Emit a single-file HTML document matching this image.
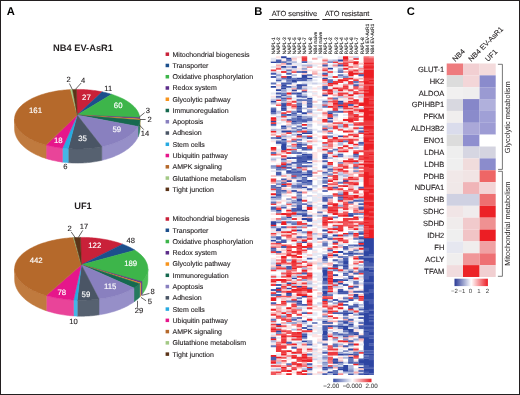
<!DOCTYPE html>
<html><head><meta charset="utf-8"><style>
html,body{margin:0;padding:0;background:#fff;}
body{width:520px;height:395px;overflow:hidden;position:relative;}
svg{position:absolute;left:0;top:0;will-change:transform;}
text{font-family:"Liberation Sans", sans-serif;text-rendering:geometricPrecision;}
</style></head><body>
<svg width="520" height="395" viewBox="0 0 520 395" shape-rendering="geometricPrecision">
<rect x="0" y="0" width="520" height="395" fill="#fff"/>
<text x="6.8" y="14.6" font-size="11.2" font-weight="bold" fill="#000">A</text>
<text x="254.2" y="14.7" font-size="11.2" font-weight="bold" fill="#000">B</text>
<text x="406.7" y="14.6" font-size="11.2" font-weight="bold" fill="#000">C</text>
<text x="83" y="50.9" font-size="9.3" font-weight="bold" text-anchor="middle" fill="#231f20">NB4 EV-AsR1</text>
<text x="83" y="208.9" font-size="9.3" font-weight="bold" text-anchor="middle" fill="#231f20">UF1</text>
<polygon points="139.90,119.20 139.89,119.60 139.88,120.00 139.88,129.48 139.89,129.01 139.90,128.55" fill="#f8a03a" stroke="#f8a03a" stroke-width="0.5" stroke-linejoin="round"/>
<polygon points="139.88,120.00 139.82,120.72 139.72,121.45 139.59,122.17 139.42,122.89 139.21,123.61 138.97,124.32 138.69,125.03 138.37,125.74 138.02,126.45 138.02,136.95 138.37,136.14 138.69,135.31 138.97,134.49 139.21,133.66 139.42,132.83 139.59,131.99 139.72,131.16 139.82,130.32 139.88,129.48" fill="#257a5e" stroke="#257a5e" stroke-width="0.5" stroke-linejoin="round"/>
<polygon points="138.02,126.45 137.61,127.19 137.16,127.92 136.67,128.65 136.14,129.37 135.57,130.08 134.97,130.79 134.32,131.49 133.64,132.18 132.92,132.86 132.17,133.53 131.38,134.20 130.55,134.85 129.69,135.50 128.80,136.13 127.87,136.75 126.90,137.37 125.91,137.96 124.88,138.55 123.82,139.13 122.73,139.69 121.62,140.23 120.47,140.77 119.29,141.29 118.09,141.79 116.86,142.28 115.60,142.76 114.32,143.22 113.01,143.66 111.68,144.09 110.33,144.50 108.95,144.90 107.56,145.27 106.14,145.64 104.71,145.98 103.26,146.30 101.79,146.61 101.79,160.33 103.26,159.98 104.71,159.60 106.14,159.20 107.56,158.78 108.95,158.34 110.33,157.88 111.68,157.41 113.01,156.91 114.32,156.40 115.60,155.86 116.86,155.31 118.09,154.74 119.29,154.16 120.47,153.56 121.62,152.94 122.73,152.30 123.82,151.65 124.88,150.99 125.91,150.31 126.90,149.61 127.87,148.90 128.80,148.18 129.69,147.45 130.55,146.70 131.38,145.94 132.17,145.17 132.92,144.39 133.64,143.60 134.32,142.80 134.97,141.98 135.57,141.16 136.14,140.34 136.67,139.50 137.16,138.66 137.61,137.81 138.02,136.95" fill="#968fc8" stroke="#968fc8" stroke-width="0.5" stroke-linejoin="round"/>
<polygon points="101.79,146.61 100.28,146.91 98.75,147.18 97.21,147.44 95.66,147.68 94.09,147.90 92.51,148.10 90.92,148.28 89.32,148.44 87.72,148.58 86.10,148.70 84.48,148.80 82.86,148.88 81.23,148.94 79.60,148.98 77.97,149.00 76.33,149.00 74.70,148.98 73.07,148.94 71.44,148.87 69.82,148.79 68.20,148.69 68.20,162.74 69.82,162.86 71.44,162.95 73.07,163.02 74.70,163.07 76.33,163.10 77.97,163.10 79.60,163.07 81.23,163.03 82.86,162.96 84.48,162.87 86.10,162.75 87.72,162.61 89.32,162.45 90.92,162.26 92.51,162.05 94.09,161.82 95.66,161.57 97.21,161.29 98.75,161.00 100.28,160.67 101.79,160.33" fill="#566170" stroke="#566170" stroke-width="0.5" stroke-linejoin="round"/>
<polygon points="68.20,148.69 66.75,148.58 65.30,148.46 63.86,148.32 62.43,148.16 62.43,162.13 63.86,162.31 65.30,162.47 66.75,162.62 68.20,162.74" fill="#45b5e6" stroke="#45b5e6" stroke-width="0.5" stroke-linejoin="round"/>
<polygon points="62.43,148.16 60.87,147.97 59.33,147.76 57.80,147.54 56.28,147.29 54.78,147.03 53.29,146.75 51.81,146.45 50.35,146.13 48.91,145.80 47.49,145.44 46.09,145.07 46.09,158.55 47.49,158.98 48.91,159.38 50.35,159.77 51.81,160.14 53.29,160.49 54.78,160.81 56.28,161.12 57.80,161.40 59.33,161.67 60.87,161.91 62.43,162.13" fill="#e94499" stroke="#e94499" stroke-width="0.5" stroke-linejoin="round"/>
<polygon points="46.09,145.07 44.70,144.69 43.34,144.28 42.00,143.86 40.68,143.42 39.38,142.97 38.11,142.50 36.87,142.02 35.65,141.52 34.46,141.00 33.30,140.48 32.16,139.93 31.06,139.38 29.99,138.81 28.94,138.23 27.93,137.63 26.95,137.03 26.01,136.41 25.10,135.78 24.22,135.14 23.38,134.49 22.57,133.83 21.80,133.15 21.06,132.47 20.37,131.79 19.71,131.09 19.08,130.38 18.50,129.67 17.95,128.95 17.45,128.23 16.98,127.50 16.55,126.76 16.16,126.02 15.82,125.27 15.51,124.52 15.24,123.77 15.01,123.01 14.83,122.25 14.69,121.49 14.58,120.73 14.52,119.96 14.50,119.20 14.50,128.55 14.52,129.44 14.58,130.32 14.69,131.21 14.83,132.09 15.01,132.97 15.24,133.85 15.51,134.72 15.82,135.59 16.16,136.45 16.55,137.31 16.98,138.17 17.45,139.02 17.95,139.86 18.50,140.69 19.08,141.52 19.71,142.33 20.37,143.14 21.06,143.94 21.80,144.73 22.57,145.51 23.38,146.27 24.22,147.03 25.10,147.77 26.01,148.50 26.95,149.22 27.93,149.92 28.94,150.61 29.99,151.28 31.06,151.94 32.16,152.59 33.30,153.22 34.46,153.83 35.65,154.42 36.87,155.00 38.11,155.56 39.38,156.11 40.68,156.63 42.00,157.14 43.34,157.63 44.70,158.10 46.09,158.55" fill="#c07a3e" stroke="#c07a3e" stroke-width="0.5" stroke-linejoin="round"/>
<polygon points="77.20,115.10 76.43,89.40 77.99,89.40 79.55,89.42 81.10,89.46 82.65,89.51 84.20,89.59 85.75,89.68 87.29,89.79 88.82,89.92 90.34,90.06 91.86,90.23 93.37,90.41 94.87,90.61 96.36,90.82 97.83,91.06 99.30,91.31 100.75,91.58 102.18,91.87" fill="#c92139" stroke="#c92139" stroke-width="0.5" stroke-linejoin="round"/>
<polygon points="77.20,115.10 102.18,91.87 103.59,92.17 104.97,92.48 106.35,92.82 107.70,93.16 109.04,93.53 110.35,93.91 111.65,94.30" fill="#1c4f8c" stroke="#1c4f8c" stroke-width="0.5" stroke-linejoin="round"/>
<polygon points="77.20,115.10 111.65,94.30 113.00,94.74 114.33,95.19 115.64,95.66 116.91,96.14 118.16,96.64 119.39,97.15 120.58,97.68 121.74,98.23 122.88,98.79 123.98,99.36 125.05,99.94 126.09,100.54 127.10,101.16 128.07,101.78 129.01,102.41 129.91,103.06 130.78,103.72 131.61,104.39 132.40,105.07 133.16,105.75 133.87,106.45 134.55,107.16 135.19,107.87 135.79,108.59 136.36,109.32 136.88,110.06 137.36,110.80 137.80,111.55 138.20,112.30 138.55,113.06 138.87,113.82 139.14,114.59 139.38,115.35 139.57,116.12 139.71,116.90 139.82,117.67" fill="#3db54a" stroke="#3db54a" stroke-width="0.5" stroke-linejoin="round"/>
<polygon points="77.20,115.10 139.82,117.67 139.88,118.37 139.90,119.07" fill="#5c2d8a" stroke="#5c2d8a" stroke-width="0.5" stroke-linejoin="round"/>
<polygon points="77.20,115.10 139.90,119.07 139.90,119.53 139.88,120.00" fill="#f7941d" stroke="#f7941d" stroke-width="0.5" stroke-linejoin="round"/>
<polygon points="77.20,115.10 139.88,120.00 139.82,120.72 139.72,121.45 139.59,122.17 139.42,122.89 139.21,123.61 138.97,124.32 138.69,125.03 138.37,125.74 138.02,126.45" fill="#16694f" stroke="#16694f" stroke-width="0.5" stroke-linejoin="round"/>
<polygon points="77.20,115.10 138.02,126.45 137.61,127.19 137.16,127.92 136.67,128.65 136.14,129.37 135.57,130.08 134.97,130.79 134.32,131.49 133.64,132.18 132.92,132.86 132.17,133.53 131.38,134.20 130.55,134.85 129.69,135.50 128.80,136.13 127.87,136.75 126.90,137.37 125.91,137.96 124.88,138.55 123.82,139.13 122.73,139.69 121.62,140.23 120.47,140.77 119.29,141.29 118.09,141.79 116.86,142.28 115.60,142.76 114.32,143.22 113.01,143.66 111.68,144.09 110.33,144.50 108.95,144.90 107.56,145.27 106.14,145.64 104.71,145.98 103.26,146.30 101.79,146.61" fill="#8980bf" stroke="#8980bf" stroke-width="0.5" stroke-linejoin="round"/>
<polygon points="77.20,115.10 101.79,146.61 100.28,146.91 98.75,147.18 97.21,147.44 95.66,147.68 94.09,147.90 92.51,148.10 90.92,148.28 89.32,148.44 87.72,148.58 86.10,148.70 84.48,148.80 82.86,148.88 81.23,148.94 79.60,148.98 77.97,149.00 76.33,149.00 74.70,148.98 73.07,148.94 71.44,148.87 69.82,148.79 68.20,148.69" fill="#4a5565" stroke="#4a5565" stroke-width="0.5" stroke-linejoin="round"/>
<polygon points="77.20,115.10 68.20,148.69 66.75,148.58 65.30,148.46 63.86,148.32 62.43,148.16" fill="#27aae1" stroke="#27aae1" stroke-width="0.5" stroke-linejoin="round"/>
<polygon points="77.20,115.10 62.43,148.16 60.87,147.97 59.33,147.76 57.80,147.54 56.28,147.29 54.78,147.03 53.29,146.75 51.81,146.45 50.35,146.13 48.91,145.80 47.49,145.44 46.09,145.07" fill="#e6168b" stroke="#e6168b" stroke-width="0.5" stroke-linejoin="round"/>
<polygon points="77.20,115.10 46.09,145.07 44.69,144.68 43.31,144.27 41.95,143.84 40.62,143.40 39.31,142.94 38.03,142.47 36.77,141.98 35.54,141.47 34.34,140.95 33.17,140.41 32.02,139.86 30.91,139.30 29.83,138.72 28.78,138.13 27.76,137.53 26.78,136.91 25.83,136.29 24.91,135.65 24.03,135.00 23.19,134.34 22.38,133.66 21.61,132.98 20.88,132.29 20.18,131.60 19.52,130.89 18.91,130.17 18.33,129.45 17.79,128.72 17.29,127.99 16.83,127.24 16.41,126.50 16.03,125.75 15.69,124.99 15.40,124.23 15.15,123.47 14.93,122.70 14.76,121.93 14.64,121.16 14.55,120.39 14.51,119.61 14.50,118.84 14.55,118.07 14.63,117.30 14.75,116.53 14.92,115.76 15.13,114.99 15.38,114.23 15.67,113.47 16.01,112.71 16.38,111.96 16.80,111.21 17.25,110.47 17.75,109.73 18.29,109.00 18.86,108.28 19.48,107.56 20.13,106.86 20.83,106.16 21.56,105.47 22.32,104.78 23.13,104.11 23.97,103.45 24.85,102.80 25.76,102.16 26.71,101.53 27.69,100.92 28.70,100.31 29.75,99.72 30.83,99.14 31.94,98.58 33.08,98.03 34.25,97.49 35.45,96.97 36.68,96.46 37.93,95.97 39.22,95.49 40.52,95.03 41.85,94.59 43.21,94.16 44.59,93.75 45.99,93.35 47.41,92.98 48.85,92.62 50.31,92.28 51.79,91.96 53.28,91.65 54.79,91.37 56.32,91.10 57.86,90.85 59.42,90.62 60.98,90.41 62.56,90.22 64.14,90.05 65.74,89.90 67.34,89.77 68.95,89.66 70.57,89.57" fill="#b5692b" stroke="#b5692b" stroke-width="0.5" stroke-linejoin="round"/>
<polygon points="77.20,115.10 70.57,89.57 71.54,89.52 72.52,89.48" fill="#a3c985" stroke="#a3c985" stroke-width="0.5" stroke-linejoin="round"/>
<polygon points="77.20,115.10 72.52,89.48 73.82,89.44 75.13,89.42 76.43,89.40" fill="#5b3418" stroke="#5b3418" stroke-width="0.5" stroke-linejoin="round"/>
<polygon points="147.90,268.80 147.88,269.58 147.82,270.36 147.71,271.15 147.57,271.93 147.38,272.70 147.16,273.48 146.89,274.25 146.58,275.02 146.23,275.79 145.84,276.55 145.41,277.30 144.94,278.05 144.43,278.80 143.88,279.54 143.29,280.27 142.67,281.00 142.00,281.71 142.00,294.53 142.67,293.69 143.29,292.84 143.88,291.98 144.43,291.12 144.94,290.25 145.41,289.37 145.84,288.48 146.23,287.59 146.58,286.69 146.89,285.79 147.16,284.88 147.38,283.98 147.57,283.06 147.71,282.15 147.82,281.23 147.88,280.32 147.90,279.40" fill="#4dbd58" stroke="#4dbd58" stroke-width="0.5" stroke-linejoin="round"/>
<polygon points="142.00,281.71 141.38,282.35 140.72,282.98 140.72,296.02 141.38,295.28 142.00,294.53" fill="#6a3a96" stroke="#6a3a96" stroke-width="0.5" stroke-linejoin="round"/>
<polygon points="140.72,282.98 140.29,283.37 139.85,283.76 139.85,296.93 140.29,296.48 140.72,296.02" fill="#f8a03a" stroke="#f8a03a" stroke-width="0.5" stroke-linejoin="round"/>
<polygon points="139.85,283.76 139.10,284.39 138.32,285.02 137.51,285.64 136.67,286.25 135.79,286.85 134.89,287.44 133.96,288.02 133.96,301.92 134.89,301.24 135.79,300.55 136.67,299.85 137.51,299.13 138.32,298.41 139.10,297.67 139.85,296.93" fill="#257a5e" stroke="#257a5e" stroke-width="0.5" stroke-linejoin="round"/>
<polygon points="133.96,288.02 132.89,288.65 131.79,289.27 130.66,289.87 129.49,290.46 128.30,291.04 127.07,291.60 125.81,292.15 124.52,292.68 123.20,293.20 121.85,293.70 120.48,294.18 119.08,294.65 117.66,295.10 116.21,295.53 114.74,295.95 113.25,296.34 111.74,296.72 110.20,297.08 108.65,297.42 107.08,297.75 105.49,298.05 103.88,298.33 102.27,298.60 100.63,298.84 98.99,299.07 98.99,314.87 100.63,314.61 102.27,314.32 103.88,314.01 105.49,313.68 107.08,313.32 108.65,312.95 110.20,312.55 111.74,312.12 113.25,311.68 114.74,311.22 116.21,310.73 117.66,310.22 119.08,309.70 120.48,309.15 121.85,308.58 123.20,308.00 124.52,307.39 125.81,306.77 127.07,306.13 128.30,305.47 129.49,304.79 130.66,304.10 131.79,303.39 132.89,302.66 133.96,301.92" fill="#968fc8" stroke="#968fc8" stroke-width="0.5" stroke-linejoin="round"/>
<polygon points="98.99,299.07 97.35,299.27 95.71,299.45 94.05,299.62 92.39,299.76 90.72,299.88 89.04,299.98 87.36,300.07 85.67,300.13 83.98,300.17 82.29,300.20 80.60,300.20 78.91,300.18 77.22,300.14 77.22,316.13 78.91,316.18 80.60,316.20 82.29,316.20 83.98,316.17 85.67,316.12 87.36,316.05 89.04,315.95 90.72,315.83 92.39,315.68 94.05,315.51 95.71,315.32 97.35,315.11 98.99,314.87" fill="#566170" stroke="#566170" stroke-width="0.5" stroke-linejoin="round"/>
<polygon points="77.22,300.14 75.98,300.10 74.75,300.05 73.51,299.99 73.51,315.95 74.75,316.02 75.98,316.08 77.22,316.13" fill="#45b5e6" stroke="#45b5e6" stroke-width="0.5" stroke-linejoin="round"/>
<polygon points="73.51,299.99 71.82,299.88 70.13,299.76 68.45,299.62 66.77,299.45 65.11,299.27 63.46,299.06 61.82,298.84 60.19,298.59 58.57,298.33 56.97,298.04 55.39,297.74 53.82,297.42 52.27,297.08 50.74,296.72 49.23,296.34 47.74,295.94 46.28,295.53 46.28,310.73 47.74,311.21 49.23,311.68 50.74,312.12 52.27,312.54 53.82,312.94 55.39,313.32 56.97,313.67 58.57,314.00 60.19,314.31 61.82,314.60 63.46,314.86 65.11,315.10 66.77,315.32 68.45,315.51 70.13,315.68 71.82,315.83 73.51,315.95" fill="#e94499" stroke="#e94499" stroke-width="0.5" stroke-linejoin="round"/>
<polygon points="46.28,295.53 44.81,295.09 43.36,294.63 41.95,294.16 40.55,293.67 39.19,293.16 37.85,292.63 36.55,292.09 35.27,291.53 34.03,290.96 32.82,290.37 31.64,289.77 30.49,289.15 29.38,288.52 28.31,287.87 27.27,287.22 26.26,286.55 25.30,285.86 24.37,285.17 23.49,284.46 22.64,283.75 21.83,283.02 21.06,282.29 20.33,281.54 19.65,280.79 19.00,280.03 18.40,279.26 17.85,278.48 17.33,277.70 16.86,276.91 16.43,276.11 16.05,275.31 15.71,274.51 15.42,273.70 15.17,272.89 14.96,272.07 14.80,271.26 14.69,270.44 14.62,269.62 14.60,268.80 14.60,279.40 14.62,280.36 14.69,281.32 14.80,282.28 14.96,283.24 15.17,284.19 15.42,285.14 15.71,286.09 16.05,287.03 16.43,287.97 16.86,288.90 17.33,289.83 17.85,290.74 18.40,291.65 19.00,292.56 19.65,293.45 20.33,294.33 21.06,295.21 21.83,296.07 22.64,296.92 23.49,297.76 24.37,298.58 25.30,299.40 26.26,300.20 27.27,300.98 28.31,301.75 29.38,302.51 30.49,303.25 31.64,303.97 32.82,304.68 34.03,305.37 35.27,306.04 36.55,306.70 37.85,307.33 39.19,307.95 40.55,308.54 41.95,309.12 43.36,309.68 44.81,310.21 46.28,310.73" fill="#c07a3e" stroke="#c07a3e" stroke-width="0.5" stroke-linejoin="round"/>
<polygon points="81.40,264.80 80.44,237.40 82.12,237.40 83.80,237.42 85.48,237.46 87.16,237.52 88.84,237.60 90.51,237.70 92.17,237.82 93.83,237.96 95.48,238.12 97.12,238.30 98.75,238.50 100.37,238.72 101.97,238.96 103.57,239.21 105.14,239.49 106.71,239.78 108.26,240.09 109.79,240.42 111.30,240.77 112.79,241.14 114.26,241.52 115.72,241.92 117.15,242.34 118.55,242.78 119.94,243.23 121.29,243.70 122.63,244.18" fill="#c92139" stroke="#c92139" stroke-width="0.5" stroke-linejoin="round"/>
<polygon points="81.40,264.80 122.63,244.18 123.89,244.67 125.13,245.16 126.34,245.67 127.52,246.20 128.68,246.74 129.80,247.29 130.90,247.85 131.97,248.43 133.01,249.02 134.02,249.62 135.00,250.23" fill="#1c4f8c" stroke="#1c4f8c" stroke-width="0.5" stroke-linejoin="round"/>
<polygon points="81.40,264.80 135.00,250.23 136.00,250.89 136.96,251.56 137.88,252.24 138.77,252.94 139.62,253.64 140.43,254.35 141.20,255.08 141.93,255.81 142.62,256.55 143.27,257.30 143.88,258.05 144.44,258.82 144.97,259.59 145.45,260.37 145.89,261.15 146.29,261.93 146.64,262.73 146.95,263.52 147.22,264.32 147.44,265.12 147.62,265.93 147.76,266.74 147.85,267.54 147.89,268.35 147.90,269.16 147.85,269.97 147.77,270.78 147.64,271.59 147.46,272.39 147.24,273.19 146.98,273.99 146.68,274.79 146.33,275.58 145.94,276.37 145.50,277.15 145.02,277.93 144.50,278.70 143.94,279.46 143.33,280.22 142.69,280.97 142.00,281.71" fill="#3db54a" stroke="#3db54a" stroke-width="0.5" stroke-linejoin="round"/>
<polygon points="81.40,264.80 142.00,281.71 141.38,282.35 140.72,282.98" fill="#5c2d8a" stroke="#5c2d8a" stroke-width="0.5" stroke-linejoin="round"/>
<polygon points="81.40,264.80 140.72,282.98 140.29,283.37 139.85,283.76" fill="#f7941d" stroke="#f7941d" stroke-width="0.5" stroke-linejoin="round"/>
<polygon points="81.40,264.80 139.85,283.76 139.10,284.39 138.32,285.02 137.51,285.64 136.67,286.25 135.79,286.85 134.89,287.44 133.96,288.02" fill="#16694f" stroke="#16694f" stroke-width="0.5" stroke-linejoin="round"/>
<polygon points="81.40,264.80 133.96,288.02 132.89,288.65 131.79,289.27 130.66,289.87 129.49,290.46 128.30,291.04 127.07,291.60 125.81,292.15 124.52,292.68 123.20,293.20 121.85,293.70 120.48,294.18 119.08,294.65 117.66,295.10 116.21,295.53 114.74,295.95 113.25,296.34 111.74,296.72 110.20,297.08 108.65,297.42 107.08,297.75 105.49,298.05 103.88,298.33 102.27,298.60 100.63,298.84 98.99,299.07" fill="#8980bf" stroke="#8980bf" stroke-width="0.5" stroke-linejoin="round"/>
<polygon points="81.40,264.80 98.99,299.07 97.35,299.27 95.71,299.45 94.05,299.62 92.39,299.76 90.72,299.88 89.04,299.98 87.36,300.07 85.67,300.13 83.98,300.17 82.29,300.20 80.60,300.20 78.91,300.18 77.22,300.14" fill="#4a5565" stroke="#4a5565" stroke-width="0.5" stroke-linejoin="round"/>
<polygon points="81.40,264.80 77.22,300.14 75.98,300.10 74.75,300.05 73.51,299.99" fill="#27aae1" stroke="#27aae1" stroke-width="0.5" stroke-linejoin="round"/>
<polygon points="81.40,264.80 73.51,299.99 71.82,299.88 70.13,299.76 68.45,299.62 66.77,299.45 65.11,299.27 63.46,299.06 61.82,298.84 60.19,298.59 58.57,298.33 56.97,298.04 55.39,297.74 53.82,297.42 52.27,297.08 50.74,296.72 49.23,296.34 47.74,295.94 46.28,295.53" fill="#e6168b" stroke="#e6168b" stroke-width="0.5" stroke-linejoin="round"/>
<polygon points="81.40,264.80 46.28,295.53 44.81,295.09 43.38,294.64 41.96,294.16 40.58,293.67 39.22,293.17 37.88,292.64 36.58,292.11 35.31,291.55 34.07,290.98 32.86,290.39 31.69,289.79 30.55,289.18 29.44,288.55 28.37,287.91 27.33,287.26 26.33,286.59 25.36,285.91 24.44,285.22 23.55,284.52 22.70,283.81 21.89,283.08 21.13,282.35 20.40,281.61 19.71,280.86 19.07,280.10 18.46,279.34 17.90,278.56 17.39,277.78 16.91,277.00 16.48,276.21 16.09,275.41 15.75,274.61 15.45,273.81 15.20,273.00 14.99,272.19 14.82,271.38 14.70,270.56 14.63,269.75 14.60,268.93 14.62,268.11 14.68,267.30 14.78,266.48 14.93,265.67 15.13,264.86 15.37,264.05 15.65,263.24 15.98,262.44 16.35,261.64 16.77,260.85 17.23,260.06 17.74,259.28 18.28,258.51 18.87,257.74 19.50,256.98 20.18,256.23 20.89,255.48 21.65,254.75 22.44,254.02 23.28,253.31 24.16,252.60 25.07,251.91 26.02,251.22 27.01,250.55 28.03,249.89 29.10,249.25 30.19,248.62 31.32,248.00 32.49,247.39 33.69,246.80 34.92,246.23 36.18,245.67 37.47,245.12 38.79,244.60 40.14,244.08 41.52,243.59 42.93,243.11 44.36,242.65 45.81,242.21 47.29,241.78 48.80,241.37 50.32,240.99 51.87,240.62 53.43,240.27 55.02,239.93 56.62,239.62 58.24,239.33 59.87,239.06 61.52,238.81 63.18,238.58 64.86,238.36 66.54,238.17 68.24,238.00 69.94,237.86 71.66,237.73 73.38,237.62" fill="#b5692b" stroke="#b5692b" stroke-width="0.5" stroke-linejoin="round"/>
<polygon points="81.40,264.80 73.38,237.62 74.12,237.58" fill="#a3c985" stroke="#a3c985" stroke-width="0.5" stroke-linejoin="round"/>
<polygon points="81.40,264.80 74.12,237.58 75.69,237.51 77.27,237.46 78.85,237.42 80.44,237.40" fill="#5b3418" stroke="#5b3418" stroke-width="0.5" stroke-linejoin="round"/>
<text x="35.55" y="113.15" font-size="7.8" text-anchor="middle" fill="#fff" stroke="#fff" stroke-width="0.15">161</text>
<text x="58.3" y="143.05" font-size="7.8" text-anchor="middle" fill="#fff" stroke="#fff" stroke-width="0.15">18</text>
<text x="82.55" y="140.95" font-size="7.8" text-anchor="middle" fill="#fff" stroke="#fff" stroke-width="0.15">35</text>
<text x="86.45" y="99.55" font-size="7.8" text-anchor="middle" fill="#fff" stroke="#fff" stroke-width="0.15">27</text>
<text x="118.15" y="108.05" font-size="7.8" text-anchor="middle" fill="#fff" stroke="#fff" stroke-width="0.15">60</text>
<text x="116.75" y="132.05" font-size="7.8" text-anchor="middle" fill="#fff" stroke="#fff" stroke-width="0.15">59</text>
<text x="36.15" y="263.0" font-size="7.8" text-anchor="middle" fill="#fff" stroke="#fff" stroke-width="0.15">442</text>
<text x="61.75" y="294.65" font-size="7.8" text-anchor="middle" fill="#fff" stroke="#fff" stroke-width="0.15">78</text>
<text x="85.95" y="296.5" font-size="7.8" text-anchor="middle" fill="#fff" stroke="#fff" stroke-width="0.15">59</text>
<text x="110.2" y="288.5" font-size="7.8" text-anchor="middle" fill="#fff" stroke="#fff" stroke-width="0.15">115</text>
<text x="94.75" y="247.6" font-size="7.8" text-anchor="middle" fill="#fff" stroke="#fff" stroke-width="0.15">122</text>
<text x="130.65" y="265.55" font-size="7.8" text-anchor="middle" fill="#fff" stroke="#fff" stroke-width="0.15">189</text>
<text x="68.65" y="82.0" font-size="7.6" text-anchor="middle" fill="#231f20" stroke="#231f20" stroke-width="0.12">2</text>
<text x="83.0" y="82.8" font-size="7.6" text-anchor="middle" fill="#231f20" stroke="#231f20" stroke-width="0.12">4</text>
<text x="108.25" y="90.9" font-size="7.6" text-anchor="middle" fill="#231f20" stroke="#231f20" stroke-width="0.12">11</text>
<text x="147.8" y="112.8" font-size="7.6" text-anchor="middle" fill="#231f20" stroke="#231f20" stroke-width="0.12">3</text>
<text x="149.7" y="122.1" font-size="7.6" text-anchor="middle" fill="#231f20" stroke="#231f20" stroke-width="0.12">2</text>
<text x="145.1" y="136.45" font-size="7.6" text-anchor="middle" fill="#231f20" stroke="#231f20" stroke-width="0.12">14</text>
<text x="65.4" y="169.4" font-size="7.6" text-anchor="middle" fill="#231f20" stroke="#231f20" stroke-width="0.12">6</text>
<text x="69.6" y="230.85" font-size="7.6" text-anchor="middle" fill="#231f20" stroke="#231f20" stroke-width="0.12">2</text>
<text x="84.05" y="229.45" font-size="7.6" text-anchor="middle" fill="#231f20" stroke="#231f20" stroke-width="0.12">17</text>
<text x="130.65" y="243.05" font-size="7.6" text-anchor="middle" fill="#231f20" stroke="#231f20" stroke-width="0.12">48</text>
<text x="152.6" y="293.75" font-size="7.6" text-anchor="middle" fill="#231f20" stroke="#231f20" stroke-width="0.12">8</text>
<text x="149.95" y="303.95" font-size="7.6" text-anchor="middle" fill="#231f20" stroke="#231f20" stroke-width="0.12">5</text>
<text x="138.95" y="312.85" font-size="7.6" text-anchor="middle" fill="#231f20" stroke="#231f20" stroke-width="0.12">29</text>
<text x="73.6" y="323.55" font-size="7.6" text-anchor="middle" fill="#231f20" stroke="#231f20" stroke-width="0.12">10</text>
<line x1="69.4" y1="83.5" x2="72.3" y2="89.4" stroke="#231f20" stroke-width="0.7"/>
<line x1="81.2" y1="83" x2="75.4" y2="89.4" stroke="#231f20" stroke-width="0.7"/>
<line x1="144.6" y1="112.7" x2="139.2" y2="117.1" stroke="#231f20" stroke-width="0.7"/>
<line x1="145.6" y1="119.5" x2="139.8" y2="119.5" stroke="#231f20" stroke-width="0.7"/>
<line x1="143.7" y1="129.6" x2="139.2" y2="124.8" stroke="#231f20" stroke-width="0.7"/>
<line x1="71.2" y1="231.9" x2="75.4" y2="237.9" stroke="#231f20" stroke-width="0.7"/>
<line x1="82.7" y1="230.4" x2="78.3" y2="237.5" stroke="#231f20" stroke-width="0.7"/>
<line x1="149.5" y1="293.4" x2="142.1" y2="295.3" stroke="#231f20" stroke-width="0.7"/>
<line x1="146.1" y1="300.8" x2="141" y2="297.4" stroke="#231f20" stroke-width="0.7"/>
<line x1="137.5" y1="307.6" x2="137.5" y2="300.8" stroke="#231f20" stroke-width="0.7"/>
<rect x="165.6" y="52.45" width="3.5" height="3.5" fill="#c92139"/>
<text x="172.5" y="56.65" font-size="7.0" fill="#231f20" stroke="#231f20" stroke-width="0.12">Mitochondrial biogenesis</text>
<rect x="165.6" y="63.71" width="3.5" height="3.5" fill="#1c4f8c"/>
<text x="172.5" y="67.91" font-size="7.0" fill="#231f20" stroke="#231f20" stroke-width="0.12">Transporter</text>
<rect x="165.6" y="74.97" width="3.5" height="3.5" fill="#3db54a"/>
<text x="172.5" y="79.17" font-size="7.0" fill="#231f20" stroke="#231f20" stroke-width="0.12">Oxidative phosphorylation</text>
<rect x="165.6" y="86.23" width="3.5" height="3.5" fill="#5c2d8a"/>
<text x="172.5" y="90.43" font-size="7.0" fill="#231f20" stroke="#231f20" stroke-width="0.12">Redox system</text>
<rect x="165.6" y="97.49" width="3.5" height="3.5" fill="#f7941d"/>
<text x="172.5" y="101.69" font-size="7.0" fill="#231f20" stroke="#231f20" stroke-width="0.12">Glycolytic pathway</text>
<rect x="165.6" y="108.75" width="3.5" height="3.5" fill="#16694f"/>
<text x="172.5" y="112.95" font-size="7.0" fill="#231f20" stroke="#231f20" stroke-width="0.12">Immunoregulation</text>
<rect x="165.6" y="120.01" width="3.5" height="3.5" fill="#8980bf"/>
<text x="172.5" y="124.21" font-size="7.0" fill="#231f20" stroke="#231f20" stroke-width="0.12">Apoptosis</text>
<rect x="165.6" y="131.27" width="3.5" height="3.5" fill="#4a5565"/>
<text x="172.5" y="135.47" font-size="7.0" fill="#231f20" stroke="#231f20" stroke-width="0.12">Adhesion</text>
<rect x="165.6" y="142.53" width="3.5" height="3.5" fill="#27aae1"/>
<text x="172.5" y="146.73" font-size="7.0" fill="#231f20" stroke="#231f20" stroke-width="0.12">Stem cells</text>
<rect x="165.6" y="153.79" width="3.5" height="3.5" fill="#e6168b"/>
<text x="172.5" y="157.99" font-size="7.0" fill="#231f20" stroke="#231f20" stroke-width="0.12">Ubiquitin pathway</text>
<rect x="165.6" y="165.05" width="3.5" height="3.5" fill="#b5692b"/>
<text x="172.5" y="169.25" font-size="7.0" fill="#231f20" stroke="#231f20" stroke-width="0.12">AMPK signaling</text>
<rect x="165.6" y="176.31" width="3.5" height="3.5" fill="#a3c985"/>
<text x="172.5" y="180.51" font-size="7.0" fill="#231f20" stroke="#231f20" stroke-width="0.12">Glutathione metabolism</text>
<rect x="165.6" y="187.57" width="3.5" height="3.5" fill="#5b3418"/>
<text x="172.5" y="191.77" font-size="7.0" fill="#231f20" stroke="#231f20" stroke-width="0.12">Tight junction</text>
<rect x="165.6" y="217.25" width="3.5" height="3.5" fill="#c92139"/>
<text x="172.5" y="221.45" font-size="7.0" fill="#231f20" stroke="#231f20" stroke-width="0.12">Mitochondrial biogenesis</text>
<rect x="165.6" y="228.51" width="3.5" height="3.5" fill="#1c4f8c"/>
<text x="172.5" y="232.71" font-size="7.0" fill="#231f20" stroke="#231f20" stroke-width="0.12">Transporter</text>
<rect x="165.6" y="239.77" width="3.5" height="3.5" fill="#3db54a"/>
<text x="172.5" y="243.97" font-size="7.0" fill="#231f20" stroke="#231f20" stroke-width="0.12">Oxidative phosphorylation</text>
<rect x="165.6" y="251.03" width="3.5" height="3.5" fill="#5c2d8a"/>
<text x="172.5" y="255.23" font-size="7.0" fill="#231f20" stroke="#231f20" stroke-width="0.12">Redox system</text>
<rect x="165.6" y="262.29" width="3.5" height="3.5" fill="#f7941d"/>
<text x="172.5" y="266.49" font-size="7.0" fill="#231f20" stroke="#231f20" stroke-width="0.12">Glycolytic pathway</text>
<rect x="165.6" y="273.55" width="3.5" height="3.5" fill="#16694f"/>
<text x="172.5" y="277.75" font-size="7.0" fill="#231f20" stroke="#231f20" stroke-width="0.12">Immunoregulation</text>
<rect x="165.6" y="284.81" width="3.5" height="3.5" fill="#8980bf"/>
<text x="172.5" y="289.01" font-size="7.0" fill="#231f20" stroke="#231f20" stroke-width="0.12">Apoptosis</text>
<rect x="165.6" y="296.07" width="3.5" height="3.5" fill="#4a5565"/>
<text x="172.5" y="300.27" font-size="7.0" fill="#231f20" stroke="#231f20" stroke-width="0.12">Adhesion</text>
<rect x="165.6" y="307.33" width="3.5" height="3.5" fill="#27aae1"/>
<text x="172.5" y="311.53" font-size="7.0" fill="#231f20" stroke="#231f20" stroke-width="0.12">Stem cells</text>
<rect x="165.6" y="318.59" width="3.5" height="3.5" fill="#e6168b"/>
<text x="172.5" y="322.79" font-size="7.0" fill="#231f20" stroke="#231f20" stroke-width="0.12">Ubiquitin pathway</text>
<rect x="165.6" y="329.85" width="3.5" height="3.5" fill="#b5692b"/>
<text x="172.5" y="334.05" font-size="7.0" fill="#231f20" stroke="#231f20" stroke-width="0.12">AMPK signaling</text>
<rect x="165.6" y="341.11" width="3.5" height="3.5" fill="#a3c985"/>
<text x="172.5" y="345.31" font-size="7.0" fill="#231f20" stroke="#231f20" stroke-width="0.12">Glutathione metabolism</text>
<rect x="165.6" y="352.37" width="3.5" height="3.5" fill="#5b3418"/>
<text x="172.5" y="356.57" font-size="7.0" fill="#231f20" stroke="#231f20" stroke-width="0.12">Tight junction</text>
<text x="294.35" y="16.4" font-size="7.4" text-anchor="middle" fill="#231f20" stroke="#231f20" stroke-width="0.1">ATO sensitive</text>
<text x="347.15" y="16.4" font-size="7.4" text-anchor="middle" fill="#231f20" stroke="#231f20" stroke-width="0.1">ATO resistant</text>
<rect x="269.2" y="19.0" width="50.2" height="0.95" fill="#231f20"/>
<rect x="322.3" y="19.0" width="50" height="0.95" fill="#231f20"/>
<text transform="translate(275.15,54.2) rotate(-90)" font-size="4.85" fill="#222" stroke="#222" stroke-width="0.1">NAPL-1</text>
<text transform="translate(280.35,54.2) rotate(-90)" font-size="4.85" fill="#222" stroke="#222" stroke-width="0.1">NAPL-2</text>
<text transform="translate(285.56,54.2) rotate(-90)" font-size="4.85" fill="#222" stroke="#222" stroke-width="0.1">NAPL-3</text>
<text transform="translate(290.76,54.2) rotate(-90)" font-size="4.85" fill="#222" stroke="#222" stroke-width="0.1">NAPL-4</text>
<text transform="translate(295.97,54.2) rotate(-90)" font-size="4.85" fill="#222" stroke="#222" stroke-width="0.1">NAPL-5</text>
<text transform="translate(301.17,54.2) rotate(-90)" font-size="4.85" fill="#222" stroke="#222" stroke-width="0.1">NAPL-6</text>
<text transform="translate(306.38,54.2) rotate(-90)" font-size="4.85" fill="#222" stroke="#222" stroke-width="0.1">NAPL-7</text>
<text transform="translate(311.58,54.2) rotate(-90)" font-size="4.85" fill="#222" stroke="#222" stroke-width="0.1">NAPL-8</text>
<text transform="translate(316.79,54.2) rotate(-90)" font-size="4.85" fill="#222" stroke="#222" stroke-width="0.1">NB4 naive</text>
<text transform="translate(322.00,54.2) rotate(-90)" font-size="4.85" fill="#222" stroke="#222" stroke-width="0.1">NB4 naive</text>
<text transform="translate(327.20,54.2) rotate(-90)" font-size="4.85" fill="#222" stroke="#222" stroke-width="0.1">RAPL-1</text>
<text transform="translate(332.40,54.2) rotate(-90)" font-size="4.85" fill="#222" stroke="#222" stroke-width="0.1">RAPL-2</text>
<text transform="translate(337.61,54.2) rotate(-90)" font-size="4.85" fill="#222" stroke="#222" stroke-width="0.1">RAPL-3</text>
<text transform="translate(342.81,54.2) rotate(-90)" font-size="4.85" fill="#222" stroke="#222" stroke-width="0.1">RAPL-4</text>
<text transform="translate(348.02,54.2) rotate(-90)" font-size="4.85" fill="#222" stroke="#222" stroke-width="0.1">RAPL-5</text>
<text transform="translate(353.22,54.2) rotate(-90)" font-size="4.85" fill="#222" stroke="#222" stroke-width="0.1">RAPL-6</text>
<text transform="translate(358.43,54.2) rotate(-90)" font-size="4.85" fill="#222" stroke="#222" stroke-width="0.1">RAPL-7</text>
<text transform="translate(363.63,54.2) rotate(-90)" font-size="4.85" fill="#222" stroke="#222" stroke-width="0.1">RAPL-8</text>
<text transform="translate(368.84,54.2) rotate(-90)" font-size="4.85" fill="#222" stroke="#222" stroke-width="0.1">NB4 EV-AsR1</text>
<text transform="translate(374.04,54.2) rotate(-90)" font-size="4.85" fill="#222" stroke="#222" stroke-width="0.1">NB4 EV-AsR1</text>
<path fill="#fde3e4" d="M275.95 56.20h5.45v1.951h-5.45zM296.57 56.20h5.45v1.951h-5.45zM322.35 57.85h5.45v1.951h-5.45zM337.81 57.85h5.45v1.951h-5.45zM281.11 59.50h5.45v1.951h-5.45zM291.42 59.50h5.45v1.951h-5.45zM306.88 62.81h5.45v1.951h-5.45zM312.04 62.81h5.45v1.951h-5.45zM317.19 62.81h5.45v1.951h-5.45zM348.12 62.81h5.45v1.951h-5.45zM281.11 64.46h5.45v1.951h-5.45zM291.42 64.46h5.45v1.951h-5.45zM348.12 64.46h5.45v1.951h-5.45zM275.95 66.11h5.45v1.951h-5.45zM301.73 66.11h5.45v1.951h-5.45zM317.19 66.11h5.45v1.951h-5.45zM322.35 66.11h5.45v1.951h-5.45zM286.26 67.76h5.45v1.951h-5.45zM296.57 67.76h5.45v1.951h-5.45zM348.12 67.76h5.45v1.951h-5.45zM306.88 69.41h5.45v1.951h-5.45zM312.04 69.41h5.45v1.951h-5.45zM317.19 69.41h5.45v1.951h-5.45zM275.95 71.06h5.45v1.951h-5.45zM317.19 74.36h5.45v1.951h-5.45zM322.35 76.02h5.45v1.951h-5.45zM291.42 84.27h5.45v1.951h-5.45zM332.66 84.27h5.45v1.951h-5.45zM337.81 84.27h5.45v1.951h-5.45zM301.73 85.92h5.45v1.951h-5.45zM317.19 85.92h5.45v1.951h-5.45zM332.66 85.92h5.45v1.951h-5.45zM337.81 85.92h5.45v1.951h-5.45zM275.95 87.57h5.45v1.951h-5.45zM312.04 87.57h5.45v1.951h-5.45zM348.12 87.57h5.45v1.951h-5.45zM291.42 90.88h5.45v1.951h-5.45zM312.04 90.88h5.45v1.951h-5.45zM332.66 92.53h5.45v1.951h-5.45zM286.26 94.18h5.45v1.951h-5.45zM312.04 94.18h5.45v1.951h-5.45zM342.97 94.18h5.45v1.951h-5.45zM270.80 95.83h5.45v1.951h-5.45zM317.19 95.83h5.45v1.951h-5.45zM348.12 95.83h5.45v1.951h-5.45zM337.81 97.48h5.45v1.951h-5.45zM342.97 99.13h5.45v1.951h-5.45zM301.73 100.78h5.45v1.951h-5.45zM342.97 100.78h5.45v1.951h-5.45zM358.44 100.78h5.45v1.951h-5.45zM301.73 102.44h5.45v1.951h-5.45zM312.04 105.74h5.45v1.951h-5.45zM286.26 107.39h5.45v1.951h-5.45zM306.88 107.39h5.45v1.951h-5.45zM322.35 110.69h5.45v1.951h-5.45zM312.04 114.00h5.45v1.951h-5.45zM322.35 115.65h5.45v1.951h-5.45zM317.19 117.30h5.45v1.951h-5.45zM322.35 117.30h5.45v1.951h-5.45zM332.66 117.30h5.45v1.951h-5.45zM342.97 117.30h5.45v1.951h-5.45zM332.66 118.95h5.45v1.951h-5.45zM358.44 118.95h5.45v1.951h-5.45zM312.04 120.60h5.45v1.951h-5.45zM317.19 120.60h5.45v1.951h-5.45zM337.81 120.60h5.45v1.951h-5.45zM286.26 122.25h5.45v1.951h-5.45zM317.19 122.25h5.45v1.951h-5.45zM327.50 122.25h5.45v1.951h-5.45zM348.12 122.25h5.45v1.951h-5.45zM322.35 123.90h5.45v1.951h-5.45zM353.28 125.55h5.45v1.951h-5.45zM286.26 127.21h5.45v1.951h-5.45zM348.12 127.21h5.45v1.951h-5.45zM281.11 128.86h5.45v1.951h-5.45zM286.26 128.86h5.45v1.951h-5.45zM270.80 132.16h5.45v1.951h-5.45zM281.11 132.16h5.45v1.951h-5.45zM322.35 132.16h5.45v1.951h-5.45zM312.04 133.81h5.45v1.951h-5.45zM317.19 135.46h5.45v1.951h-5.45zM348.12 135.46h5.45v1.951h-5.45zM286.26 137.11h5.45v1.951h-5.45zM291.42 137.11h5.45v1.951h-5.45zM342.97 137.11h5.45v1.951h-5.45zM348.12 137.11h5.45v1.951h-5.45zM312.04 138.76h5.45v1.951h-5.45zM270.80 140.42h5.45v1.951h-5.45zM296.57 140.42h5.45v1.951h-5.45zM353.28 140.42h5.45v1.951h-5.45zM332.66 143.72h5.45v1.951h-5.45zM342.97 143.72h5.45v1.951h-5.45zM332.66 145.37h5.45v1.951h-5.45zM317.19 148.67h5.45v1.951h-5.45zM348.12 148.67h5.45v1.951h-5.45zM317.19 150.32h5.45v1.951h-5.45zM275.95 151.98h5.45v1.951h-5.45zM312.04 151.98h5.45v1.951h-5.45zM322.35 151.98h5.45v1.951h-5.45zM312.04 153.63h5.45v1.951h-5.45zM327.50 153.63h5.45v1.951h-5.45zM312.04 155.28h5.45v1.951h-5.45zM327.50 155.28h5.45v1.951h-5.45zM312.04 156.93h5.45v1.951h-5.45zM342.97 156.93h5.45v1.951h-5.45zM348.12 156.93h5.45v1.951h-5.45zM322.35 158.58h5.45v1.951h-5.45zM270.80 160.23h5.45v1.951h-5.45zM317.19 160.23h5.45v1.951h-5.45zM332.66 160.23h5.45v1.951h-5.45zM337.81 160.23h5.45v1.951h-5.45zM286.26 161.88h5.45v1.951h-5.45zM275.95 163.53h5.45v1.951h-5.45zM348.12 163.53h5.45v1.951h-5.45zM286.26 165.19h5.45v1.951h-5.45zM312.04 166.84h5.45v1.951h-5.45zM322.35 170.14h5.45v1.951h-5.45zM348.12 170.14h5.45v1.951h-5.45zM348.12 171.79h5.45v1.951h-5.45zM286.26 173.44h5.45v1.951h-5.45zM332.66 173.44h5.45v1.951h-5.45zM312.04 175.09h5.45v1.951h-5.45zM317.19 175.09h5.45v1.951h-5.45zM348.12 175.09h5.45v1.951h-5.45zM286.26 176.74h5.45v1.951h-5.45zM342.97 176.74h5.45v1.951h-5.45zM358.44 176.74h5.45v1.951h-5.45zM291.42 178.40h5.45v1.951h-5.45zM312.04 178.40h5.45v1.951h-5.45zM348.12 180.05h5.45v1.951h-5.45zM286.26 181.70h5.45v1.951h-5.45zM301.73 185.00h5.45v1.951h-5.45zM327.50 185.00h5.45v1.951h-5.45zM281.11 186.65h5.45v1.951h-5.45zM337.81 186.65h5.45v1.951h-5.45zM296.57 188.30h5.45v1.951h-5.45zM317.19 188.30h5.45v1.951h-5.45zM353.28 188.30h5.45v1.951h-5.45zM296.57 189.95h5.45v1.951h-5.45zM312.04 189.95h5.45v1.951h-5.45zM337.81 189.95h5.45v1.951h-5.45zM281.11 193.26h5.45v1.951h-5.45zM353.28 193.26h5.45v1.951h-5.45zM286.26 194.91h5.45v1.951h-5.45zM312.04 194.91h5.45v1.951h-5.45zM358.44 194.91h5.45v1.951h-5.45zM317.19 196.56h5.45v1.951h-5.45zM281.11 199.86h5.45v1.951h-5.45zM317.19 199.86h5.45v1.951h-5.45zM348.12 199.86h5.45v1.951h-5.45zM312.04 201.51h5.45v1.951h-5.45zM337.81 201.51h5.45v1.951h-5.45zM353.28 201.51h5.45v1.951h-5.45zM291.42 203.17h5.45v1.951h-5.45zM306.88 203.17h5.45v1.951h-5.45zM337.81 203.17h5.45v1.951h-5.45zM286.26 204.82h5.45v1.951h-5.45zM327.50 204.82h5.45v1.951h-5.45zM291.42 206.47h5.45v1.951h-5.45zM301.73 206.47h5.45v1.951h-5.45zM312.04 206.47h5.45v1.951h-5.45zM286.26 208.12h5.45v1.951h-5.45zM348.12 208.12h5.45v1.951h-5.45zM317.19 209.77h5.45v1.951h-5.45zM342.97 209.77h5.45v1.951h-5.45zM306.88 211.42h5.45v1.951h-5.45zM337.81 211.42h5.45v1.951h-5.45zM270.80 213.07h5.45v1.951h-5.45zM312.04 213.07h5.45v1.951h-5.45zM317.19 213.07h5.45v1.951h-5.45zM281.11 214.72h5.45v1.951h-5.45zM296.57 216.38h5.45v1.951h-5.45zM301.73 216.38h5.45v1.951h-5.45zM342.97 216.38h5.45v1.951h-5.45zM270.80 218.03h5.45v1.951h-5.45zM296.57 218.03h5.45v1.951h-5.45zM317.19 218.03h5.45v1.951h-5.45zM270.80 219.68h5.45v1.951h-5.45zM301.73 219.68h5.45v1.951h-5.45zM312.04 219.68h5.45v1.951h-5.45zM332.66 219.68h5.45v1.951h-5.45zM353.28 219.68h5.45v1.951h-5.45zM312.04 222.98h5.45v1.951h-5.45zM317.19 224.63h5.45v1.951h-5.45zM327.50 226.28h5.45v1.951h-5.45zM312.04 227.93h5.45v1.951h-5.45zM270.80 229.59h5.45v1.951h-5.45zM312.04 229.59h5.45v1.951h-5.45zM327.50 229.59h5.45v1.951h-5.45zM312.04 231.24h5.45v1.951h-5.45zM296.57 232.89h5.45v1.951h-5.45zM291.42 234.54h5.45v1.951h-5.45zM296.57 234.54h5.45v1.951h-5.45zM317.19 234.54h5.45v1.951h-5.45zM291.42 236.19h5.45v1.951h-5.45zM342.97 236.19h5.45v1.951h-5.45zM301.73 237.84h5.45v1.951h-5.45zM312.04 237.84h5.45v1.951h-5.45zM348.12 237.84h5.45v1.951h-5.45zM296.57 239.49h5.45v1.951h-5.45zM322.35 239.49h5.45v1.951h-5.45zM327.50 239.49h5.45v1.951h-5.45zM337.81 241.15h5.45v1.951h-5.45zM337.81 242.80h5.45v1.951h-5.45zM358.44 246.10h5.45v1.951h-5.45zM322.35 247.75h5.45v1.951h-5.45zM348.12 247.75h5.45v1.951h-5.45zM275.95 249.40h5.45v1.951h-5.45zM348.12 249.40h5.45v1.951h-5.45zM312.04 251.05h5.45v1.951h-5.45zM358.44 251.05h5.45v1.951h-5.45zM332.66 252.70h5.45v1.951h-5.45zM281.11 254.36h5.45v1.951h-5.45zM337.81 254.36h5.45v1.951h-5.45zM358.44 254.36h5.45v1.951h-5.45zM275.95 256.01h5.45v1.951h-5.45zM301.73 256.01h5.45v1.951h-5.45zM332.66 256.01h5.45v1.951h-5.45zM348.12 256.01h5.45v1.951h-5.45zM270.80 257.66h5.45v1.951h-5.45zM296.57 257.66h5.45v1.951h-5.45zM317.19 257.66h5.45v1.951h-5.45zM337.81 257.66h5.45v1.951h-5.45zM317.19 259.31h5.45v1.951h-5.45zM353.28 259.31h5.45v1.951h-5.45zM358.44 259.31h5.45v1.951h-5.45zM275.95 260.96h5.45v1.951h-5.45zM312.04 260.96h5.45v1.951h-5.45zM317.19 260.96h5.45v1.951h-5.45zM270.80 264.26h5.45v1.951h-5.45zM286.26 264.26h5.45v1.951h-5.45zM301.73 264.26h5.45v1.951h-5.45zM348.12 264.26h5.45v1.951h-5.45zM317.19 265.91h5.45v1.951h-5.45zM353.28 265.91h5.45v1.951h-5.45zM348.12 267.57h5.45v1.951h-5.45zM306.88 269.22h5.45v1.951h-5.45zM342.97 269.22h5.45v1.951h-5.45zM348.12 272.52h5.45v1.951h-5.45zM348.12 274.17h5.45v1.951h-5.45zM332.66 275.82h5.45v1.951h-5.45zM337.81 275.82h5.45v1.951h-5.45zM358.44 277.47h5.45v1.951h-5.45zM286.26 280.78h5.45v1.951h-5.45zM301.73 280.78h5.45v1.951h-5.45zM312.04 280.78h5.45v1.951h-5.45zM353.28 284.08h5.45v1.951h-5.45zM358.44 284.08h5.45v1.951h-5.45zM312.04 285.73h5.45v1.951h-5.45zM291.42 287.38h5.45v1.951h-5.45zM332.66 287.38h5.45v1.951h-5.45zM337.81 287.38h5.45v1.951h-5.45zM353.28 287.38h5.45v1.951h-5.45zM281.11 289.03h5.45v1.951h-5.45zM348.12 289.03h5.45v1.951h-5.45zM358.44 289.03h5.45v1.951h-5.45zM270.80 290.68h5.45v1.951h-5.45zM332.66 290.68h5.45v1.951h-5.45zM281.11 292.34h5.45v1.951h-5.45zM353.28 292.34h5.45v1.951h-5.45zM281.11 293.99h5.45v1.951h-5.45zM291.42 293.99h5.45v1.951h-5.45zM306.88 293.99h5.45v1.951h-5.45zM317.19 293.99h5.45v1.951h-5.45zM296.57 295.64h5.45v1.951h-5.45zM348.12 295.64h5.45v1.951h-5.45zM312.04 297.29h5.45v1.951h-5.45zM337.81 297.29h5.45v1.951h-5.45zM286.26 298.94h5.45v1.951h-5.45zM332.66 303.89h5.45v1.951h-5.45zM296.57 305.55h5.45v1.951h-5.45zM306.88 305.55h5.45v1.951h-5.45zM337.81 305.55h5.45v1.951h-5.45zM317.19 307.20h5.45v1.951h-5.45zM332.66 307.20h5.45v1.951h-5.45zM281.11 308.85h5.45v1.951h-5.45zM286.26 308.85h5.45v1.951h-5.45zM312.04 308.85h5.45v1.951h-5.45zM317.19 308.85h5.45v1.951h-5.45zM296.57 310.50h5.45v1.951h-5.45zM296.57 312.15h5.45v1.951h-5.45zM322.35 312.15h5.45v1.951h-5.45zM301.73 315.45h5.45v1.951h-5.45zM348.12 315.45h5.45v1.951h-5.45zM270.80 317.10h5.45v1.951h-5.45zM317.19 317.10h5.45v1.951h-5.45zM337.81 317.10h5.45v1.951h-5.45zM296.57 318.76h5.45v1.951h-5.45zM291.42 320.41h5.45v1.951h-5.45zM322.35 323.71h5.45v1.951h-5.45zM327.50 323.71h5.45v1.951h-5.45zM358.44 323.71h5.45v1.951h-5.45zM286.26 325.36h5.45v1.951h-5.45zM312.04 325.36h5.45v1.951h-5.45zM286.26 327.01h5.45v1.951h-5.45zM296.57 327.01h5.45v1.951h-5.45zM312.04 328.66h5.45v1.951h-5.45zM332.66 328.66h5.45v1.951h-5.45zM337.81 328.66h5.45v1.951h-5.45zM353.28 328.66h5.45v1.951h-5.45zM296.57 330.32h5.45v1.951h-5.45zM353.28 330.32h5.45v1.951h-5.45zM281.11 331.97h5.45v1.951h-5.45zM312.04 333.62h5.45v1.951h-5.45zM358.44 333.62h5.45v1.951h-5.45zM312.04 335.27h5.45v1.951h-5.45zM317.19 335.27h5.45v1.951h-5.45zM286.26 338.57h5.45v1.951h-5.45zM317.19 338.57h5.45v1.951h-5.45zM327.50 338.57h5.45v1.951h-5.45zM348.12 338.57h5.45v1.951h-5.45zM275.95 340.22h5.45v1.951h-5.45zM286.26 340.22h5.45v1.951h-5.45zM317.19 340.22h5.45v1.951h-5.45zM322.35 340.22h5.45v1.951h-5.45zM358.44 340.22h5.45v1.951h-5.45zM322.35 341.87h5.45v1.951h-5.45zM332.66 341.87h5.45v1.951h-5.45zM342.97 341.87h5.45v1.951h-5.45zM270.80 343.53h5.45v1.951h-5.45zM312.04 343.53h5.45v1.951h-5.45zM296.57 345.18h5.45v1.951h-5.45zM301.73 345.18h5.45v1.951h-5.45zM322.35 345.18h5.45v1.951h-5.45zM296.57 346.83h5.45v1.951h-5.45zM301.73 346.83h5.45v1.951h-5.45zM342.97 346.83h5.45v1.951h-5.45zM353.28 346.83h5.45v1.951h-5.45zM301.73 348.48h5.45v1.951h-5.45zM317.19 348.48h5.45v1.951h-5.45zM312.04 350.13h5.45v1.951h-5.45zM332.66 350.13h5.45v1.951h-5.45zM348.12 350.13h5.45v1.951h-5.45zM286.26 351.78h5.45v1.951h-5.45zM317.19 351.78h5.45v1.951h-5.45zM286.26 353.43h5.45v1.951h-5.45zM312.04 353.43h5.45v1.951h-5.45zM275.95 355.08h5.45v1.951h-5.45zM281.11 355.08h5.45v1.951h-5.45zM312.04 356.74h5.45v1.951h-5.45zM286.26 358.39h5.45v1.951h-5.45zM337.81 358.39h5.45v1.951h-5.45zM317.19 360.04h5.45v1.951h-5.45zM353.28 360.04h5.45v1.951h-5.45zM332.66 363.34h5.45v1.951h-5.45zM312.04 364.99h5.45v1.951h-5.45zM270.80 366.64h5.45v1.951h-5.45zM275.95 366.64h5.45v1.951h-5.45zM317.19 366.64h5.45v1.951h-5.45zM291.42 371.60h5.45v1.951h-5.45zM306.88 371.60h5.45v1.951h-5.45zM322.35 371.60h5.45v1.951h-5.45zM281.11 373.25h5.45v1.651h-5.45zM312.04 373.25h5.45v1.651h-5.45z"/>
<path fill="#2e45a2" d="M281.11 56.20h5.45v1.951h-5.45zM286.26 57.85h5.45v1.951h-5.45zM337.81 59.50h5.45v1.951h-5.45zM270.80 61.15h5.45v1.951h-5.45zM281.11 66.11h5.45v1.951h-5.45zM327.50 67.76h5.45v1.951h-5.45zM301.73 74.36h5.45v1.951h-5.45zM286.26 76.02h5.45v1.951h-5.45zM301.73 76.02h5.45v1.951h-5.45zM296.57 77.67h5.45v1.951h-5.45zM306.88 77.67h5.45v1.951h-5.45zM322.35 77.67h5.45v1.951h-5.45zM291.42 79.32h5.45v1.951h-5.45zM291.42 80.97h5.45v1.951h-5.45zM281.11 84.27h5.45v1.951h-5.45zM296.57 84.27h5.45v1.951h-5.45zM270.80 85.92h5.45v1.951h-5.45zM281.11 87.57h5.45v1.951h-5.45zM275.95 89.23h5.45v1.951h-5.45zM291.42 89.23h5.45v1.951h-5.45zM301.73 90.88h5.45v1.951h-5.45zM296.57 92.53h5.45v1.951h-5.45zM322.35 94.18h5.45v1.951h-5.45zM296.57 95.83h5.45v1.951h-5.45zM306.88 97.48h5.45v1.951h-5.45zM270.80 100.78h5.45v1.951h-5.45zM337.81 100.78h5.45v1.951h-5.45zM281.11 104.09h5.45v1.951h-5.45zM296.57 105.74h5.45v1.951h-5.45zM337.81 105.74h5.45v1.951h-5.45zM281.11 107.39h5.45v1.951h-5.45zM270.80 110.69h5.45v1.951h-5.45zM296.57 110.69h5.45v1.951h-5.45zM301.73 112.34h5.45v1.951h-5.45zM327.50 112.34h5.45v1.951h-5.45zM286.26 114.00h5.45v1.951h-5.45zM296.57 115.65h5.45v1.951h-5.45zM327.50 117.30h5.45v1.951h-5.45zM286.26 118.95h5.45v1.951h-5.45zM270.80 120.60h5.45v1.951h-5.45zM291.42 120.60h5.45v1.951h-5.45zM281.11 125.55h5.45v1.951h-5.45zM358.44 127.21h5.45v1.951h-5.45zM322.35 128.86h5.45v1.951h-5.45zM281.11 130.51h5.45v1.951h-5.45zM286.26 130.51h5.45v1.951h-5.45zM301.73 132.16h5.45v1.951h-5.45zM306.88 132.16h5.45v1.951h-5.45zM296.57 133.81h5.45v1.951h-5.45zM337.81 135.46h5.45v1.951h-5.45zM281.11 138.76h5.45v1.951h-5.45zM275.95 142.07h5.45v1.951h-5.45zM281.11 143.72h5.45v1.951h-5.45zM296.57 143.72h5.45v1.951h-5.45zM281.11 145.37h5.45v1.951h-5.45zM281.11 147.02h5.45v1.951h-5.45zM281.11 148.67h5.45v1.951h-5.45zM296.57 151.98h5.45v1.951h-5.45zM301.73 153.63h5.45v1.951h-5.45zM306.88 155.28h5.45v1.951h-5.45zM322.35 155.28h5.45v1.951h-5.45zM286.26 156.93h5.45v1.951h-5.45zM296.57 156.93h5.45v1.951h-5.45zM306.88 156.93h5.45v1.951h-5.45zM301.73 160.23h5.45v1.951h-5.45zM306.88 161.88h5.45v1.951h-5.45zM322.35 166.84h5.45v1.951h-5.45zM286.26 170.14h5.45v1.951h-5.45zM301.73 173.44h5.45v1.951h-5.45zM306.88 173.44h5.45v1.951h-5.45zM322.35 176.74h5.45v1.951h-5.45zM286.26 180.05h5.45v1.951h-5.45zM306.88 180.05h5.45v1.951h-5.45zM342.97 180.05h5.45v1.951h-5.45zM322.35 185.00h5.45v1.951h-5.45zM301.73 186.65h5.45v1.951h-5.45zM296.57 198.21h5.45v1.951h-5.45zM296.57 199.86h5.45v1.951h-5.45zM322.35 204.82h5.45v1.951h-5.45zM296.57 208.12h5.45v1.951h-5.45zM358.44 208.12h5.45v1.951h-5.45zM275.95 209.77h5.45v1.951h-5.45zM301.73 209.77h5.45v1.951h-5.45zM301.73 214.72h5.45v1.951h-5.45zM348.12 214.72h5.45v1.951h-5.45zM286.26 216.38h5.45v1.951h-5.45zM301.73 218.03h5.45v1.951h-5.45zM306.88 218.03h5.45v1.951h-5.45zM306.88 219.68h5.45v1.951h-5.45zM270.80 221.33h5.45v1.951h-5.45zM270.80 222.98h5.45v1.951h-5.45zM275.95 227.93h5.45v1.951h-5.45zM275.95 229.59h5.45v1.951h-5.45zM296.57 229.59h5.45v1.951h-5.45zM322.35 229.59h5.45v1.951h-5.45zM348.12 232.89h5.45v1.951h-5.45zM358.44 232.89h5.45v1.951h-5.45zM332.66 234.54h5.45v1.951h-5.45zM322.35 236.19h5.45v1.951h-5.45zM327.50 237.84h5.45v1.951h-5.45zM358.44 237.84h5.45v1.951h-5.45zM363.59 237.84h5.45v1.951h-5.45zM368.75 237.84h5.15v1.951h-5.15zM270.80 239.49h5.45v1.951h-5.45zM363.59 239.49h5.45v1.951h-5.45zM368.75 239.49h5.15v1.951h-5.15zM301.73 241.15h5.45v1.951h-5.45zM332.66 241.15h5.45v1.951h-5.45zM363.59 241.15h5.45v1.951h-5.45zM368.75 241.15h5.15v1.951h-5.15zM363.59 242.80h5.45v1.951h-5.45zM368.75 242.80h5.15v1.951h-5.15zM358.44 244.45h5.45v1.951h-5.45zM363.59 244.45h5.45v1.951h-5.45zM368.75 244.45h5.15v1.951h-5.15zM363.59 246.10h5.45v1.951h-5.45zM368.75 246.10h5.15v1.951h-5.15zM368.75 247.75h5.15v1.951h-5.15zM368.75 249.40h5.15v1.951h-5.15zM337.81 251.05h5.45v1.951h-5.45zM363.59 251.05h5.45v1.951h-5.45zM368.75 251.05h5.15v1.951h-5.15zM348.12 252.70h5.45v1.951h-5.45zM363.59 252.70h5.45v1.951h-5.45zM368.75 252.70h5.15v1.951h-5.15zM332.66 254.36h5.45v1.951h-5.45zM363.59 254.36h5.45v1.951h-5.45zM322.35 256.01h5.45v1.951h-5.45zM322.35 257.66h5.45v1.951h-5.45zM358.44 257.66h5.45v1.951h-5.45zM363.59 257.66h5.45v1.951h-5.45zM368.75 257.66h5.15v1.951h-5.15zM363.59 259.31h5.45v1.951h-5.45zM368.75 259.31h5.15v1.951h-5.15zM342.97 260.96h5.45v1.951h-5.45zM368.75 260.96h5.15v1.951h-5.15zM342.97 262.61h5.45v1.951h-5.45zM275.95 264.26h5.45v1.951h-5.45zM332.66 264.26h5.45v1.951h-5.45zM342.97 265.91h5.45v1.951h-5.45zM363.59 267.57h5.45v1.951h-5.45zM322.35 269.22h5.45v1.951h-5.45zM363.59 269.22h5.45v1.951h-5.45zM368.75 269.22h5.15v1.951h-5.15zM322.35 270.87h5.45v1.951h-5.45zM348.12 270.87h5.45v1.951h-5.45zM368.75 270.87h5.15v1.951h-5.15zM322.35 272.52h5.45v1.951h-5.45zM322.35 274.17h5.45v1.951h-5.45zM332.66 274.17h5.45v1.951h-5.45zM368.75 275.82h5.15v1.951h-5.15zM291.42 277.47h5.45v1.951h-5.45zM322.35 277.47h5.45v1.951h-5.45zM348.12 277.47h5.45v1.951h-5.45zM368.75 277.47h5.15v1.951h-5.15zM322.35 279.12h5.45v1.951h-5.45zM332.66 279.12h5.45v1.951h-5.45zM342.97 279.12h5.45v1.951h-5.45zM363.59 279.12h5.45v1.951h-5.45zM368.75 279.12h5.15v1.951h-5.15zM332.66 280.78h5.45v1.951h-5.45zM363.59 280.78h5.45v1.951h-5.45zM368.75 280.78h5.15v1.951h-5.15zM286.26 282.43h5.45v1.951h-5.45zM337.81 282.43h5.45v1.951h-5.45zM363.59 284.08h5.45v1.951h-5.45zM368.75 284.08h5.15v1.951h-5.15zM296.57 285.73h5.45v1.951h-5.45zM363.59 285.73h5.45v1.951h-5.45zM368.75 285.73h5.15v1.951h-5.15zM275.95 287.38h5.45v1.951h-5.45zM286.26 287.38h5.45v1.951h-5.45zM363.59 287.38h5.45v1.951h-5.45zM368.75 287.38h5.15v1.951h-5.15zM363.59 289.03h5.45v1.951h-5.45zM322.35 290.68h5.45v1.951h-5.45zM337.81 290.68h5.45v1.951h-5.45zM363.59 290.68h5.45v1.951h-5.45zM286.26 292.34h5.45v1.951h-5.45zM322.35 292.34h5.45v1.951h-5.45zM368.75 292.34h5.15v1.951h-5.15zM353.28 293.99h5.45v1.951h-5.45zM363.59 293.99h5.45v1.951h-5.45zM368.75 293.99h5.15v1.951h-5.15zM301.73 295.64h5.45v1.951h-5.45zM353.28 295.64h5.45v1.951h-5.45zM363.59 295.64h5.45v1.951h-5.45zM368.75 295.64h5.15v1.951h-5.15zM363.59 297.29h5.45v1.951h-5.45zM368.75 297.29h5.15v1.951h-5.15zM296.57 300.59h5.45v1.951h-5.45zM342.97 300.59h5.45v1.951h-5.45zM363.59 300.59h5.45v1.951h-5.45zM363.59 302.24h5.45v1.951h-5.45zM353.28 303.89h5.45v1.951h-5.45zM363.59 303.89h5.45v1.951h-5.45zM368.75 303.89h5.15v1.951h-5.15zM363.59 305.55h5.45v1.951h-5.45zM368.75 305.55h5.15v1.951h-5.15zM348.12 307.20h5.45v1.951h-5.45zM363.59 307.20h5.45v1.951h-5.45zM368.75 307.20h5.15v1.951h-5.15zM358.44 308.85h5.45v1.951h-5.45zM363.59 308.85h5.45v1.951h-5.45zM368.75 310.50h5.15v1.951h-5.15zM342.97 312.15h5.45v1.951h-5.45zM348.12 312.15h5.45v1.951h-5.45zM363.59 312.15h5.45v1.951h-5.45zM368.75 312.15h5.15v1.951h-5.15zM358.44 313.80h5.45v1.951h-5.45zM363.59 313.80h5.45v1.951h-5.45zM363.59 315.45h5.45v1.951h-5.45zM368.75 315.45h5.15v1.951h-5.15zM363.59 317.10h5.45v1.951h-5.45zM363.59 318.76h5.45v1.951h-5.45zM368.75 318.76h5.15v1.951h-5.15zM301.73 320.41h5.45v1.951h-5.45zM322.35 320.41h5.45v1.951h-5.45zM363.59 320.41h5.45v1.951h-5.45zM342.97 322.06h5.45v1.951h-5.45zM363.59 322.06h5.45v1.951h-5.45zM368.75 322.06h5.15v1.951h-5.15zM275.95 323.71h5.45v1.951h-5.45zM348.12 323.71h5.45v1.951h-5.45zM363.59 323.71h5.45v1.951h-5.45zM368.75 323.71h5.15v1.951h-5.15zM327.50 325.36h5.45v1.951h-5.45zM337.81 325.36h5.45v1.951h-5.45zM342.97 325.36h5.45v1.951h-5.45zM342.97 327.01h5.45v1.951h-5.45zM363.59 327.01h5.45v1.951h-5.45zM368.75 327.01h5.15v1.951h-5.15zM306.88 328.66h5.45v1.951h-5.45zM342.97 328.66h5.45v1.951h-5.45zM348.12 328.66h5.45v1.951h-5.45zM275.95 330.32h5.45v1.951h-5.45zM322.35 330.32h5.45v1.951h-5.45zM348.12 330.32h5.45v1.951h-5.45zM363.59 330.32h5.45v1.951h-5.45zM322.35 331.97h5.45v1.951h-5.45zM368.75 331.97h5.15v1.951h-5.15zM322.35 333.62h5.45v1.951h-5.45zM353.28 333.62h5.45v1.951h-5.45zM368.75 333.62h5.15v1.951h-5.15zM301.73 335.27h5.45v1.951h-5.45zM270.80 336.92h5.45v1.951h-5.45zM358.44 336.92h5.45v1.951h-5.45zM363.59 336.92h5.45v1.951h-5.45zM322.35 338.57h5.45v1.951h-5.45zM363.59 338.57h5.45v1.951h-5.45zM368.75 338.57h5.15v1.951h-5.15zM301.73 340.22h5.45v1.951h-5.45zM363.59 340.22h5.45v1.951h-5.45zM368.75 340.22h5.15v1.951h-5.15zM363.59 341.87h5.45v1.951h-5.45zM368.75 341.87h5.15v1.951h-5.15zM363.59 343.53h5.45v1.951h-5.45zM363.59 345.18h5.45v1.951h-5.45zM368.75 345.18h5.15v1.951h-5.15zM363.59 346.83h5.45v1.951h-5.45zM368.75 346.83h5.15v1.951h-5.15zM348.12 348.48h5.45v1.951h-5.45zM363.59 348.48h5.45v1.951h-5.45zM368.75 348.48h5.15v1.951h-5.15zM337.81 353.43h5.45v1.951h-5.45zM348.12 353.43h5.45v1.951h-5.45zM363.59 353.43h5.45v1.951h-5.45zM368.75 353.43h5.15v1.951h-5.15zM348.12 356.74h5.45v1.951h-5.45zM332.66 358.39h5.45v1.951h-5.45zM363.59 358.39h5.45v1.951h-5.45zM358.44 360.04h5.45v1.951h-5.45zM363.59 360.04h5.45v1.951h-5.45zM368.75 360.04h5.15v1.951h-5.15zM332.66 361.69h5.45v1.951h-5.45zM358.44 361.69h5.45v1.951h-5.45zM363.59 361.69h5.45v1.951h-5.45zM368.75 361.69h5.15v1.951h-5.15zM363.59 363.34h5.45v1.951h-5.45zM368.75 363.34h5.15v1.951h-5.15zM342.97 364.99h5.45v1.951h-5.45zM368.75 364.99h5.15v1.951h-5.15zM322.35 366.64h5.45v1.951h-5.45zM342.97 366.64h5.45v1.951h-5.45zM358.44 366.64h5.45v1.951h-5.45zM337.81 368.29h5.45v1.951h-5.45zM342.97 368.29h5.45v1.951h-5.45zM363.59 368.29h5.45v1.951h-5.45zM368.75 368.29h5.15v1.951h-5.15zM342.97 369.95h5.45v1.951h-5.45zM363.59 369.95h5.45v1.951h-5.45zM368.75 369.95h5.15v1.951h-5.15zM327.50 371.60h5.45v1.951h-5.45zM368.75 371.60h5.15v1.951h-5.15zM332.66 373.25h5.45v1.651h-5.45zM363.59 373.25h5.45v1.651h-5.45z"/>
<path fill="#e5e8f3" d="M291.42 56.20h5.45v1.951h-5.45zM317.19 56.20h5.45v1.951h-5.45zM337.81 56.20h5.45v1.951h-5.45zM270.80 57.85h5.45v1.951h-5.45zM270.80 59.50h5.45v1.951h-5.45zM286.26 61.15h5.45v1.951h-5.45zM306.88 61.15h5.45v1.951h-5.45zM322.35 61.15h5.45v1.951h-5.45zM275.95 62.81h5.45v1.951h-5.45zM291.42 62.81h5.45v1.951h-5.45zM296.57 62.81h5.45v1.951h-5.45zM332.66 62.81h5.45v1.951h-5.45zM286.26 64.46h5.45v1.951h-5.45zM296.57 64.46h5.45v1.951h-5.45zM312.04 64.46h5.45v1.951h-5.45zM327.50 64.46h5.45v1.951h-5.45zM270.80 66.11h5.45v1.951h-5.45zM332.66 66.11h5.45v1.951h-5.45zM358.44 66.11h5.45v1.951h-5.45zM281.11 69.41h5.45v1.951h-5.45zM296.57 69.41h5.45v1.951h-5.45zM327.50 69.41h5.45v1.951h-5.45zM270.80 71.06h5.45v1.951h-5.45zM286.26 71.06h5.45v1.951h-5.45zM322.35 71.06h5.45v1.951h-5.45zM332.66 71.06h5.45v1.951h-5.45zM358.44 71.06h5.45v1.951h-5.45zM275.95 72.71h5.45v1.951h-5.45zM317.19 72.71h5.45v1.951h-5.45zM327.50 72.71h5.45v1.951h-5.45zM327.50 74.36h5.45v1.951h-5.45zM275.95 76.02h5.45v1.951h-5.45zM317.19 76.02h5.45v1.951h-5.45zM348.12 76.02h5.45v1.951h-5.45zM281.11 79.32h5.45v1.951h-5.45zM312.04 79.32h5.45v1.951h-5.45zM332.66 79.32h5.45v1.951h-5.45zM275.95 80.97h5.45v1.951h-5.45zM306.88 80.97h5.45v1.951h-5.45zM291.42 82.62h5.45v1.951h-5.45zM306.88 82.62h5.45v1.951h-5.45zM317.19 82.62h5.45v1.951h-5.45zM342.97 82.62h5.45v1.951h-5.45zM348.12 84.27h5.45v1.951h-5.45zM275.95 85.92h5.45v1.951h-5.45zM306.88 85.92h5.45v1.951h-5.45zM358.44 85.92h5.45v1.951h-5.45zM286.26 87.57h5.45v1.951h-5.45zM306.88 87.57h5.45v1.951h-5.45zM317.19 87.57h5.45v1.951h-5.45zM327.50 87.57h5.45v1.951h-5.45zM286.26 89.23h5.45v1.951h-5.45zM275.95 90.88h5.45v1.951h-5.45zM306.88 90.88h5.45v1.951h-5.45zM337.81 90.88h5.45v1.951h-5.45zM348.12 90.88h5.45v1.951h-5.45zM270.80 92.53h5.45v1.951h-5.45zM301.73 92.53h5.45v1.951h-5.45zM312.04 92.53h5.45v1.951h-5.45zM348.12 92.53h5.45v1.951h-5.45zM281.11 95.83h5.45v1.951h-5.45zM306.88 95.83h5.45v1.951h-5.45zM353.28 95.83h5.45v1.951h-5.45zM270.80 97.48h5.45v1.951h-5.45zM291.42 97.48h5.45v1.951h-5.45zM296.57 97.48h5.45v1.951h-5.45zM301.73 97.48h5.45v1.951h-5.45zM342.97 97.48h5.45v1.951h-5.45zM358.44 97.48h5.45v1.951h-5.45zM317.19 99.13h5.45v1.951h-5.45zM322.35 99.13h5.45v1.951h-5.45zM327.50 99.13h5.45v1.951h-5.45zM358.44 99.13h5.45v1.951h-5.45zM301.73 104.09h5.45v1.951h-5.45zM312.04 104.09h5.45v1.951h-5.45zM317.19 104.09h5.45v1.951h-5.45zM286.26 105.74h5.45v1.951h-5.45zM317.19 105.74h5.45v1.951h-5.45zM317.19 107.39h5.45v1.951h-5.45zM312.04 109.04h5.45v1.951h-5.45zM312.04 112.34h5.45v1.951h-5.45zM317.19 112.34h5.45v1.951h-5.45zM332.66 112.34h5.45v1.951h-5.45zM353.28 112.34h5.45v1.951h-5.45zM270.80 114.00h5.45v1.951h-5.45zM342.97 114.00h5.45v1.951h-5.45zM286.26 115.65h5.45v1.951h-5.45zM312.04 115.65h5.45v1.951h-5.45zM275.95 117.30h5.45v1.951h-5.45zM281.11 117.30h5.45v1.951h-5.45zM286.26 117.30h5.45v1.951h-5.45zM275.95 118.95h5.45v1.951h-5.45zM317.19 118.95h5.45v1.951h-5.45zM281.11 120.60h5.45v1.951h-5.45zM342.97 120.60h5.45v1.951h-5.45zM275.95 122.25h5.45v1.951h-5.45zM306.88 122.25h5.45v1.951h-5.45zM317.19 123.90h5.45v1.951h-5.45zM270.80 125.55h5.45v1.951h-5.45zM358.44 125.55h5.45v1.951h-5.45zM342.97 127.21h5.45v1.951h-5.45zM291.42 128.86h5.45v1.951h-5.45zM312.04 128.86h5.45v1.951h-5.45zM353.28 128.86h5.45v1.951h-5.45zM358.44 128.86h5.45v1.951h-5.45zM275.95 130.51h5.45v1.951h-5.45zM275.95 132.16h5.45v1.951h-5.45zM296.57 132.16h5.45v1.951h-5.45zM353.28 132.16h5.45v1.951h-5.45zM332.66 133.81h5.45v1.951h-5.45zM332.66 135.46h5.45v1.951h-5.45zM312.04 137.11h5.45v1.951h-5.45zM358.44 137.11h5.45v1.951h-5.45zM270.80 138.76h5.45v1.951h-5.45zM275.95 138.76h5.45v1.951h-5.45zM301.73 138.76h5.45v1.951h-5.45zM317.19 140.42h5.45v1.951h-5.45zM358.44 140.42h5.45v1.951h-5.45zM286.26 142.07h5.45v1.951h-5.45zM306.88 142.07h5.45v1.951h-5.45zM275.95 143.72h5.45v1.951h-5.45zM312.04 143.72h5.45v1.951h-5.45zM348.12 143.72h5.45v1.951h-5.45zM317.19 147.02h5.45v1.951h-5.45zM322.35 147.02h5.45v1.951h-5.45zM358.44 147.02h5.45v1.951h-5.45zM275.95 148.67h5.45v1.951h-5.45zM358.44 148.67h5.45v1.951h-5.45zM275.95 150.32h5.45v1.951h-5.45zM286.26 150.32h5.45v1.951h-5.45zM296.57 150.32h5.45v1.951h-5.45zM322.35 150.32h5.45v1.951h-5.45zM332.66 150.32h5.45v1.951h-5.45zM337.81 151.98h5.45v1.951h-5.45zM296.57 153.63h5.45v1.951h-5.45zM286.26 155.28h5.45v1.951h-5.45zM342.97 155.28h5.45v1.951h-5.45zM270.80 156.93h5.45v1.951h-5.45zM275.95 156.93h5.45v1.951h-5.45zM312.04 158.58h5.45v1.951h-5.45zM332.66 158.58h5.45v1.951h-5.45zM291.42 160.23h5.45v1.951h-5.45zM291.42 163.53h5.45v1.951h-5.45zM306.88 163.53h5.45v1.951h-5.45zM312.04 163.53h5.45v1.951h-5.45zM327.50 166.84h5.45v1.951h-5.45zM337.81 166.84h5.45v1.951h-5.45zM312.04 168.49h5.45v1.951h-5.45zM322.35 168.49h5.45v1.951h-5.45zM270.80 170.14h5.45v1.951h-5.45zM275.95 170.14h5.45v1.951h-5.45zM327.50 171.79h5.45v1.951h-5.45zM281.11 173.44h5.45v1.951h-5.45zM275.95 175.09h5.45v1.951h-5.45zM286.26 175.09h5.45v1.951h-5.45zM322.35 175.09h5.45v1.951h-5.45zM337.81 175.09h5.45v1.951h-5.45zM317.19 176.74h5.45v1.951h-5.45zM337.81 176.74h5.45v1.951h-5.45zM337.81 178.40h5.45v1.951h-5.45zM358.44 178.40h5.45v1.951h-5.45zM317.19 180.05h5.45v1.951h-5.45zM353.28 180.05h5.45v1.951h-5.45zM358.44 180.05h5.45v1.951h-5.45zM291.42 181.70h5.45v1.951h-5.45zM317.19 181.70h5.45v1.951h-5.45zM317.19 183.35h5.45v1.951h-5.45zM353.28 185.00h5.45v1.951h-5.45zM312.04 186.65h5.45v1.951h-5.45zM353.28 186.65h5.45v1.951h-5.45zM286.26 188.30h5.45v1.951h-5.45zM291.42 188.30h5.45v1.951h-5.45zM301.73 188.30h5.45v1.951h-5.45zM322.35 188.30h5.45v1.951h-5.45zM270.80 189.95h5.45v1.951h-5.45zM306.88 189.95h5.45v1.951h-5.45zM291.42 191.61h5.45v1.951h-5.45zM312.04 191.61h5.45v1.951h-5.45zM317.19 193.26h5.45v1.951h-5.45zM348.12 193.26h5.45v1.951h-5.45zM281.11 194.91h5.45v1.951h-5.45zM317.19 194.91h5.45v1.951h-5.45zM301.73 196.56h5.45v1.951h-5.45zM312.04 196.56h5.45v1.951h-5.45zM312.04 198.21h5.45v1.951h-5.45zM317.19 198.21h5.45v1.951h-5.45zM353.28 198.21h5.45v1.951h-5.45zM270.80 199.86h5.45v1.951h-5.45zM312.04 199.86h5.45v1.951h-5.45zM322.35 201.51h5.45v1.951h-5.45zM358.44 201.51h5.45v1.951h-5.45zM317.19 203.17h5.45v1.951h-5.45zM275.95 204.82h5.45v1.951h-5.45zM312.04 204.82h5.45v1.951h-5.45zM358.44 204.82h5.45v1.951h-5.45zM317.19 206.47h5.45v1.951h-5.45zM317.19 208.12h5.45v1.951h-5.45zM322.35 208.12h5.45v1.951h-5.45zM337.81 209.77h5.45v1.951h-5.45zM327.50 213.07h5.45v1.951h-5.45zM312.04 214.72h5.45v1.951h-5.45zM281.11 219.68h5.45v1.951h-5.45zM286.26 219.68h5.45v1.951h-5.45zM317.19 219.68h5.45v1.951h-5.45zM301.73 221.33h5.45v1.951h-5.45zM312.04 221.33h5.45v1.951h-5.45zM317.19 221.33h5.45v1.951h-5.45zM286.26 222.98h5.45v1.951h-5.45zM286.26 224.63h5.45v1.951h-5.45zM291.42 224.63h5.45v1.951h-5.45zM312.04 224.63h5.45v1.951h-5.45zM317.19 226.28h5.45v1.951h-5.45zM358.44 226.28h5.45v1.951h-5.45zM270.80 227.93h5.45v1.951h-5.45zM281.11 227.93h5.45v1.951h-5.45zM291.42 227.93h5.45v1.951h-5.45zM281.11 229.59h5.45v1.951h-5.45zM286.26 229.59h5.45v1.951h-5.45zM306.88 229.59h5.45v1.951h-5.45zM332.66 229.59h5.45v1.951h-5.45zM353.28 229.59h5.45v1.951h-5.45zM358.44 229.59h5.45v1.951h-5.45zM270.80 231.24h5.45v1.951h-5.45zM353.28 231.24h5.45v1.951h-5.45zM275.95 232.89h5.45v1.951h-5.45zM301.73 232.89h5.45v1.951h-5.45zM327.50 232.89h5.45v1.951h-5.45zM312.04 234.54h5.45v1.951h-5.45zM312.04 236.19h5.45v1.951h-5.45zM270.80 237.84h5.45v1.951h-5.45zM275.95 239.49h5.45v1.951h-5.45zM286.26 239.49h5.45v1.951h-5.45zM312.04 239.49h5.45v1.951h-5.45zM306.88 241.15h5.45v1.951h-5.45zM312.04 241.15h5.45v1.951h-5.45zM353.28 241.15h5.45v1.951h-5.45zM291.42 242.80h5.45v1.951h-5.45zM327.50 242.80h5.45v1.951h-5.45zM342.97 242.80h5.45v1.951h-5.45zM317.19 244.45h5.45v1.951h-5.45zM312.04 246.10h5.45v1.951h-5.45zM317.19 246.10h5.45v1.951h-5.45zM327.50 246.10h5.45v1.951h-5.45zM353.28 246.10h5.45v1.951h-5.45zM281.11 247.75h5.45v1.951h-5.45zM301.73 247.75h5.45v1.951h-5.45zM312.04 249.40h5.45v1.951h-5.45zM358.44 249.40h5.45v1.951h-5.45zM322.35 251.05h5.45v1.951h-5.45zM327.50 251.05h5.45v1.951h-5.45zM353.28 251.05h5.45v1.951h-5.45zM270.80 252.70h5.45v1.951h-5.45zM301.73 252.70h5.45v1.951h-5.45zM312.04 252.70h5.45v1.951h-5.45zM317.19 252.70h5.45v1.951h-5.45zM312.04 254.36h5.45v1.951h-5.45zM317.19 256.01h5.45v1.951h-5.45zM312.04 257.66h5.45v1.951h-5.45zM270.80 259.31h5.45v1.951h-5.45zM301.73 259.31h5.45v1.951h-5.45zM270.80 260.96h5.45v1.951h-5.45zM306.88 260.96h5.45v1.951h-5.45zM332.66 260.96h5.45v1.951h-5.45zM281.11 264.26h5.45v1.951h-5.45zM317.19 264.26h5.45v1.951h-5.45zM353.28 264.26h5.45v1.951h-5.45zM322.35 265.91h5.45v1.951h-5.45zM337.81 267.57h5.45v1.951h-5.45zM275.95 269.22h5.45v1.951h-5.45zM281.11 269.22h5.45v1.951h-5.45zM281.11 270.87h5.45v1.951h-5.45zM312.04 272.52h5.45v1.951h-5.45zM317.19 272.52h5.45v1.951h-5.45zM270.80 274.17h5.45v1.951h-5.45zM281.11 274.17h5.45v1.951h-5.45zM317.19 274.17h5.45v1.951h-5.45zM275.95 275.82h5.45v1.951h-5.45zM312.04 275.82h5.45v1.951h-5.45zM317.19 275.82h5.45v1.951h-5.45zM270.80 277.47h5.45v1.951h-5.45zM317.19 277.47h5.45v1.951h-5.45zM291.42 279.12h5.45v1.951h-5.45zM317.19 279.12h5.45v1.951h-5.45zM358.44 279.12h5.45v1.951h-5.45zM275.95 280.78h5.45v1.951h-5.45zM296.57 280.78h5.45v1.951h-5.45zM348.12 280.78h5.45v1.951h-5.45zM281.11 282.43h5.45v1.951h-5.45zM317.19 282.43h5.45v1.951h-5.45zM342.97 282.43h5.45v1.951h-5.45zM306.88 284.08h5.45v1.951h-5.45zM312.04 284.08h5.45v1.951h-5.45zM322.35 284.08h5.45v1.951h-5.45zM327.50 284.08h5.45v1.951h-5.45zM286.26 285.73h5.45v1.951h-5.45zM306.88 285.73h5.45v1.951h-5.45zM317.19 287.38h5.45v1.951h-5.45zM317.19 289.03h5.45v1.951h-5.45zM348.12 292.34h5.45v1.951h-5.45zM270.80 295.64h5.45v1.951h-5.45zM342.97 295.64h5.45v1.951h-5.45zM275.95 297.29h5.45v1.951h-5.45zM286.26 297.29h5.45v1.951h-5.45zM312.04 303.89h5.45v1.951h-5.45zM317.19 303.89h5.45v1.951h-5.45zM327.50 303.89h5.45v1.951h-5.45zM281.11 305.55h5.45v1.951h-5.45zM301.73 305.55h5.45v1.951h-5.45zM358.44 305.55h5.45v1.951h-5.45zM301.73 307.20h5.45v1.951h-5.45zM353.28 307.20h5.45v1.951h-5.45zM342.97 308.85h5.45v1.951h-5.45zM353.28 308.85h5.45v1.951h-5.45zM281.11 310.50h5.45v1.951h-5.45zM301.73 310.50h5.45v1.951h-5.45zM337.81 310.50h5.45v1.951h-5.45zM358.44 310.50h5.45v1.951h-5.45zM312.04 312.15h5.45v1.951h-5.45zM353.28 312.15h5.45v1.951h-5.45zM281.11 313.80h5.45v1.951h-5.45zM306.88 313.80h5.45v1.951h-5.45zM312.04 313.80h5.45v1.951h-5.45zM337.81 313.80h5.45v1.951h-5.45zM358.44 315.45h5.45v1.951h-5.45zM306.88 317.10h5.45v1.951h-5.45zM353.28 317.10h5.45v1.951h-5.45zM312.04 318.76h5.45v1.951h-5.45zM327.50 318.76h5.45v1.951h-5.45zM306.88 320.41h5.45v1.951h-5.45zM353.28 320.41h5.45v1.951h-5.45zM270.80 322.06h5.45v1.951h-5.45zM281.11 323.71h5.45v1.951h-5.45zM301.73 323.71h5.45v1.951h-5.45zM306.88 323.71h5.45v1.951h-5.45zM317.19 323.71h5.45v1.951h-5.45zM353.28 325.36h5.45v1.951h-5.45zM312.04 327.01h5.45v1.951h-5.45zM317.19 327.01h5.45v1.951h-5.45zM332.66 327.01h5.45v1.951h-5.45zM348.12 327.01h5.45v1.951h-5.45zM317.19 328.66h5.45v1.951h-5.45zM358.44 328.66h5.45v1.951h-5.45zM317.19 330.32h5.45v1.951h-5.45zM337.81 330.32h5.45v1.951h-5.45zM312.04 331.97h5.45v1.951h-5.45zM317.19 331.97h5.45v1.951h-5.45zM337.81 331.97h5.45v1.951h-5.45zM270.80 333.62h5.45v1.951h-5.45zM306.88 333.62h5.45v1.951h-5.45zM275.95 336.92h5.45v1.951h-5.45zM291.42 336.92h5.45v1.951h-5.45zM337.81 336.92h5.45v1.951h-5.45zM348.12 336.92h5.45v1.951h-5.45zM301.73 338.57h5.45v1.951h-5.45zM332.66 340.22h5.45v1.951h-5.45zM353.28 340.22h5.45v1.951h-5.45zM270.80 341.87h5.45v1.951h-5.45zM291.42 341.87h5.45v1.951h-5.45zM296.57 343.53h5.45v1.951h-5.45zM358.44 343.53h5.45v1.951h-5.45zM312.04 345.18h5.45v1.951h-5.45zM306.88 346.83h5.45v1.951h-5.45zM337.81 348.48h5.45v1.951h-5.45zM312.04 351.78h5.45v1.951h-5.45zM342.97 351.78h5.45v1.951h-5.45zM275.95 353.43h5.45v1.951h-5.45zM291.42 353.43h5.45v1.951h-5.45zM296.57 353.43h5.45v1.951h-5.45zM317.19 353.43h5.45v1.951h-5.45zM312.04 355.08h5.45v1.951h-5.45zM286.26 356.74h5.45v1.951h-5.45zM317.19 356.74h5.45v1.951h-5.45zM317.19 358.39h5.45v1.951h-5.45zM322.35 360.04h5.45v1.951h-5.45zM317.19 361.69h5.45v1.951h-5.45zM270.80 363.34h5.45v1.951h-5.45zM337.81 364.99h5.45v1.951h-5.45zM358.44 364.99h5.45v1.951h-5.45zM301.73 366.64h5.45v1.951h-5.45zM312.04 366.64h5.45v1.951h-5.45zM286.26 368.29h5.45v1.951h-5.45zM327.50 368.29h5.45v1.951h-5.45zM353.28 368.29h5.45v1.951h-5.45zM306.88 369.95h5.45v1.951h-5.45zM322.35 369.95h5.45v1.951h-5.45zM353.28 369.95h5.45v1.951h-5.45zM337.81 371.60h5.45v1.951h-5.45zM317.19 373.25h5.45v1.651h-5.45z"/>
<path fill="#f1565b" d="M301.73 56.20h5.45v1.951h-5.45zM363.59 57.85h5.45v1.951h-5.45zM368.75 57.85h5.15v1.951h-5.15zM342.97 59.50h5.45v1.951h-5.45zM363.59 59.50h5.45v1.951h-5.45zM368.75 59.50h5.15v1.951h-5.15zM348.12 61.15h5.45v1.951h-5.45zM363.59 61.15h5.45v1.951h-5.45zM368.75 61.15h5.15v1.951h-5.15zM337.81 62.81h5.45v1.951h-5.45zM275.95 67.76h5.45v1.951h-5.45zM291.42 71.06h5.45v1.951h-5.45zM327.50 71.06h5.45v1.951h-5.45zM358.44 80.97h5.45v1.951h-5.45zM363.59 84.27h5.45v1.951h-5.45zM368.75 84.27h5.15v1.951h-5.15zM353.28 85.92h5.45v1.951h-5.45zM337.81 87.57h5.45v1.951h-5.45zM353.28 87.57h5.45v1.951h-5.45zM358.44 89.23h5.45v1.951h-5.45zM353.28 90.88h5.45v1.951h-5.45zM358.44 92.53h5.45v1.951h-5.45zM327.50 97.48h5.45v1.951h-5.45zM348.12 97.48h5.45v1.951h-5.45zM327.50 100.78h5.45v1.951h-5.45zM275.95 104.09h5.45v1.951h-5.45zM286.26 104.09h5.45v1.951h-5.45zM322.35 104.09h5.45v1.951h-5.45zM332.66 104.09h5.45v1.951h-5.45zM332.66 105.74h5.45v1.951h-5.45zM286.26 110.69h5.45v1.951h-5.45zM342.97 110.69h5.45v1.951h-5.45zM348.12 114.00h5.45v1.951h-5.45zM332.66 122.25h5.45v1.951h-5.45zM337.81 122.25h5.45v1.951h-5.45zM353.28 122.25h5.45v1.951h-5.45zM322.35 127.21h5.45v1.951h-5.45zM337.81 128.86h5.45v1.951h-5.45zM296.57 130.51h5.45v1.951h-5.45zM327.50 130.51h5.45v1.951h-5.45zM353.28 133.81h5.45v1.951h-5.45zM291.42 138.76h5.45v1.951h-5.45zM327.50 138.76h5.45v1.951h-5.45zM332.66 138.76h5.45v1.951h-5.45zM337.81 138.76h5.45v1.951h-5.45zM342.97 138.76h5.45v1.951h-5.45zM353.28 138.76h5.45v1.951h-5.45zM291.42 143.72h5.45v1.951h-5.45zM306.88 145.37h5.45v1.951h-5.45zM348.12 147.02h5.45v1.951h-5.45zM291.42 148.67h5.45v1.951h-5.45zM353.28 150.32h5.45v1.951h-5.45zM363.59 150.32h5.45v1.951h-5.45zM368.75 150.32h5.15v1.951h-5.15zM327.50 151.98h5.45v1.951h-5.45zM358.44 156.93h5.45v1.951h-5.45zM281.11 161.88h5.45v1.951h-5.45zM363.59 161.88h5.45v1.951h-5.45zM337.81 163.53h5.45v1.951h-5.45zM353.28 163.53h5.45v1.951h-5.45zM337.81 165.19h5.45v1.951h-5.45zM332.66 168.49h5.45v1.951h-5.45zM337.81 170.14h5.45v1.951h-5.45zM358.44 170.14h5.45v1.951h-5.45zM332.66 171.79h5.45v1.951h-5.45zM358.44 173.44h5.45v1.951h-5.45zM358.44 175.09h5.45v1.951h-5.45zM342.97 178.40h5.45v1.951h-5.45zM353.28 181.70h5.45v1.951h-5.45zM327.50 183.35h5.45v1.951h-5.45zM332.66 183.35h5.45v1.951h-5.45zM348.12 183.35h5.45v1.951h-5.45zM337.81 185.00h5.45v1.951h-5.45zM342.97 194.91h5.45v1.951h-5.45zM348.12 194.91h5.45v1.951h-5.45zM291.42 196.56h5.45v1.951h-5.45zM342.97 201.51h5.45v1.951h-5.45zM286.26 203.17h5.45v1.951h-5.45zM342.97 204.82h5.45v1.951h-5.45zM337.81 206.47h5.45v1.951h-5.45zM342.97 206.47h5.45v1.951h-5.45zM332.66 208.12h5.45v1.951h-5.45zM353.28 209.77h5.45v1.951h-5.45zM291.42 211.42h5.45v1.951h-5.45zM332.66 211.42h5.45v1.951h-5.45zM342.97 211.42h5.45v1.951h-5.45zM358.44 211.42h5.45v1.951h-5.45zM275.95 213.07h5.45v1.951h-5.45zM342.97 213.07h5.45v1.951h-5.45zM327.50 216.38h5.45v1.951h-5.45zM322.35 218.03h5.45v1.951h-5.45zM342.97 221.33h5.45v1.951h-5.45zM353.28 221.33h5.45v1.951h-5.45zM358.44 221.33h5.45v1.951h-5.45zM342.97 222.98h5.45v1.951h-5.45zM322.35 224.63h5.45v1.951h-5.45zM342.97 224.63h5.45v1.951h-5.45zM348.12 224.63h5.45v1.951h-5.45zM327.50 227.93h5.45v1.951h-5.45zM363.59 227.93h5.45v1.951h-5.45zM368.75 227.93h5.15v1.951h-5.15zM291.42 232.89h5.45v1.951h-5.45zM306.88 232.89h5.45v1.951h-5.45zM281.11 234.54h5.45v1.951h-5.45zM286.26 236.19h5.45v1.951h-5.45zM342.97 239.49h5.45v1.951h-5.45zM270.80 242.80h5.45v1.951h-5.45zM306.88 242.80h5.45v1.951h-5.45zM270.80 246.10h5.45v1.951h-5.45zM296.57 246.10h5.45v1.951h-5.45zM327.50 247.75h5.45v1.951h-5.45zM296.57 249.40h5.45v1.951h-5.45zM286.26 252.70h5.45v1.951h-5.45zM291.42 256.01h5.45v1.951h-5.45zM281.11 257.66h5.45v1.951h-5.45zM301.73 260.96h5.45v1.951h-5.45zM358.44 260.96h5.45v1.951h-5.45zM286.26 262.61h5.45v1.951h-5.45zM353.28 262.61h5.45v1.951h-5.45zM291.42 265.91h5.45v1.951h-5.45zM301.73 265.91h5.45v1.951h-5.45zM286.26 270.87h5.45v1.951h-5.45zM301.73 270.87h5.45v1.951h-5.45zM281.11 272.52h5.45v1.951h-5.45zM291.42 272.52h5.45v1.951h-5.45zM327.50 274.17h5.45v1.951h-5.45zM270.80 275.82h5.45v1.951h-5.45zM281.11 275.82h5.45v1.951h-5.45zM286.26 279.12h5.45v1.951h-5.45zM337.81 280.78h5.45v1.951h-5.45zM281.11 290.68h5.45v1.951h-5.45zM296.57 290.68h5.45v1.951h-5.45zM296.57 292.34h5.45v1.951h-5.45zM275.95 295.64h5.45v1.951h-5.45zM281.11 295.64h5.45v1.951h-5.45zM286.26 295.64h5.45v1.951h-5.45zM322.35 295.64h5.45v1.951h-5.45zM306.88 298.94h5.45v1.951h-5.45zM358.44 298.94h5.45v1.951h-5.45zM306.88 302.24h5.45v1.951h-5.45zM337.81 302.24h5.45v1.951h-5.45zM275.95 303.89h5.45v1.951h-5.45zM291.42 308.85h5.45v1.951h-5.45zM291.42 312.15h5.45v1.951h-5.45zM327.50 312.15h5.45v1.951h-5.45zM332.66 317.10h5.45v1.951h-5.45zM286.26 318.76h5.45v1.951h-5.45zM270.80 320.41h5.45v1.951h-5.45zM296.57 323.71h5.45v1.951h-5.45zM281.11 325.36h5.45v1.951h-5.45zM296.57 325.36h5.45v1.951h-5.45zM270.80 327.01h5.45v1.951h-5.45zM296.57 328.66h5.45v1.951h-5.45zM286.26 330.32h5.45v1.951h-5.45zM286.26 331.97h5.45v1.951h-5.45zM275.95 333.62h5.45v1.951h-5.45zM281.11 333.62h5.45v1.951h-5.45zM286.26 335.27h5.45v1.951h-5.45zM281.11 336.92h5.45v1.951h-5.45zM296.57 336.92h5.45v1.951h-5.45zM275.95 343.53h5.45v1.951h-5.45zM286.26 343.53h5.45v1.951h-5.45zM327.50 345.18h5.45v1.951h-5.45zM327.50 346.83h5.45v1.951h-5.45zM296.57 350.13h5.45v1.951h-5.45zM281.11 356.74h5.45v1.951h-5.45zM306.88 356.74h5.45v1.951h-5.45zM327.50 356.74h5.45v1.951h-5.45zM353.28 356.74h5.45v1.951h-5.45zM301.73 358.39h5.45v1.951h-5.45zM327.50 358.39h5.45v1.951h-5.45zM270.80 360.04h5.45v1.951h-5.45zM281.11 360.04h5.45v1.951h-5.45zM296.57 360.04h5.45v1.951h-5.45zM270.80 364.99h5.45v1.951h-5.45zM275.95 364.99h5.45v1.951h-5.45zM286.26 364.99h5.45v1.951h-5.45zM327.50 364.99h5.45v1.951h-5.45zM291.42 366.64h5.45v1.951h-5.45zM281.11 368.29h5.45v1.951h-5.45zM270.80 371.60h5.45v1.951h-5.45zM270.80 373.25h5.45v1.651h-5.45zM296.57 373.25h5.45v1.651h-5.45z"/>
<path fill="#ec1e24" d="M342.97 56.20h5.45v1.951h-5.45zM342.97 57.85h5.45v1.951h-5.45zM353.28 57.85h5.45v1.951h-5.45zM353.28 61.15h5.45v1.951h-5.45zM353.28 62.81h5.45v1.951h-5.45zM363.59 62.81h5.45v1.951h-5.45zM368.75 62.81h5.15v1.951h-5.15zM342.97 64.46h5.45v1.951h-5.45zM363.59 66.11h5.45v1.951h-5.45zM368.75 66.11h5.15v1.951h-5.15zM342.97 67.76h5.45v1.951h-5.45zM363.59 69.41h5.45v1.951h-5.45zM368.75 69.41h5.15v1.951h-5.15zM348.12 71.06h5.45v1.951h-5.45zM363.59 71.06h5.45v1.951h-5.45zM368.75 71.06h5.15v1.951h-5.15zM348.12 72.71h5.45v1.951h-5.45zM353.28 72.71h5.45v1.951h-5.45zM363.59 72.71h5.45v1.951h-5.45zM368.75 72.71h5.15v1.951h-5.15zM348.12 74.36h5.45v1.951h-5.45zM363.59 74.36h5.45v1.951h-5.45zM368.75 74.36h5.15v1.951h-5.15zM363.59 76.02h5.45v1.951h-5.45zM368.75 76.02h5.15v1.951h-5.15zM348.12 77.67h5.45v1.951h-5.45zM337.81 79.32h5.45v1.951h-5.45zM342.97 79.32h5.45v1.951h-5.45zM368.75 79.32h5.15v1.951h-5.15zM363.59 80.97h5.45v1.951h-5.45zM327.50 82.62h5.45v1.951h-5.45zM332.66 82.62h5.45v1.951h-5.45zM363.59 82.62h5.45v1.951h-5.45zM368.75 82.62h5.15v1.951h-5.15zM342.97 85.92h5.45v1.951h-5.45zM368.75 85.92h5.15v1.951h-5.15zM332.66 87.57h5.45v1.951h-5.45zM368.75 87.57h5.15v1.951h-5.15zM327.50 89.23h5.45v1.951h-5.45zM337.81 89.23h5.45v1.951h-5.45zM363.59 89.23h5.45v1.951h-5.45zM368.75 89.23h5.15v1.951h-5.15zM368.75 90.88h5.15v1.951h-5.15zM286.26 92.53h5.45v1.951h-5.45zM327.50 92.53h5.45v1.951h-5.45zM353.28 92.53h5.45v1.951h-5.45zM363.59 92.53h5.45v1.951h-5.45zM368.75 92.53h5.15v1.951h-5.15zM337.81 94.18h5.45v1.951h-5.45zM348.12 94.18h5.45v1.951h-5.45zM363.59 94.18h5.45v1.951h-5.45zM368.75 94.18h5.15v1.951h-5.15zM363.59 97.48h5.45v1.951h-5.45zM275.95 99.13h5.45v1.951h-5.45zM353.28 99.13h5.45v1.951h-5.45zM363.59 99.13h5.45v1.951h-5.45zM368.75 99.13h5.15v1.951h-5.15zM348.12 100.78h5.45v1.951h-5.45zM363.59 100.78h5.45v1.951h-5.45zM332.66 102.44h5.45v1.951h-5.45zM358.44 102.44h5.45v1.951h-5.45zM363.59 102.44h5.45v1.951h-5.45zM358.44 104.09h5.45v1.951h-5.45zM363.59 104.09h5.45v1.951h-5.45zM368.75 104.09h5.15v1.951h-5.15zM327.50 105.74h5.45v1.951h-5.45zM342.97 105.74h5.45v1.951h-5.45zM353.28 105.74h5.45v1.951h-5.45zM363.59 107.39h5.45v1.951h-5.45zM368.75 107.39h5.15v1.951h-5.15zM358.44 109.04h5.45v1.951h-5.45zM363.59 109.04h5.45v1.951h-5.45zM348.12 110.69h5.45v1.951h-5.45zM358.44 110.69h5.45v1.951h-5.45zM363.59 110.69h5.45v1.951h-5.45zM368.75 110.69h5.15v1.951h-5.15zM363.59 112.34h5.45v1.951h-5.45zM368.75 112.34h5.15v1.951h-5.15zM363.59 114.00h5.45v1.951h-5.45zM353.28 115.65h5.45v1.951h-5.45zM363.59 115.65h5.45v1.951h-5.45zM368.75 115.65h5.15v1.951h-5.15zM270.80 117.30h5.45v1.951h-5.45zM363.59 117.30h5.45v1.951h-5.45zM368.75 117.30h5.15v1.951h-5.15zM322.35 118.95h5.45v1.951h-5.45zM342.97 118.95h5.45v1.951h-5.45zM348.12 118.95h5.45v1.951h-5.45zM363.59 118.95h5.45v1.951h-5.45zM368.75 118.95h5.15v1.951h-5.15zM348.12 120.60h5.45v1.951h-5.45zM301.73 123.90h5.45v1.951h-5.45zM363.59 125.55h5.45v1.951h-5.45zM368.75 125.55h5.15v1.951h-5.15zM363.59 127.21h5.45v1.951h-5.45zM368.75 127.21h5.15v1.951h-5.15zM270.80 130.51h5.45v1.951h-5.45zM342.97 130.51h5.45v1.951h-5.45zM363.59 130.51h5.45v1.951h-5.45zM368.75 132.16h5.15v1.951h-5.15zM363.59 133.81h5.45v1.951h-5.45zM368.75 133.81h5.15v1.951h-5.15zM353.28 135.46h5.45v1.951h-5.45zM322.35 137.11h5.45v1.951h-5.45zM332.66 137.11h5.45v1.951h-5.45zM363.59 137.11h5.45v1.951h-5.45zM368.75 137.11h5.15v1.951h-5.15zM363.59 138.76h5.45v1.951h-5.45zM337.81 140.42h5.45v1.951h-5.45zM363.59 140.42h5.45v1.951h-5.45zM368.75 140.42h5.15v1.951h-5.15zM348.12 142.07h5.45v1.951h-5.45zM353.28 143.72h5.45v1.951h-5.45zM363.59 143.72h5.45v1.951h-5.45zM368.75 143.72h5.15v1.951h-5.15zM342.97 145.37h5.45v1.951h-5.45zM363.59 145.37h5.45v1.951h-5.45zM368.75 145.37h5.15v1.951h-5.15zM270.80 147.02h5.45v1.951h-5.45zM363.59 147.02h5.45v1.951h-5.45zM368.75 147.02h5.15v1.951h-5.15zM286.26 148.67h5.45v1.951h-5.45zM322.35 148.67h5.45v1.951h-5.45zM363.59 148.67h5.45v1.951h-5.45zM342.97 150.32h5.45v1.951h-5.45zM353.28 151.98h5.45v1.951h-5.45zM368.75 153.63h5.15v1.951h-5.15zM332.66 155.28h5.45v1.951h-5.45zM363.59 156.93h5.45v1.951h-5.45zM342.97 160.23h5.45v1.951h-5.45zM348.12 160.23h5.45v1.951h-5.45zM353.28 160.23h5.45v1.951h-5.45zM363.59 160.23h5.45v1.951h-5.45zM368.75 160.23h5.15v1.951h-5.15zM327.50 161.88h5.45v1.951h-5.45zM281.11 163.53h5.45v1.951h-5.45zM358.44 163.53h5.45v1.951h-5.45zM363.59 163.53h5.45v1.951h-5.45zM368.75 163.53h5.15v1.951h-5.15zM363.59 165.19h5.45v1.951h-5.45zM368.75 165.19h5.15v1.951h-5.15zM281.11 166.84h5.45v1.951h-5.45zM296.57 166.84h5.45v1.951h-5.45zM368.75 166.84h5.15v1.951h-5.15zM337.81 168.49h5.45v1.951h-5.45zM363.59 171.79h5.45v1.951h-5.45zM363.59 173.44h5.45v1.951h-5.45zM363.59 175.09h5.45v1.951h-5.45zM368.75 175.09h5.15v1.951h-5.15zM348.12 176.74h5.45v1.951h-5.45zM363.59 176.74h5.45v1.951h-5.45zM368.75 176.74h5.15v1.951h-5.15zM332.66 178.40h5.45v1.951h-5.45zM363.59 178.40h5.45v1.951h-5.45zM327.50 180.05h5.45v1.951h-5.45zM363.59 180.05h5.45v1.951h-5.45zM363.59 181.70h5.45v1.951h-5.45zM281.11 183.35h5.45v1.951h-5.45zM353.28 183.35h5.45v1.951h-5.45zM363.59 183.35h5.45v1.951h-5.45zM342.97 185.00h5.45v1.951h-5.45zM363.59 185.00h5.45v1.951h-5.45zM368.75 185.00h5.15v1.951h-5.15zM327.50 188.30h5.45v1.951h-5.45zM358.44 188.30h5.45v1.951h-5.45zM363.59 188.30h5.45v1.951h-5.45zM368.75 188.30h5.15v1.951h-5.15zM368.75 189.95h5.15v1.951h-5.15zM342.97 191.61h5.45v1.951h-5.45zM363.59 191.61h5.45v1.951h-5.45zM368.75 191.61h5.15v1.951h-5.15zM270.80 193.26h5.45v1.951h-5.45zM342.97 193.26h5.45v1.951h-5.45zM363.59 193.26h5.45v1.951h-5.45zM353.28 194.91h5.45v1.951h-5.45zM363.59 194.91h5.45v1.951h-5.45zM368.75 194.91h5.15v1.951h-5.15zM342.97 196.56h5.45v1.951h-5.45zM353.28 196.56h5.45v1.951h-5.45zM363.59 196.56h5.45v1.951h-5.45zM368.75 196.56h5.15v1.951h-5.15zM363.59 198.21h5.45v1.951h-5.45zM368.75 198.21h5.15v1.951h-5.15zM337.81 199.86h5.45v1.951h-5.45zM363.59 201.51h5.45v1.951h-5.45zM368.75 201.51h5.15v1.951h-5.15zM332.66 203.17h5.45v1.951h-5.45zM363.59 203.17h5.45v1.951h-5.45zM368.75 203.17h5.15v1.951h-5.15zM332.66 204.82h5.45v1.951h-5.45zM368.75 204.82h5.15v1.951h-5.15zM306.88 206.47h5.45v1.951h-5.45zM306.88 208.12h5.45v1.951h-5.45zM363.59 208.12h5.45v1.951h-5.45zM368.75 208.12h5.15v1.951h-5.15zM286.26 209.77h5.45v1.951h-5.45zM327.50 209.77h5.45v1.951h-5.45zM332.66 209.77h5.45v1.951h-5.45zM363.59 209.77h5.45v1.951h-5.45zM368.75 209.77h5.15v1.951h-5.15zM363.59 211.42h5.45v1.951h-5.45zM281.11 213.07h5.45v1.951h-5.45zM286.26 213.07h5.45v1.951h-5.45zM291.42 213.07h5.45v1.951h-5.45zM332.66 213.07h5.45v1.951h-5.45zM363.59 213.07h5.45v1.951h-5.45zM368.75 213.07h5.15v1.951h-5.15zM342.97 214.72h5.45v1.951h-5.45zM368.75 214.72h5.15v1.951h-5.15zM353.28 216.38h5.45v1.951h-5.45zM363.59 216.38h5.45v1.951h-5.45zM327.50 218.03h5.45v1.951h-5.45zM363.59 218.03h5.45v1.951h-5.45zM368.75 218.03h5.15v1.951h-5.15zM281.11 221.33h5.45v1.951h-5.45zM322.35 221.33h5.45v1.951h-5.45zM363.59 221.33h5.45v1.951h-5.45zM281.11 222.98h5.45v1.951h-5.45zM270.80 224.63h5.45v1.951h-5.45zM363.59 224.63h5.45v1.951h-5.45zM368.75 224.63h5.15v1.951h-5.15zM368.75 226.28h5.15v1.951h-5.15zM332.66 227.93h5.45v1.951h-5.45zM353.28 227.93h5.45v1.951h-5.45zM291.42 229.59h5.45v1.951h-5.45zM337.81 229.59h5.45v1.951h-5.45zM368.75 229.59h5.15v1.951h-5.15zM286.26 231.24h5.45v1.951h-5.45zM306.88 231.24h5.45v1.951h-5.45zM327.50 231.24h5.45v1.951h-5.45zM368.75 231.24h5.15v1.951h-5.15zM342.97 232.89h5.45v1.951h-5.45zM353.28 232.89h5.45v1.951h-5.45zM363.59 232.89h5.45v1.951h-5.45zM368.75 232.89h5.15v1.951h-5.15zM337.81 234.54h5.45v1.951h-5.45zM368.75 234.54h5.15v1.951h-5.15zM363.59 236.19h5.45v1.951h-5.45zM368.75 236.19h5.15v1.951h-5.15zM306.88 237.84h5.45v1.951h-5.45zM337.81 237.84h5.45v1.951h-5.45zM291.42 239.49h5.45v1.951h-5.45zM301.73 239.49h5.45v1.951h-5.45zM358.44 242.80h5.45v1.951h-5.45zM296.57 244.45h5.45v1.951h-5.45zM306.88 244.45h5.45v1.951h-5.45zM301.73 246.10h5.45v1.951h-5.45zM358.44 247.75h5.45v1.951h-5.45zM286.26 249.40h5.45v1.951h-5.45zM296.57 251.05h5.45v1.951h-5.45zM332.66 251.05h5.45v1.951h-5.45zM286.26 254.36h5.45v1.951h-5.45zM291.42 254.36h5.45v1.951h-5.45zM327.50 254.36h5.45v1.951h-5.45zM281.11 256.01h5.45v1.951h-5.45zM296.57 256.01h5.45v1.951h-5.45zM353.28 257.66h5.45v1.951h-5.45zM291.42 260.96h5.45v1.951h-5.45zM306.88 264.26h5.45v1.951h-5.45zM296.57 265.91h5.45v1.951h-5.45zM291.42 267.57h5.45v1.951h-5.45zM327.50 267.57h5.45v1.951h-5.45zM332.66 267.57h5.45v1.951h-5.45zM301.73 269.22h5.45v1.951h-5.45zM327.50 270.87h5.45v1.951h-5.45zM286.26 274.17h5.45v1.951h-5.45zM306.88 274.17h5.45v1.951h-5.45zM286.26 275.82h5.45v1.951h-5.45zM327.50 277.47h5.45v1.951h-5.45zM353.28 277.47h5.45v1.951h-5.45zM275.95 279.12h5.45v1.951h-5.45zM281.11 279.12h5.45v1.951h-5.45zM270.80 280.78h5.45v1.951h-5.45zM327.50 280.78h5.45v1.951h-5.45zM291.42 282.43h5.45v1.951h-5.45zM332.66 284.08h5.45v1.951h-5.45zM291.42 285.73h5.45v1.951h-5.45zM327.50 285.73h5.45v1.951h-5.45zM301.73 287.38h5.45v1.951h-5.45zM275.95 289.03h5.45v1.951h-5.45zM291.42 289.03h5.45v1.951h-5.45zM296.57 289.03h5.45v1.951h-5.45zM306.88 289.03h5.45v1.951h-5.45zM286.26 290.68h5.45v1.951h-5.45zM306.88 290.68h5.45v1.951h-5.45zM327.50 290.68h5.45v1.951h-5.45zM296.57 293.99h5.45v1.951h-5.45zM301.73 293.99h5.45v1.951h-5.45zM306.88 295.64h5.45v1.951h-5.45zM358.44 295.64h5.45v1.951h-5.45zM270.80 297.29h5.45v1.951h-5.45zM270.80 298.94h5.45v1.951h-5.45zM291.42 298.94h5.45v1.951h-5.45zM281.11 300.59h5.45v1.951h-5.45zM306.88 300.59h5.45v1.951h-5.45zM322.35 300.59h5.45v1.951h-5.45zM291.42 303.89h5.45v1.951h-5.45zM337.81 303.89h5.45v1.951h-5.45zM286.26 307.20h5.45v1.951h-5.45zM337.81 307.20h5.45v1.951h-5.45zM270.80 308.85h5.45v1.951h-5.45zM327.50 310.50h5.45v1.951h-5.45zM281.11 312.15h5.45v1.951h-5.45zM286.26 313.80h5.45v1.951h-5.45zM327.50 315.45h5.45v1.951h-5.45zM306.88 318.76h5.45v1.951h-5.45zM275.95 325.36h5.45v1.951h-5.45zM270.80 328.66h5.45v1.951h-5.45zM296.57 331.97h5.45v1.951h-5.45zM281.11 335.27h5.45v1.951h-5.45zM291.42 335.27h5.45v1.951h-5.45zM296.57 335.27h5.45v1.951h-5.45zM327.50 335.27h5.45v1.951h-5.45zM332.66 336.92h5.45v1.951h-5.45zM270.80 338.57h5.45v1.951h-5.45zM342.97 340.22h5.45v1.951h-5.45zM281.11 341.87h5.45v1.951h-5.45zM291.42 343.53h5.45v1.951h-5.45zM353.28 343.53h5.45v1.951h-5.45zM286.26 350.13h5.45v1.951h-5.45zM291.42 351.78h5.45v1.951h-5.45zM281.11 353.43h5.45v1.951h-5.45zM301.73 353.43h5.45v1.951h-5.45zM270.80 355.08h5.45v1.951h-5.45zM275.95 356.74h5.45v1.951h-5.45zM291.42 356.74h5.45v1.951h-5.45zM301.73 356.74h5.45v1.951h-5.45zM301.73 360.04h5.45v1.951h-5.45zM306.88 360.04h5.45v1.951h-5.45zM270.80 361.69h5.45v1.951h-5.45zM296.57 363.34h5.45v1.951h-5.45zM353.28 363.34h5.45v1.951h-5.45zM281.11 366.64h5.45v1.951h-5.45zM306.88 366.64h5.45v1.951h-5.45zM286.26 369.95h5.45v1.951h-5.45zM301.73 369.95h5.45v1.951h-5.45zM296.57 371.60h5.45v1.951h-5.45zM286.26 373.25h5.45v1.651h-5.45zM301.73 373.25h5.45v1.651h-5.45z"/>
<path fill="#fac7c8" d="M348.12 56.20h5.45v1.951h-5.45zM291.42 57.85h5.45v1.951h-5.45zM358.44 62.81h5.45v1.951h-5.45zM291.42 69.41h5.45v1.951h-5.45zM301.73 69.41h5.45v1.951h-5.45zM312.04 71.06h5.45v1.951h-5.45zM301.73 72.71h5.45v1.951h-5.45zM353.28 77.67h5.45v1.951h-5.45zM358.44 82.62h5.45v1.951h-5.45zM275.95 84.27h5.45v1.951h-5.45zM332.66 89.23h5.45v1.951h-5.45zM342.97 89.23h5.45v1.951h-5.45zM312.04 100.78h5.45v1.951h-5.45zM275.95 102.44h5.45v1.951h-5.45zM327.50 102.44h5.45v1.951h-5.45zM327.50 104.09h5.45v1.951h-5.45zM317.19 109.04h5.45v1.951h-5.45zM342.97 109.04h5.45v1.951h-5.45zM306.88 112.34h5.45v1.951h-5.45zM358.44 112.34h5.45v1.951h-5.45zM322.35 114.00h5.45v1.951h-5.45zM342.97 122.25h5.45v1.951h-5.45zM286.26 123.90h5.45v1.951h-5.45zM327.50 123.90h5.45v1.951h-5.45zM348.12 128.86h5.45v1.951h-5.45zM337.81 137.11h5.45v1.951h-5.45zM353.28 137.11h5.45v1.951h-5.45zM312.04 140.42h5.45v1.951h-5.45zM353.28 145.37h5.45v1.951h-5.45zM270.80 150.32h5.45v1.951h-5.45zM281.11 151.98h5.45v1.951h-5.45zM286.26 160.23h5.45v1.951h-5.45zM312.04 160.23h5.45v1.951h-5.45zM348.12 166.84h5.45v1.951h-5.45zM353.28 168.49h5.45v1.951h-5.45zM270.80 175.09h5.45v1.951h-5.45zM286.26 178.40h5.45v1.951h-5.45zM332.66 185.00h5.45v1.951h-5.45zM281.11 188.30h5.45v1.951h-5.45zM286.26 189.95h5.45v1.951h-5.45zM358.44 193.26h5.45v1.951h-5.45zM327.50 198.21h5.45v1.951h-5.45zM353.28 204.82h5.45v1.951h-5.45zM348.12 206.47h5.45v1.951h-5.45zM353.28 206.47h5.45v1.951h-5.45zM322.35 209.77h5.45v1.951h-5.45zM348.12 219.68h5.45v1.951h-5.45zM296.57 224.63h5.45v1.951h-5.45zM353.28 226.28h5.45v1.951h-5.45zM275.95 231.24h5.45v1.951h-5.45zM317.19 232.89h5.45v1.951h-5.45zM317.19 241.15h5.45v1.951h-5.45zM270.80 244.45h5.45v1.951h-5.45zM332.66 247.75h5.45v1.951h-5.45zM353.28 247.75h5.45v1.951h-5.45zM281.11 249.40h5.45v1.951h-5.45zM291.42 252.70h5.45v1.951h-5.45zM306.88 254.36h5.45v1.951h-5.45zM291.42 257.66h5.45v1.951h-5.45zM312.04 262.61h5.45v1.951h-5.45zM322.35 262.61h5.45v1.951h-5.45zM327.50 264.26h5.45v1.951h-5.45zM270.80 265.91h5.45v1.951h-5.45zM317.19 267.57h5.45v1.951h-5.45zM291.42 270.87h5.45v1.951h-5.45zM291.42 274.17h5.45v1.951h-5.45zM286.26 277.47h5.45v1.951h-5.45zM306.88 279.12h5.45v1.951h-5.45zM270.80 282.43h5.45v1.951h-5.45zM296.57 282.43h5.45v1.951h-5.45zM296.57 284.08h5.45v1.951h-5.45zM312.04 289.03h5.45v1.951h-5.45zM317.19 292.34h5.45v1.951h-5.45zM358.44 293.99h5.45v1.951h-5.45zM291.42 295.64h5.45v1.951h-5.45zM281.11 297.29h5.45v1.951h-5.45zM291.42 297.29h5.45v1.951h-5.45zM281.11 298.94h5.45v1.951h-5.45zM275.95 305.55h5.45v1.951h-5.45zM312.04 305.55h5.45v1.951h-5.45zM275.95 308.85h5.45v1.951h-5.45zM275.95 312.15h5.45v1.951h-5.45zM275.95 313.80h5.45v1.951h-5.45zM327.50 317.10h5.45v1.951h-5.45zM296.57 322.06h5.45v1.951h-5.45zM281.11 328.66h5.45v1.951h-5.45zM270.80 335.27h5.45v1.951h-5.45zM353.28 335.27h5.45v1.951h-5.45zM281.11 343.53h5.45v1.951h-5.45zM291.42 345.18h5.45v1.951h-5.45zM353.28 350.13h5.45v1.951h-5.45zM301.73 351.78h5.45v1.951h-5.45zM327.50 355.08h5.45v1.951h-5.45zM337.81 356.74h5.45v1.951h-5.45zM275.95 358.39h5.45v1.951h-5.45zM337.81 360.04h5.45v1.951h-5.45zM281.11 361.69h5.45v1.951h-5.45zM275.95 363.34h5.45v1.951h-5.45zM317.19 364.99h5.45v1.951h-5.45zM358.44 368.29h5.45v1.951h-5.45zM317.19 371.60h5.45v1.951h-5.45z"/>
<path fill="#cbd0e8" d="M353.28 56.20h5.45v1.951h-5.45zM327.50 59.50h5.45v1.951h-5.45zM281.11 67.76h5.45v1.951h-5.45zM291.42 67.76h5.45v1.951h-5.45zM342.97 74.36h5.45v1.951h-5.45zM312.04 76.02h5.45v1.951h-5.45zM327.50 76.02h5.45v1.951h-5.45zM301.73 82.62h5.45v1.951h-5.45zM312.04 82.62h5.45v1.951h-5.45zM322.35 82.62h5.45v1.951h-5.45zM353.28 82.62h5.45v1.951h-5.45zM332.66 90.88h5.45v1.951h-5.45zM358.44 94.18h5.45v1.951h-5.45zM275.95 97.48h5.45v1.951h-5.45zM358.44 107.39h5.45v1.951h-5.45zM275.95 112.34h5.45v1.951h-5.45zM275.95 115.65h5.45v1.951h-5.45zM332.66 115.65h5.45v1.951h-5.45zM327.50 118.95h5.45v1.951h-5.45zM306.88 120.60h5.45v1.951h-5.45zM291.42 123.90h5.45v1.951h-5.45zM306.88 125.55h5.45v1.951h-5.45zM275.95 128.86h5.45v1.951h-5.45zM317.19 130.51h5.45v1.951h-5.45zM286.26 135.46h5.45v1.951h-5.45zM301.73 137.11h5.45v1.951h-5.45zM301.73 142.07h5.45v1.951h-5.45zM332.66 153.63h5.45v1.951h-5.45zM348.12 155.28h5.45v1.951h-5.45zM353.28 156.93h5.45v1.951h-5.45zM322.35 163.53h5.45v1.951h-5.45zM291.42 165.19h5.45v1.951h-5.45zM337.81 171.79h5.45v1.951h-5.45zM342.97 173.44h5.45v1.951h-5.45zM296.57 178.40h5.45v1.951h-5.45zM275.95 181.70h5.45v1.951h-5.45zM296.57 181.70h5.45v1.951h-5.45zM291.42 183.35h5.45v1.951h-5.45zM342.97 183.35h5.45v1.951h-5.45zM312.04 185.00h5.45v1.951h-5.45zM306.88 194.91h5.45v1.951h-5.45zM296.57 214.72h5.45v1.951h-5.45zM275.95 226.28h5.45v1.951h-5.45zM358.44 227.93h5.45v1.951h-5.45zM296.57 231.24h5.45v1.951h-5.45zM348.12 234.54h5.45v1.951h-5.45zM332.66 239.49h5.45v1.951h-5.45zM342.97 249.40h5.45v1.951h-5.45zM296.57 260.96h5.45v1.951h-5.45zM270.80 262.61h5.45v1.951h-5.45zM317.19 262.61h5.45v1.951h-5.45zM281.11 265.91h5.45v1.951h-5.45zM337.81 270.87h5.45v1.951h-5.45zM358.44 275.82h5.45v1.951h-5.45zM348.12 279.12h5.45v1.951h-5.45zM306.88 280.78h5.45v1.951h-5.45zM332.66 282.43h5.45v1.951h-5.45zM358.44 282.43h5.45v1.951h-5.45zM337.81 285.73h5.45v1.951h-5.45zM332.66 292.34h5.45v1.951h-5.45zM317.19 295.64h5.45v1.951h-5.45zM317.19 302.24h5.45v1.951h-5.45zM353.28 302.24h5.45v1.951h-5.45zM322.35 308.85h5.45v1.951h-5.45zM286.26 312.15h5.45v1.951h-5.45zM342.97 315.45h5.45v1.951h-5.45zM317.19 318.76h5.45v1.951h-5.45zM358.44 320.41h5.45v1.951h-5.45zM342.97 323.71h5.45v1.951h-5.45zM275.95 327.01h5.45v1.951h-5.45zM327.50 330.32h5.45v1.951h-5.45zM301.73 331.97h5.45v1.951h-5.45zM332.66 335.27h5.45v1.951h-5.45zM337.81 335.27h5.45v1.951h-5.45zM296.57 341.87h5.45v1.951h-5.45zM317.19 341.87h5.45v1.951h-5.45zM348.12 345.18h5.45v1.951h-5.45zM322.35 346.83h5.45v1.951h-5.45zM312.04 348.48h5.45v1.951h-5.45zM348.12 351.78h5.45v1.951h-5.45zM312.04 358.39h5.45v1.951h-5.45zM342.97 361.69h5.45v1.951h-5.45zM306.88 364.99h5.45v1.951h-5.45zM270.80 368.29h5.45v1.951h-5.45zM358.44 371.60h5.45v1.951h-5.45zM353.28 373.25h5.45v1.651h-5.45z"/>
<path fill="#f37276" d="M363.59 56.20h5.45v1.951h-5.45zM322.35 59.50h5.45v1.951h-5.45zM342.97 61.15h5.45v1.951h-5.45zM348.12 66.11h5.45v1.951h-5.45zM342.97 84.27h5.45v1.951h-5.45zM301.73 89.23h5.45v1.951h-5.45zM322.35 92.53h5.45v1.951h-5.45zM332.66 99.13h5.45v1.951h-5.45zM291.42 104.09h5.45v1.951h-5.45zM322.35 112.34h5.45v1.951h-5.45zM348.12 115.65h5.45v1.951h-5.45zM286.26 120.60h5.45v1.951h-5.45zM332.66 140.42h5.45v1.951h-5.45zM327.50 143.72h5.45v1.951h-5.45zM327.50 145.37h5.45v1.951h-5.45zM348.12 161.88h5.45v1.951h-5.45zM301.73 168.49h5.45v1.951h-5.45zM327.50 175.09h5.45v1.951h-5.45zM353.28 176.74h5.45v1.951h-5.45zM332.66 181.70h5.45v1.951h-5.45zM332.66 188.30h5.45v1.951h-5.45zM342.97 189.95h5.45v1.951h-5.45zM353.28 189.95h5.45v1.951h-5.45zM332.66 194.91h5.45v1.951h-5.45zM327.50 201.51h5.45v1.951h-5.45zM353.28 211.42h5.45v1.951h-5.45zM337.81 213.07h5.45v1.951h-5.45zM275.95 218.03h5.45v1.951h-5.45zM332.66 221.33h5.45v1.951h-5.45zM348.12 222.98h5.45v1.951h-5.45zM286.26 226.28h5.45v1.951h-5.45zM301.73 226.28h5.45v1.951h-5.45zM306.88 234.54h5.45v1.951h-5.45zM286.26 244.45h5.45v1.951h-5.45zM286.26 247.75h5.45v1.951h-5.45zM286.26 251.05h5.45v1.951h-5.45zM327.50 252.70h5.45v1.951h-5.45zM353.28 256.01h5.45v1.951h-5.45zM281.11 262.61h5.45v1.951h-5.45zM275.95 265.91h5.45v1.951h-5.45zM286.26 269.22h5.45v1.951h-5.45zM291.42 269.22h5.45v1.951h-5.45zM306.88 277.47h5.45v1.951h-5.45zM296.57 279.12h5.45v1.951h-5.45zM281.11 287.38h5.45v1.951h-5.45zM327.50 289.03h5.45v1.951h-5.45zM327.50 295.64h5.45v1.951h-5.45zM281.11 303.89h5.45v1.951h-5.45zM296.57 308.85h5.45v1.951h-5.45zM275.95 317.10h5.45v1.951h-5.45zM281.11 317.10h5.45v1.951h-5.45zM327.50 327.01h5.45v1.951h-5.45zM275.95 341.87h5.45v1.951h-5.45zM301.73 343.53h5.45v1.951h-5.45zM327.50 360.04h5.45v1.951h-5.45zM327.50 361.69h5.45v1.951h-5.45zM301.73 364.99h5.45v1.951h-5.45z"/>
<path fill="#f68e92" d="M368.75 56.20h5.15v1.951h-5.15zM322.35 62.81h5.45v1.951h-5.45zM332.66 64.46h5.45v1.951h-5.45zM306.88 66.11h5.45v1.951h-5.45zM322.35 67.76h5.45v1.951h-5.45zM358.44 67.76h5.45v1.951h-5.45zM348.12 69.41h5.45v1.951h-5.45zM353.28 71.06h5.45v1.951h-5.45zM358.44 84.27h5.45v1.951h-5.45zM358.44 87.57h5.45v1.951h-5.45zM286.26 140.42h5.45v1.951h-5.45zM306.88 140.42h5.45v1.951h-5.45zM327.50 142.07h5.45v1.951h-5.45zM291.42 145.37h5.45v1.951h-5.45zM322.35 145.37h5.45v1.951h-5.45zM342.97 148.67h5.45v1.951h-5.45zM275.95 153.63h5.45v1.951h-5.45zM342.97 161.88h5.45v1.951h-5.45zM332.66 166.84h5.45v1.951h-5.45zM312.04 171.79h5.45v1.951h-5.45zM342.97 171.79h5.45v1.951h-5.45zM327.50 178.40h5.45v1.951h-5.45zM322.35 186.65h5.45v1.951h-5.45zM348.12 189.95h5.45v1.951h-5.45zM286.26 191.61h5.45v1.951h-5.45zM301.73 191.61h5.45v1.951h-5.45zM348.12 203.17h5.45v1.951h-5.45zM275.95 206.47h5.45v1.951h-5.45zM353.28 208.12h5.45v1.951h-5.45zM332.66 231.24h5.45v1.951h-5.45zM306.88 236.19h5.45v1.951h-5.45zM353.28 236.19h5.45v1.951h-5.45zM291.42 237.84h5.45v1.951h-5.45zM275.95 246.10h5.45v1.951h-5.45zM275.95 252.70h5.45v1.951h-5.45zM275.95 259.31h5.45v1.951h-5.45zM306.88 262.61h5.45v1.951h-5.45zM301.73 290.68h5.45v1.951h-5.45zM301.73 292.34h5.45v1.951h-5.45zM348.12 293.99h5.45v1.951h-5.45zM306.88 297.29h5.45v1.951h-5.45zM270.80 303.89h5.45v1.951h-5.45zM322.35 303.89h5.45v1.951h-5.45zM327.50 305.55h5.45v1.951h-5.45zM327.50 308.85h5.45v1.951h-5.45zM275.95 310.50h5.45v1.951h-5.45zM286.26 310.50h5.45v1.951h-5.45zM322.35 313.80h5.45v1.951h-5.45zM291.42 323.71h5.45v1.951h-5.45zM348.12 335.27h5.45v1.951h-5.45zM286.26 355.08h5.45v1.951h-5.45zM301.73 363.34h5.45v1.951h-5.45zM337.81 373.25h5.45v1.651h-5.45z"/>
<path fill="#ee3a3f" d="M301.73 57.85h5.45v1.951h-5.45zM301.73 59.50h5.45v1.951h-5.45zM332.66 61.15h5.45v1.951h-5.45zM342.97 62.81h5.45v1.951h-5.45zM363.59 64.46h5.45v1.951h-5.45zM368.75 64.46h5.15v1.951h-5.15zM363.59 67.76h5.45v1.951h-5.45zM368.75 67.76h5.15v1.951h-5.15zM270.80 69.41h5.45v1.951h-5.45zM322.35 69.41h5.45v1.951h-5.45zM353.28 69.41h5.45v1.951h-5.45zM281.11 71.06h5.45v1.951h-5.45zM358.44 72.71h5.45v1.951h-5.45zM322.35 74.36h5.45v1.951h-5.45zM281.11 76.02h5.45v1.951h-5.45zM332.66 76.02h5.45v1.951h-5.45zM342.97 77.67h5.45v1.951h-5.45zM363.59 77.67h5.45v1.951h-5.45zM368.75 77.67h5.15v1.951h-5.15zM322.35 79.32h5.45v1.951h-5.45zM353.28 79.32h5.45v1.951h-5.45zM363.59 79.32h5.45v1.951h-5.45zM332.66 80.97h5.45v1.951h-5.45zM337.81 80.97h5.45v1.951h-5.45zM348.12 80.97h5.45v1.951h-5.45zM368.75 80.97h5.15v1.951h-5.15zM348.12 82.62h5.45v1.951h-5.45zM327.50 84.27h5.45v1.951h-5.45zM363.59 85.92h5.45v1.951h-5.45zM342.97 87.57h5.45v1.951h-5.45zM363.59 87.57h5.45v1.951h-5.45zM322.35 89.23h5.45v1.951h-5.45zM348.12 89.23h5.45v1.951h-5.45zM327.50 90.88h5.45v1.951h-5.45zM363.59 90.88h5.45v1.951h-5.45zM337.81 92.53h5.45v1.951h-5.45zM342.97 92.53h5.45v1.951h-5.45zM363.59 95.83h5.45v1.951h-5.45zM368.75 95.83h5.15v1.951h-5.15zM286.26 97.48h5.45v1.951h-5.45zM368.75 97.48h5.15v1.951h-5.15zM291.42 100.78h5.45v1.951h-5.45zM332.66 100.78h5.45v1.951h-5.45zM353.28 100.78h5.45v1.951h-5.45zM368.75 100.78h5.15v1.951h-5.15zM286.26 102.44h5.45v1.951h-5.45zM342.97 102.44h5.45v1.951h-5.45zM348.12 102.44h5.45v1.951h-5.45zM353.28 102.44h5.45v1.951h-5.45zM368.75 102.44h5.15v1.951h-5.15zM337.81 104.09h5.45v1.951h-5.45zM342.97 104.09h5.45v1.951h-5.45zM291.42 105.74h5.45v1.951h-5.45zM363.59 105.74h5.45v1.951h-5.45zM368.75 105.74h5.15v1.951h-5.15zM332.66 107.39h5.45v1.951h-5.45zM342.97 107.39h5.45v1.951h-5.45zM348.12 107.39h5.45v1.951h-5.45zM332.66 109.04h5.45v1.951h-5.45zM353.28 109.04h5.45v1.951h-5.45zM368.75 109.04h5.15v1.951h-5.15zM281.11 112.34h5.45v1.951h-5.45zM348.12 112.34h5.45v1.951h-5.45zM327.50 114.00h5.45v1.951h-5.45zM353.28 114.00h5.45v1.951h-5.45zM368.75 114.00h5.15v1.951h-5.15zM281.11 115.65h5.45v1.951h-5.45zM327.50 115.65h5.45v1.951h-5.45zM358.44 115.65h5.45v1.951h-5.45zM348.12 117.30h5.45v1.951h-5.45zM353.28 117.30h5.45v1.951h-5.45zM270.80 118.95h5.45v1.951h-5.45zM353.28 118.95h5.45v1.951h-5.45zM322.35 120.60h5.45v1.951h-5.45zM363.59 120.60h5.45v1.951h-5.45zM368.75 120.60h5.15v1.951h-5.15zM270.80 122.25h5.45v1.951h-5.45zM358.44 122.25h5.45v1.951h-5.45zM363.59 122.25h5.45v1.951h-5.45zM368.75 122.25h5.15v1.951h-5.15zM342.97 123.90h5.45v1.951h-5.45zM353.28 123.90h5.45v1.951h-5.45zM358.44 123.90h5.45v1.951h-5.45zM363.59 123.90h5.45v1.951h-5.45zM368.75 123.90h5.15v1.951h-5.15zM332.66 125.55h5.45v1.951h-5.45zM342.97 125.55h5.45v1.951h-5.45zM332.66 127.21h5.45v1.951h-5.45zM353.28 127.21h5.45v1.951h-5.45zM363.59 128.86h5.45v1.951h-5.45zM368.75 128.86h5.15v1.951h-5.15zM301.73 130.51h5.45v1.951h-5.45zM348.12 130.51h5.45v1.951h-5.45zM368.75 130.51h5.15v1.951h-5.15zM286.26 132.16h5.45v1.951h-5.45zM358.44 132.16h5.45v1.951h-5.45zM363.59 132.16h5.45v1.951h-5.45zM348.12 133.81h5.45v1.951h-5.45zM275.95 135.46h5.45v1.951h-5.45zM296.57 135.46h5.45v1.951h-5.45zM306.88 135.46h5.45v1.951h-5.45zM322.35 135.46h5.45v1.951h-5.45zM342.97 135.46h5.45v1.951h-5.45zM363.59 135.46h5.45v1.951h-5.45zM368.75 135.46h5.15v1.951h-5.15zM348.12 138.76h5.45v1.951h-5.45zM368.75 138.76h5.15v1.951h-5.15zM327.50 140.42h5.45v1.951h-5.45zM348.12 140.42h5.45v1.951h-5.45zM322.35 142.07h5.45v1.951h-5.45zM363.59 142.07h5.45v1.951h-5.45zM368.75 142.07h5.15v1.951h-5.15zM306.88 147.02h5.45v1.951h-5.45zM337.81 147.02h5.45v1.951h-5.45zM270.80 148.67h5.45v1.951h-5.45zM368.75 148.67h5.15v1.951h-5.15zM281.11 150.32h5.45v1.951h-5.45zM337.81 150.32h5.45v1.951h-5.45zM358.44 150.32h5.45v1.951h-5.45zM286.26 151.98h5.45v1.951h-5.45zM363.59 151.98h5.45v1.951h-5.45zM368.75 151.98h5.15v1.951h-5.15zM270.80 153.63h5.45v1.951h-5.45zM363.59 153.63h5.45v1.951h-5.45zM281.11 155.28h5.45v1.951h-5.45zM358.44 155.28h5.45v1.951h-5.45zM363.59 155.28h5.45v1.951h-5.45zM368.75 155.28h5.15v1.951h-5.15zM368.75 156.93h5.15v1.951h-5.15zM348.12 158.58h5.45v1.951h-5.45zM358.44 158.58h5.45v1.951h-5.45zM363.59 158.58h5.45v1.951h-5.45zM368.75 158.58h5.15v1.951h-5.15zM368.75 161.88h5.15v1.951h-5.15zM327.50 163.53h5.45v1.951h-5.45zM275.95 165.19h5.45v1.951h-5.45zM342.97 165.19h5.45v1.951h-5.45zM353.28 165.19h5.45v1.951h-5.45zM342.97 166.84h5.45v1.951h-5.45zM358.44 166.84h5.45v1.951h-5.45zM363.59 166.84h5.45v1.951h-5.45zM363.59 168.49h5.45v1.951h-5.45zM368.75 168.49h5.15v1.951h-5.15zM342.97 170.14h5.45v1.951h-5.45zM363.59 170.14h5.45v1.951h-5.45zM368.75 170.14h5.15v1.951h-5.15zM368.75 171.79h5.15v1.951h-5.15zM368.75 173.44h5.15v1.951h-5.15zM291.42 175.09h5.45v1.951h-5.45zM332.66 175.09h5.45v1.951h-5.45zM332.66 176.74h5.45v1.951h-5.45zM270.80 178.40h5.45v1.951h-5.45zM348.12 178.40h5.45v1.951h-5.45zM353.28 178.40h5.45v1.951h-5.45zM368.75 178.40h5.15v1.951h-5.15zM270.80 180.05h5.45v1.951h-5.45zM368.75 180.05h5.15v1.951h-5.15zM342.97 181.70h5.45v1.951h-5.45zM348.12 181.70h5.45v1.951h-5.45zM368.75 181.70h5.15v1.951h-5.15zM286.26 183.35h5.45v1.951h-5.45zM368.75 183.35h5.15v1.951h-5.15zM327.50 186.65h5.45v1.951h-5.45zM363.59 186.65h5.45v1.951h-5.45zM368.75 186.65h5.15v1.951h-5.15zM270.80 188.30h5.45v1.951h-5.45zM337.81 188.30h5.45v1.951h-5.45zM348.12 188.30h5.45v1.951h-5.45zM363.59 189.95h5.45v1.951h-5.45zM353.28 191.61h5.45v1.951h-5.45zM332.66 193.26h5.45v1.951h-5.45zM368.75 193.26h5.15v1.951h-5.15zM337.81 194.91h5.45v1.951h-5.45zM348.12 196.56h5.45v1.951h-5.45zM358.44 196.56h5.45v1.951h-5.45zM342.97 198.21h5.45v1.951h-5.45zM348.12 198.21h5.45v1.951h-5.45zM301.73 199.86h5.45v1.951h-5.45zM363.59 199.86h5.45v1.951h-5.45zM368.75 199.86h5.15v1.951h-5.15zM270.80 203.17h5.45v1.951h-5.45zM327.50 203.17h5.45v1.951h-5.45zM342.97 203.17h5.45v1.951h-5.45zM363.59 204.82h5.45v1.951h-5.45zM327.50 206.47h5.45v1.951h-5.45zM332.66 206.47h5.45v1.951h-5.45zM363.59 206.47h5.45v1.951h-5.45zM368.75 206.47h5.15v1.951h-5.15zM275.95 208.12h5.45v1.951h-5.45zM327.50 208.12h5.45v1.951h-5.45zM342.97 208.12h5.45v1.951h-5.45zM327.50 211.42h5.45v1.951h-5.45zM368.75 211.42h5.15v1.951h-5.15zM286.26 214.72h5.45v1.951h-5.45zM337.81 214.72h5.45v1.951h-5.45zM363.59 214.72h5.45v1.951h-5.45zM322.35 216.38h5.45v1.951h-5.45zM368.75 216.38h5.15v1.951h-5.15zM291.42 218.03h5.45v1.951h-5.45zM342.97 218.03h5.45v1.951h-5.45zM348.12 218.03h5.45v1.951h-5.45zM353.28 218.03h5.45v1.951h-5.45zM322.35 219.68h5.45v1.951h-5.45zM342.97 219.68h5.45v1.951h-5.45zM363.59 219.68h5.45v1.951h-5.45zM368.75 219.68h5.15v1.951h-5.15zM296.57 221.33h5.45v1.951h-5.45zM327.50 221.33h5.45v1.951h-5.45zM337.81 221.33h5.45v1.951h-5.45zM348.12 221.33h5.45v1.951h-5.45zM368.75 221.33h5.15v1.951h-5.15zM296.57 222.98h5.45v1.951h-5.45zM301.73 222.98h5.45v1.951h-5.45zM322.35 222.98h5.45v1.951h-5.45zM358.44 222.98h5.45v1.951h-5.45zM363.59 222.98h5.45v1.951h-5.45zM368.75 222.98h5.15v1.951h-5.15zM332.66 224.63h5.45v1.951h-5.45zM337.81 224.63h5.45v1.951h-5.45zM353.28 224.63h5.45v1.951h-5.45zM291.42 226.28h5.45v1.951h-5.45zM337.81 226.28h5.45v1.951h-5.45zM348.12 226.28h5.45v1.951h-5.45zM363.59 226.28h5.45v1.951h-5.45zM337.81 227.93h5.45v1.951h-5.45zM363.59 229.59h5.45v1.951h-5.45zM281.11 231.24h5.45v1.951h-5.45zM363.59 231.24h5.45v1.951h-5.45zM270.80 232.89h5.45v1.951h-5.45zM286.26 234.54h5.45v1.951h-5.45zM353.28 234.54h5.45v1.951h-5.45zM363.59 234.54h5.45v1.951h-5.45zM332.66 237.84h5.45v1.951h-5.45zM337.81 239.49h5.45v1.951h-5.45zM342.97 241.15h5.45v1.951h-5.45zM275.95 242.80h5.45v1.951h-5.45zM296.57 242.80h5.45v1.951h-5.45zM332.66 242.80h5.45v1.951h-5.45zM281.11 244.45h5.45v1.951h-5.45zM286.26 246.10h5.45v1.951h-5.45zM291.42 246.10h5.45v1.951h-5.45zM306.88 246.10h5.45v1.951h-5.45zM332.66 246.10h5.45v1.951h-5.45zM296.57 247.75h5.45v1.951h-5.45zM301.73 249.40h5.45v1.951h-5.45zM270.80 251.05h5.45v1.951h-5.45zM291.42 251.05h5.45v1.951h-5.45zM296.57 252.70h5.45v1.951h-5.45zM281.11 259.31h5.45v1.951h-5.45zM291.42 259.31h5.45v1.951h-5.45zM281.11 260.96h5.45v1.951h-5.45zM275.95 262.61h5.45v1.951h-5.45zM291.42 262.61h5.45v1.951h-5.45zM296.57 262.61h5.45v1.951h-5.45zM291.42 264.26h5.45v1.951h-5.45zM275.95 267.57h5.45v1.951h-5.45zM281.11 267.57h5.45v1.951h-5.45zM353.28 267.57h5.45v1.951h-5.45zM270.80 269.22h5.45v1.951h-5.45zM337.81 269.22h5.45v1.951h-5.45zM286.26 272.52h5.45v1.951h-5.45zM296.57 272.52h5.45v1.951h-5.45zM306.88 272.52h5.45v1.951h-5.45zM327.50 272.52h5.45v1.951h-5.45zM358.44 272.52h5.45v1.951h-5.45zM296.57 275.82h5.45v1.951h-5.45zM301.73 275.82h5.45v1.951h-5.45zM306.88 275.82h5.45v1.951h-5.45zM327.50 275.82h5.45v1.951h-5.45zM301.73 277.47h5.45v1.951h-5.45zM270.80 279.12h5.45v1.951h-5.45zM327.50 279.12h5.45v1.951h-5.45zM281.11 280.78h5.45v1.951h-5.45zM301.73 282.43h5.45v1.951h-5.45zM327.50 282.43h5.45v1.951h-5.45zM270.80 284.08h5.45v1.951h-5.45zM286.26 284.08h5.45v1.951h-5.45zM281.11 285.73h5.45v1.951h-5.45zM301.73 285.73h5.45v1.951h-5.45zM348.12 285.73h5.45v1.951h-5.45zM296.57 287.38h5.45v1.951h-5.45zM327.50 287.38h5.45v1.951h-5.45zM301.73 289.03h5.45v1.951h-5.45zM291.42 290.68h5.45v1.951h-5.45zM270.80 292.34h5.45v1.951h-5.45zM322.35 297.29h5.45v1.951h-5.45zM327.50 297.29h5.45v1.951h-5.45zM348.12 297.29h5.45v1.951h-5.45zM358.44 297.29h5.45v1.951h-5.45zM281.11 302.24h5.45v1.951h-5.45zM322.35 302.24h5.45v1.951h-5.45zM306.88 303.89h5.45v1.951h-5.45zM291.42 305.55h5.45v1.951h-5.45zM322.35 305.55h5.45v1.951h-5.45zM332.66 305.55h5.45v1.951h-5.45zM306.88 307.20h5.45v1.951h-5.45zM327.50 307.20h5.45v1.951h-5.45zM348.12 308.85h5.45v1.951h-5.45zM291.42 310.50h5.45v1.951h-5.45zM332.66 310.50h5.45v1.951h-5.45zM353.28 310.50h5.45v1.951h-5.45zM306.88 312.15h5.45v1.951h-5.45zM270.80 313.80h5.45v1.951h-5.45zM296.57 313.80h5.45v1.951h-5.45zM275.95 315.45h5.45v1.951h-5.45zM286.26 315.45h5.45v1.951h-5.45zM281.11 318.76h5.45v1.951h-5.45zM286.26 320.41h5.45v1.951h-5.45zM270.80 323.71h5.45v1.951h-5.45zM275.95 328.66h5.45v1.951h-5.45zM270.80 330.32h5.45v1.951h-5.45zM281.11 330.32h5.45v1.951h-5.45zM301.73 330.32h5.45v1.951h-5.45zM306.88 330.32h5.45v1.951h-5.45zM291.42 331.97h5.45v1.951h-5.45zM291.42 333.62h5.45v1.951h-5.45zM296.57 333.62h5.45v1.951h-5.45zM281.11 338.57h5.45v1.951h-5.45zM291.42 338.57h5.45v1.951h-5.45zM296.57 338.57h5.45v1.951h-5.45zM281.11 340.22h5.45v1.951h-5.45zM337.81 340.22h5.45v1.951h-5.45zM275.95 345.18h5.45v1.951h-5.45zM281.11 345.18h5.45v1.951h-5.45zM275.95 346.83h5.45v1.951h-5.45zM281.11 346.83h5.45v1.951h-5.45zM275.95 348.48h5.45v1.951h-5.45zM296.57 348.48h5.45v1.951h-5.45zM306.88 348.48h5.45v1.951h-5.45zM327.50 348.48h5.45v1.951h-5.45zM332.66 348.48h5.45v1.951h-5.45zM353.28 348.48h5.45v1.951h-5.45zM275.95 350.13h5.45v1.951h-5.45zM281.11 350.13h5.45v1.951h-5.45zM281.11 351.78h5.45v1.951h-5.45zM296.57 351.78h5.45v1.951h-5.45zM327.50 351.78h5.45v1.951h-5.45zM332.66 351.78h5.45v1.951h-5.45zM358.44 351.78h5.45v1.951h-5.45zM327.50 353.43h5.45v1.951h-5.45zM332.66 353.43h5.45v1.951h-5.45zM291.42 355.08h5.45v1.951h-5.45zM301.73 355.08h5.45v1.951h-5.45zM353.28 355.08h5.45v1.951h-5.45zM296.57 356.74h5.45v1.951h-5.45zM296.57 358.39h5.45v1.951h-5.45zM306.88 358.39h5.45v1.951h-5.45zM291.42 361.69h5.45v1.951h-5.45zM291.42 363.34h5.45v1.951h-5.45zM296.57 364.99h5.45v1.951h-5.45zM291.42 368.29h5.45v1.951h-5.45zM281.11 369.95h5.45v1.951h-5.45zM275.95 371.60h5.45v1.951h-5.45z"/>
<path fill="#f8abad" d="M312.04 57.85h5.45v1.951h-5.45zM348.12 59.50h5.45v1.951h-5.45zM281.11 62.81h5.45v1.951h-5.45zM275.95 64.46h5.45v1.951h-5.45zM353.28 64.46h5.45v1.951h-5.45zM353.28 66.11h5.45v1.951h-5.45zM358.44 69.41h5.45v1.951h-5.45zM342.97 71.06h5.45v1.951h-5.45zM312.04 72.71h5.45v1.951h-5.45zM358.44 77.67h5.45v1.951h-5.45zM322.35 80.97h5.45v1.951h-5.45zM322.35 84.27h5.45v1.951h-5.45zM291.42 87.57h5.45v1.951h-5.45zM358.44 90.88h5.45v1.951h-5.45zM332.66 94.18h5.45v1.951h-5.45zM342.97 95.83h5.45v1.951h-5.45zM358.44 95.83h5.45v1.951h-5.45zM286.26 100.78h5.45v1.951h-5.45zM348.12 105.74h5.45v1.951h-5.45zM291.42 107.39h5.45v1.951h-5.45zM353.28 107.39h5.45v1.951h-5.45zM348.12 109.04h5.45v1.951h-5.45zM353.28 110.69h5.45v1.951h-5.45zM281.11 118.95h5.45v1.951h-5.45zM327.50 125.55h5.45v1.951h-5.45zM322.35 130.51h5.45v1.951h-5.45zM270.80 133.81h5.45v1.951h-5.45zM281.11 133.81h5.45v1.951h-5.45zM327.50 147.02h5.45v1.951h-5.45zM337.81 148.67h5.45v1.951h-5.45zM281.11 156.93h5.45v1.951h-5.45zM358.44 160.23h5.45v1.951h-5.45zM342.97 163.53h5.45v1.951h-5.45zM358.44 165.19h5.45v1.951h-5.45zM301.73 166.84h5.45v1.951h-5.45zM317.19 170.14h5.45v1.951h-5.45zM353.28 171.79h5.45v1.951h-5.45zM358.44 171.79h5.45v1.951h-5.45zM348.12 173.44h5.45v1.951h-5.45zM281.11 175.09h5.45v1.951h-5.45zM281.11 180.05h5.45v1.951h-5.45zM270.80 181.70h5.45v1.951h-5.45zM286.26 185.00h5.45v1.951h-5.45zM348.12 185.00h5.45v1.951h-5.45zM348.12 186.65h5.45v1.951h-5.45zM327.50 199.86h5.45v1.951h-5.45zM342.97 199.86h5.45v1.951h-5.45zM275.95 201.51h5.45v1.951h-5.45zM358.44 209.77h5.45v1.951h-5.45zM286.26 211.42h5.45v1.951h-5.45zM306.88 216.38h5.45v1.951h-5.45zM322.35 226.28h5.45v1.951h-5.45zM348.12 227.93h5.45v1.951h-5.45zM270.80 234.54h5.45v1.951h-5.45zM286.26 237.84h5.45v1.951h-5.45zM296.57 237.84h5.45v1.951h-5.45zM275.95 244.45h5.45v1.951h-5.45zM337.81 246.10h5.45v1.951h-5.45zM301.73 251.05h5.45v1.951h-5.45zM281.11 252.70h5.45v1.951h-5.45zM327.50 256.01h5.45v1.951h-5.45zM296.57 259.31h5.45v1.951h-5.45zM353.28 260.96h5.45v1.951h-5.45zM327.50 262.61h5.45v1.951h-5.45zM296.57 264.26h5.45v1.951h-5.45zM306.88 267.57h5.45v1.951h-5.45zM353.28 270.87h5.45v1.951h-5.45zM291.42 280.78h5.45v1.951h-5.45zM281.11 284.08h5.45v1.951h-5.45zM348.12 290.68h5.45v1.951h-5.45zM291.42 302.24h5.45v1.951h-5.45zM275.95 307.20h5.45v1.951h-5.45zM291.42 307.20h5.45v1.951h-5.45zM270.80 312.15h5.45v1.951h-5.45zM286.26 317.10h5.45v1.951h-5.45zM342.97 318.76h5.45v1.951h-5.45zM327.50 320.41h5.45v1.951h-5.45zM332.66 320.41h5.45v1.951h-5.45zM348.12 320.41h5.45v1.951h-5.45zM281.11 322.06h5.45v1.951h-5.45zM270.80 325.36h5.45v1.951h-5.45zM327.50 333.62h5.45v1.951h-5.45zM342.97 336.92h5.45v1.951h-5.45zM358.44 338.57h5.45v1.951h-5.45zM348.12 341.87h5.45v1.951h-5.45zM337.81 345.18h5.45v1.951h-5.45zM306.88 350.13h5.45v1.951h-5.45zM348.12 355.08h5.45v1.951h-5.45zM275.95 360.04h5.45v1.951h-5.45zM301.73 361.69h5.45v1.951h-5.45zM281.11 364.99h5.45v1.951h-5.45zM296.57 366.64h5.45v1.951h-5.45zM332.66 366.64h5.45v1.951h-5.45zM353.28 371.60h5.45v1.951h-5.45zM275.95 373.25h5.45v1.651h-5.45z"/>
<path fill="#485cae" d="M275.95 59.50h5.45v1.951h-5.45zM275.95 61.15h5.45v1.951h-5.45zM301.73 61.15h5.45v1.951h-5.45zM286.26 62.81h5.45v1.951h-5.45zM322.35 64.46h5.45v1.951h-5.45zM337.81 64.46h5.45v1.951h-5.45zM291.42 66.11h5.45v1.951h-5.45zM301.73 71.06h5.45v1.951h-5.45zM270.80 72.71h5.45v1.951h-5.45zM286.26 72.71h5.45v1.951h-5.45zM322.35 72.71h5.45v1.951h-5.45zM358.44 74.36h5.45v1.951h-5.45zM270.80 76.02h5.45v1.951h-5.45zM286.26 77.67h5.45v1.951h-5.45zM301.73 77.67h5.45v1.951h-5.45zM275.95 79.32h5.45v1.951h-5.45zM296.57 79.32h5.45v1.951h-5.45zM301.73 79.32h5.45v1.951h-5.45zM281.11 82.62h5.45v1.951h-5.45zM286.26 82.62h5.45v1.951h-5.45zM301.73 84.27h5.45v1.951h-5.45zM353.28 84.27h5.45v1.951h-5.45zM281.11 85.92h5.45v1.951h-5.45zM286.26 85.92h5.45v1.951h-5.45zM296.57 85.92h5.45v1.951h-5.45zM322.35 85.92h5.45v1.951h-5.45zM296.57 87.57h5.45v1.951h-5.45zM322.35 87.57h5.45v1.951h-5.45zM275.95 92.53h5.45v1.951h-5.45zM291.42 92.53h5.45v1.951h-5.45zM281.11 94.18h5.45v1.951h-5.45zM275.95 95.83h5.45v1.951h-5.45zM301.73 95.83h5.45v1.951h-5.45zM281.11 97.48h5.45v1.951h-5.45zM296.57 99.13h5.45v1.951h-5.45zM281.11 102.44h5.45v1.951h-5.45zM306.88 102.44h5.45v1.951h-5.45zM337.81 102.44h5.45v1.951h-5.45zM348.12 104.09h5.45v1.951h-5.45zM281.11 105.74h5.45v1.951h-5.45zM306.88 105.74h5.45v1.951h-5.45zM296.57 107.39h5.45v1.951h-5.45zM270.80 109.04h5.45v1.951h-5.45zM281.11 109.04h5.45v1.951h-5.45zM337.81 110.69h5.45v1.951h-5.45zM291.42 112.34h5.45v1.951h-5.45zM296.57 117.30h5.45v1.951h-5.45zM296.57 118.95h5.45v1.951h-5.45zM301.73 118.95h5.45v1.951h-5.45zM301.73 120.60h5.45v1.951h-5.45zM327.50 120.60h5.45v1.951h-5.45zM270.80 123.90h5.45v1.951h-5.45zM301.73 127.21h5.45v1.951h-5.45zM358.44 130.51h5.45v1.951h-5.45zM275.95 137.11h5.45v1.951h-5.45zM306.88 137.11h5.45v1.951h-5.45zM281.11 142.07h5.45v1.951h-5.45zM358.44 142.07h5.45v1.951h-5.45zM296.57 145.37h5.45v1.951h-5.45zM301.73 147.02h5.45v1.951h-5.45zM301.73 148.67h5.45v1.951h-5.45zM306.88 153.63h5.45v1.951h-5.45zM322.35 153.63h5.45v1.951h-5.45zM337.81 153.63h5.45v1.951h-5.45zM353.28 153.63h5.45v1.951h-5.45zM301.73 155.28h5.45v1.951h-5.45zM291.42 156.93h5.45v1.951h-5.45zM301.73 156.93h5.45v1.951h-5.45zM322.35 156.93h5.45v1.951h-5.45zM281.11 158.58h5.45v1.951h-5.45zM296.57 158.58h5.45v1.951h-5.45zM301.73 158.58h5.45v1.951h-5.45zM306.88 158.58h5.45v1.951h-5.45zM296.57 160.23h5.45v1.951h-5.45zM322.35 160.23h5.45v1.951h-5.45zM291.42 161.88h5.45v1.951h-5.45zM296.57 161.88h5.45v1.951h-5.45zM286.26 163.53h5.45v1.951h-5.45zM281.11 165.19h5.45v1.951h-5.45zM301.73 165.19h5.45v1.951h-5.45zM322.35 165.19h5.45v1.951h-5.45zM275.95 166.84h5.45v1.951h-5.45zM286.26 166.84h5.45v1.951h-5.45zM291.42 168.49h5.45v1.951h-5.45zM327.50 168.49h5.45v1.951h-5.45zM296.57 170.14h5.45v1.951h-5.45zM306.88 170.14h5.45v1.951h-5.45zM275.95 171.79h5.45v1.951h-5.45zM286.26 171.79h5.45v1.951h-5.45zM291.42 171.79h5.45v1.951h-5.45zM296.57 171.79h5.45v1.951h-5.45zM306.88 171.79h5.45v1.951h-5.45zM322.35 171.79h5.45v1.951h-5.45zM275.95 173.44h5.45v1.951h-5.45zM301.73 176.74h5.45v1.951h-5.45zM281.11 178.40h5.45v1.951h-5.45zM296.57 180.05h5.45v1.951h-5.45zM301.73 181.70h5.45v1.951h-5.45zM281.11 185.00h5.45v1.951h-5.45zM296.57 185.00h5.45v1.951h-5.45zM275.95 186.65h5.45v1.951h-5.45zM332.66 186.65h5.45v1.951h-5.45zM358.44 186.65h5.45v1.951h-5.45zM306.88 188.30h5.45v1.951h-5.45zM281.11 189.95h5.45v1.951h-5.45zM291.42 189.95h5.45v1.951h-5.45zM296.57 191.61h5.45v1.951h-5.45zM275.95 193.26h5.45v1.951h-5.45zM275.95 194.91h5.45v1.951h-5.45zM270.80 196.56h5.45v1.951h-5.45zM322.35 196.56h5.45v1.951h-5.45zM337.81 196.56h5.45v1.951h-5.45zM322.35 198.21h5.45v1.951h-5.45zM322.35 199.86h5.45v1.951h-5.45zM353.28 199.86h5.45v1.951h-5.45zM358.44 199.86h5.45v1.951h-5.45zM348.12 201.51h5.45v1.951h-5.45zM358.44 203.17h5.45v1.951h-5.45zM296.57 204.82h5.45v1.951h-5.45zM306.88 204.82h5.45v1.951h-5.45zM270.80 206.47h5.45v1.951h-5.45zM281.11 206.47h5.45v1.951h-5.45zM296.57 206.47h5.45v1.951h-5.45zM322.35 206.47h5.45v1.951h-5.45zM358.44 206.47h5.45v1.951h-5.45zM270.80 208.12h5.45v1.951h-5.45zM291.42 208.12h5.45v1.951h-5.45zM291.42 209.77h5.45v1.951h-5.45zM296.57 209.77h5.45v1.951h-5.45zM296.57 213.07h5.45v1.951h-5.45zM301.73 213.07h5.45v1.951h-5.45zM348.12 213.07h5.45v1.951h-5.45zM322.35 214.72h5.45v1.951h-5.45zM306.88 224.63h5.45v1.951h-5.45zM281.11 226.28h5.45v1.951h-5.45zM322.35 234.54h5.45v1.951h-5.45zM275.95 236.19h5.45v1.951h-5.45zM296.57 236.19h5.45v1.951h-5.45zM358.44 236.19h5.45v1.951h-5.45zM275.95 237.84h5.45v1.951h-5.45zM281.11 239.49h5.45v1.951h-5.45zM275.95 241.15h5.45v1.951h-5.45zM281.11 241.15h5.45v1.951h-5.45zM358.44 241.15h5.45v1.951h-5.45zM353.28 244.45h5.45v1.951h-5.45zM281.11 246.10h5.45v1.951h-5.45zM342.97 246.10h5.45v1.951h-5.45zM270.80 247.75h5.45v1.951h-5.45zM342.97 247.75h5.45v1.951h-5.45zM363.59 247.75h5.45v1.951h-5.45zM327.50 249.40h5.45v1.951h-5.45zM363.59 249.40h5.45v1.951h-5.45zM275.95 251.05h5.45v1.951h-5.45zM342.97 252.70h5.45v1.951h-5.45zM353.28 252.70h5.45v1.951h-5.45zM368.75 254.36h5.15v1.951h-5.15zM358.44 256.01h5.45v1.951h-5.45zM306.88 257.66h5.45v1.951h-5.45zM342.97 257.66h5.45v1.951h-5.45zM332.66 259.31h5.45v1.951h-5.45zM342.97 259.31h5.45v1.951h-5.45zM363.59 260.96h5.45v1.951h-5.45zM363.59 262.61h5.45v1.951h-5.45zM368.75 262.61h5.15v1.951h-5.15zM342.97 264.26h5.45v1.951h-5.45zM363.59 264.26h5.45v1.951h-5.45zM368.75 264.26h5.15v1.951h-5.15zM286.26 265.91h5.45v1.951h-5.45zM332.66 265.91h5.45v1.951h-5.45zM286.26 267.57h5.45v1.951h-5.45zM322.35 267.57h5.45v1.951h-5.45zM342.97 267.57h5.45v1.951h-5.45zM368.75 267.57h5.15v1.951h-5.15zM358.44 270.87h5.45v1.951h-5.45zM363.59 270.87h5.45v1.951h-5.45zM301.73 272.52h5.45v1.951h-5.45zM342.97 272.52h5.45v1.951h-5.45zM353.28 272.52h5.45v1.951h-5.45zM363.59 272.52h5.45v1.951h-5.45zM368.75 272.52h5.15v1.951h-5.15zM363.59 274.17h5.45v1.951h-5.45zM368.75 274.17h5.15v1.951h-5.15zM348.12 275.82h5.45v1.951h-5.45zM363.59 275.82h5.45v1.951h-5.45zM363.59 277.47h5.45v1.951h-5.45zM337.81 279.12h5.45v1.951h-5.45zM363.59 282.43h5.45v1.951h-5.45zM368.75 282.43h5.15v1.951h-5.15zM275.95 284.08h5.45v1.951h-5.45zM342.97 284.08h5.45v1.951h-5.45zM322.35 285.73h5.45v1.951h-5.45zM353.28 285.73h5.45v1.951h-5.45zM306.88 287.38h5.45v1.951h-5.45zM322.35 287.38h5.45v1.951h-5.45zM348.12 287.38h5.45v1.951h-5.45zM270.80 289.03h5.45v1.951h-5.45zM337.81 289.03h5.45v1.951h-5.45zM368.75 289.03h5.15v1.951h-5.15zM275.95 290.68h5.45v1.951h-5.45zM342.97 290.68h5.45v1.951h-5.45zM353.28 290.68h5.45v1.951h-5.45zM358.44 290.68h5.45v1.951h-5.45zM368.75 290.68h5.15v1.951h-5.15zM337.81 292.34h5.45v1.951h-5.45zM342.97 292.34h5.45v1.951h-5.45zM363.59 292.34h5.45v1.951h-5.45zM275.95 293.99h5.45v1.951h-5.45zM286.26 293.99h5.45v1.951h-5.45zM322.35 293.99h5.45v1.951h-5.45zM322.35 298.94h5.45v1.951h-5.45zM332.66 298.94h5.45v1.951h-5.45zM348.12 298.94h5.45v1.951h-5.45zM363.59 298.94h5.45v1.951h-5.45zM368.75 298.94h5.15v1.951h-5.15zM337.81 300.59h5.45v1.951h-5.45zM368.75 300.59h5.15v1.951h-5.15zM270.80 302.24h5.45v1.951h-5.45zM296.57 302.24h5.45v1.951h-5.45zM368.75 302.24h5.15v1.951h-5.15zM301.73 303.89h5.45v1.951h-5.45zM342.97 303.89h5.45v1.951h-5.45zM348.12 305.55h5.45v1.951h-5.45zM353.28 305.55h5.45v1.951h-5.45zM368.75 308.85h5.15v1.951h-5.15zM342.97 310.50h5.45v1.951h-5.45zM363.59 310.50h5.45v1.951h-5.45zM301.73 312.15h5.45v1.951h-5.45zM332.66 312.15h5.45v1.951h-5.45zM337.81 312.15h5.45v1.951h-5.45zM358.44 312.15h5.45v1.951h-5.45zM342.97 313.80h5.45v1.951h-5.45zM368.75 313.80h5.15v1.951h-5.15zM358.44 317.10h5.45v1.951h-5.45zM368.75 317.10h5.15v1.951h-5.15zM291.42 318.76h5.45v1.951h-5.45zM348.12 318.76h5.45v1.951h-5.45zM342.97 320.41h5.45v1.951h-5.45zM368.75 320.41h5.15v1.951h-5.15zM322.35 325.36h5.45v1.951h-5.45zM358.44 325.36h5.45v1.951h-5.45zM363.59 325.36h5.45v1.951h-5.45zM368.75 325.36h5.15v1.951h-5.15zM301.73 327.01h5.45v1.951h-5.45zM322.35 327.01h5.45v1.951h-5.45zM358.44 327.01h5.45v1.951h-5.45zM322.35 328.66h5.45v1.951h-5.45zM363.59 328.66h5.45v1.951h-5.45zM368.75 328.66h5.15v1.951h-5.15zM368.75 330.32h5.15v1.951h-5.15zM348.12 331.97h5.45v1.951h-5.45zM353.28 331.97h5.45v1.951h-5.45zM363.59 331.97h5.45v1.951h-5.45zM301.73 333.62h5.45v1.951h-5.45zM337.81 333.62h5.45v1.951h-5.45zM363.59 333.62h5.45v1.951h-5.45zM322.35 335.27h5.45v1.951h-5.45zM342.97 335.27h5.45v1.951h-5.45zM358.44 335.27h5.45v1.951h-5.45zM363.59 335.27h5.45v1.951h-5.45zM368.75 335.27h5.15v1.951h-5.15zM322.35 336.92h5.45v1.951h-5.45zM368.75 336.92h5.15v1.951h-5.15zM348.12 340.22h5.45v1.951h-5.45zM286.26 341.87h5.45v1.951h-5.45zM306.88 343.53h5.45v1.951h-5.45zM322.35 343.53h5.45v1.951h-5.45zM348.12 343.53h5.45v1.951h-5.45zM368.75 343.53h5.15v1.951h-5.15zM342.97 345.18h5.45v1.951h-5.45zM291.42 346.83h5.45v1.951h-5.45zM363.59 350.13h5.45v1.951h-5.45zM368.75 350.13h5.15v1.951h-5.15zM322.35 351.78h5.45v1.951h-5.45zM363.59 351.78h5.45v1.951h-5.45zM368.75 351.78h5.15v1.951h-5.15zM342.97 353.43h5.45v1.951h-5.45zM353.28 353.43h5.45v1.951h-5.45zM368.75 355.08h5.15v1.951h-5.15zM270.80 356.74h5.45v1.951h-5.45zM363.59 356.74h5.45v1.951h-5.45zM368.75 356.74h5.15v1.951h-5.15zM270.80 358.39h5.45v1.951h-5.45zM358.44 358.39h5.45v1.951h-5.45zM368.75 358.39h5.15v1.951h-5.15zM332.66 360.04h5.45v1.951h-5.45zM337.81 361.69h5.45v1.951h-5.45zM348.12 361.69h5.45v1.951h-5.45zM306.88 363.34h5.45v1.951h-5.45zM358.44 363.34h5.45v1.951h-5.45zM363.59 364.99h5.45v1.951h-5.45zM327.50 366.64h5.45v1.951h-5.45zM337.81 366.64h5.45v1.951h-5.45zM363.59 366.64h5.45v1.951h-5.45zM368.75 366.64h5.15v1.951h-5.15zM306.88 368.29h5.45v1.951h-5.45zM322.35 368.29h5.45v1.951h-5.45zM363.59 371.60h5.45v1.951h-5.45zM322.35 373.25h5.45v1.651h-5.45zM348.12 373.25h5.45v1.651h-5.45zM358.44 373.25h5.45v1.651h-5.45zM368.75 373.25h5.15v1.651h-5.15z"/>
<path fill="#6274b9" d="M286.26 59.50h5.45v1.951h-5.45zM281.11 61.15h5.45v1.951h-5.45zM286.26 69.41h5.45v1.951h-5.45zM296.57 71.06h5.45v1.951h-5.45zM337.81 71.06h5.45v1.951h-5.45zM306.88 74.36h5.45v1.951h-5.45zM337.81 74.36h5.45v1.951h-5.45zM281.11 77.67h5.45v1.951h-5.45zM291.42 77.67h5.45v1.951h-5.45zM286.26 79.32h5.45v1.951h-5.45zM327.50 79.32h5.45v1.951h-5.45zM327.50 80.97h5.45v1.951h-5.45zM353.28 80.97h5.45v1.951h-5.45zM270.80 82.62h5.45v1.951h-5.45zM281.11 92.53h5.45v1.951h-5.45zM296.57 94.18h5.45v1.951h-5.45zM332.66 97.48h5.45v1.951h-5.45zM301.73 99.13h5.45v1.951h-5.45zM306.88 99.13h5.45v1.951h-5.45zM306.88 100.78h5.45v1.951h-5.45zM322.35 100.78h5.45v1.951h-5.45zM296.57 102.44h5.45v1.951h-5.45zM296.57 104.09h5.45v1.951h-5.45zM306.88 104.09h5.45v1.951h-5.45zM322.35 105.74h5.45v1.951h-5.45zM270.80 107.39h5.45v1.951h-5.45zM296.57 109.04h5.45v1.951h-5.45zM327.50 110.69h5.45v1.951h-5.45zM332.66 110.69h5.45v1.951h-5.45zM270.80 112.34h5.45v1.951h-5.45zM281.11 114.00h5.45v1.951h-5.45zM291.42 117.30h5.45v1.951h-5.45zM306.88 117.30h5.45v1.951h-5.45zM291.42 118.95h5.45v1.951h-5.45zM306.88 118.95h5.45v1.951h-5.45zM296.57 120.60h5.45v1.951h-5.45zM291.42 122.25h5.45v1.951h-5.45zM296.57 125.55h5.45v1.951h-5.45zM281.11 127.21h5.45v1.951h-5.45zM296.57 128.86h5.45v1.951h-5.45zM291.42 130.51h5.45v1.951h-5.45zM306.88 130.51h5.45v1.951h-5.45zM327.50 135.46h5.45v1.951h-5.45zM296.57 138.76h5.45v1.951h-5.45zM275.95 140.42h5.45v1.951h-5.45zM291.42 140.42h5.45v1.951h-5.45zM342.97 140.42h5.45v1.951h-5.45zM301.73 143.72h5.45v1.951h-5.45zM296.57 147.02h5.45v1.951h-5.45zM306.88 148.67h5.45v1.951h-5.45zM332.66 148.67h5.45v1.951h-5.45zM327.50 150.32h5.45v1.951h-5.45zM270.80 151.98h5.45v1.951h-5.45zM291.42 151.98h5.45v1.951h-5.45zM296.57 155.28h5.45v1.951h-5.45zM337.81 155.28h5.45v1.951h-5.45zM353.28 155.28h5.45v1.951h-5.45zM301.73 161.88h5.45v1.951h-5.45zM296.57 163.53h5.45v1.951h-5.45zM296.57 165.19h5.45v1.951h-5.45zM306.88 165.19h5.45v1.951h-5.45zM353.28 166.84h5.45v1.951h-5.45zM275.95 168.49h5.45v1.951h-5.45zM291.42 170.14h5.45v1.951h-5.45zM291.42 173.44h5.45v1.951h-5.45zM296.57 173.44h5.45v1.951h-5.45zM296.57 175.09h5.45v1.951h-5.45zM306.88 175.09h5.45v1.951h-5.45zM291.42 176.74h5.45v1.951h-5.45zM301.73 178.40h5.45v1.951h-5.45zM301.73 180.05h5.45v1.951h-5.45zM322.35 180.05h5.45v1.951h-5.45zM281.11 181.70h5.45v1.951h-5.45zM306.88 181.70h5.45v1.951h-5.45zM322.35 181.70h5.45v1.951h-5.45zM337.81 181.70h5.45v1.951h-5.45zM306.88 183.35h5.45v1.951h-5.45zM270.80 185.00h5.45v1.951h-5.45zM291.42 185.00h5.45v1.951h-5.45zM270.80 186.65h5.45v1.951h-5.45zM296.57 186.65h5.45v1.951h-5.45zM275.95 188.30h5.45v1.951h-5.45zM275.95 189.95h5.45v1.951h-5.45zM322.35 189.95h5.45v1.951h-5.45zM275.95 191.61h5.45v1.951h-5.45zM337.81 193.26h5.45v1.951h-5.45zM296.57 194.91h5.45v1.951h-5.45zM327.50 196.56h5.45v1.951h-5.45zM337.81 198.21h5.45v1.951h-5.45zM270.80 201.51h5.45v1.951h-5.45zM291.42 201.51h5.45v1.951h-5.45zM301.73 203.17h5.45v1.951h-5.45zM317.19 211.42h5.45v1.951h-5.45zM353.28 213.07h5.45v1.951h-5.45zM306.88 214.72h5.45v1.951h-5.45zM332.66 216.38h5.45v1.951h-5.45zM275.95 221.33h5.45v1.951h-5.45zM286.26 221.33h5.45v1.951h-5.45zM291.42 222.98h5.45v1.951h-5.45zM358.44 231.24h5.45v1.951h-5.45zM317.19 237.84h5.45v1.951h-5.45zM353.28 237.84h5.45v1.951h-5.45zM322.35 242.80h5.45v1.951h-5.45zM322.35 244.45h5.45v1.951h-5.45zM348.12 244.45h5.45v1.951h-5.45zM306.88 247.75h5.45v1.951h-5.45zM270.80 249.40h5.45v1.951h-5.45zM353.28 249.40h5.45v1.951h-5.45zM348.12 251.05h5.45v1.951h-5.45zM358.44 252.70h5.45v1.951h-5.45zM348.12 254.36h5.45v1.951h-5.45zM337.81 256.01h5.45v1.951h-5.45zM363.59 256.01h5.45v1.951h-5.45zM368.75 256.01h5.15v1.951h-5.15zM322.35 259.31h5.45v1.951h-5.45zM337.81 264.26h5.45v1.951h-5.45zM363.59 265.91h5.45v1.951h-5.45zM368.75 265.91h5.15v1.951h-5.15zM332.66 269.22h5.45v1.951h-5.45zM358.44 269.22h5.45v1.951h-5.45zM342.97 274.17h5.45v1.951h-5.45zM322.35 275.82h5.45v1.951h-5.45zM322.35 280.78h5.45v1.951h-5.45zM353.28 280.78h5.45v1.951h-5.45zM322.35 282.43h5.45v1.951h-5.45zM353.28 282.43h5.45v1.951h-5.45zM270.80 293.99h5.45v1.951h-5.45zM327.50 293.99h5.45v1.951h-5.45zM296.57 297.29h5.45v1.951h-5.45zM342.97 297.29h5.45v1.951h-5.45zM353.28 297.29h5.45v1.951h-5.45zM286.26 300.59h5.45v1.951h-5.45zM291.42 300.59h5.45v1.951h-5.45zM296.57 303.89h5.45v1.951h-5.45zM322.35 310.50h5.45v1.951h-5.45zM296.57 317.10h5.45v1.951h-5.45zM270.80 318.76h5.45v1.951h-5.45zM337.81 320.41h5.45v1.951h-5.45zM322.35 322.06h5.45v1.951h-5.45zM327.50 322.06h5.45v1.951h-5.45zM358.44 322.06h5.45v1.951h-5.45zM306.88 325.36h5.45v1.951h-5.45zM332.66 325.36h5.45v1.951h-5.45zM348.12 325.36h5.45v1.951h-5.45zM337.81 327.01h5.45v1.951h-5.45zM342.97 330.32h5.45v1.951h-5.45zM332.66 331.97h5.45v1.951h-5.45zM342.97 333.62h5.45v1.951h-5.45zM348.12 333.62h5.45v1.951h-5.45zM301.73 336.92h5.45v1.951h-5.45zM332.66 343.53h5.45v1.951h-5.45zM270.80 345.18h5.45v1.951h-5.45zM332.66 345.18h5.45v1.951h-5.45zM353.28 351.78h5.45v1.951h-5.45zM306.88 353.43h5.45v1.951h-5.45zM363.59 355.08h5.45v1.951h-5.45zM348.12 358.39h5.45v1.951h-5.45zM348.12 360.04h5.45v1.951h-5.45zM353.28 361.69h5.45v1.951h-5.45zM286.26 363.34h5.45v1.951h-5.45zM332.66 369.95h5.45v1.951h-5.45zM358.44 369.95h5.45v1.951h-5.45zM332.66 371.60h5.45v1.951h-5.45z"/>
<path fill="#b1b9dc" d="M332.66 59.50h5.45v1.951h-5.45zM291.42 61.15h5.45v1.951h-5.45zM301.73 64.46h5.45v1.951h-5.45zM306.88 64.46h5.45v1.951h-5.45zM286.26 66.11h5.45v1.951h-5.45zM337.81 67.76h5.45v1.951h-5.45zM291.42 74.36h5.45v1.951h-5.45zM337.81 76.02h5.45v1.951h-5.45zM275.95 77.67h5.45v1.951h-5.45zM306.88 79.32h5.45v1.951h-5.45zM291.42 85.92h5.45v1.951h-5.45zM301.73 87.57h5.45v1.951h-5.45zM281.11 90.88h5.45v1.951h-5.45zM301.73 94.18h5.45v1.951h-5.45zM337.81 95.83h5.45v1.951h-5.45zM270.80 99.13h5.45v1.951h-5.45zM281.11 100.78h5.45v1.951h-5.45zM296.57 100.78h5.45v1.951h-5.45zM270.80 102.44h5.45v1.951h-5.45zM322.35 102.44h5.45v1.951h-5.45zM301.73 107.39h5.45v1.951h-5.45zM337.81 107.39h5.45v1.951h-5.45zM306.88 109.04h5.45v1.951h-5.45zM275.95 110.69h5.45v1.951h-5.45zM296.57 114.00h5.45v1.951h-5.45zM291.42 115.65h5.45v1.951h-5.45zM306.88 115.65h5.45v1.951h-5.45zM306.88 123.90h5.45v1.951h-5.45zM337.81 123.90h5.45v1.951h-5.45zM348.12 123.90h5.45v1.951h-5.45zM286.26 125.55h5.45v1.951h-5.45zM270.80 128.86h5.45v1.951h-5.45zM306.88 128.86h5.45v1.951h-5.45zM291.42 133.81h5.45v1.951h-5.45zM337.81 142.07h5.45v1.951h-5.45zM322.35 143.72h5.45v1.951h-5.45zM337.81 143.72h5.45v1.951h-5.45zM286.26 145.37h5.45v1.951h-5.45zM291.42 147.02h5.45v1.951h-5.45zM353.28 147.02h5.45v1.951h-5.45zM301.73 151.98h5.45v1.951h-5.45zM327.50 156.93h5.45v1.951h-5.45zM270.80 158.58h5.45v1.951h-5.45zM281.11 160.23h5.45v1.951h-5.45zM327.50 165.19h5.45v1.951h-5.45zM322.35 173.44h5.45v1.951h-5.45zM337.81 173.44h5.45v1.951h-5.45zM342.97 175.09h5.45v1.951h-5.45zM296.57 176.74h5.45v1.951h-5.45zM322.35 178.40h5.45v1.951h-5.45zM275.95 180.05h5.45v1.951h-5.45zM337.81 191.61h5.45v1.951h-5.45zM322.35 194.91h5.45v1.951h-5.45zM270.80 198.21h5.45v1.951h-5.45zM275.95 198.21h5.45v1.951h-5.45zM286.26 201.51h5.45v1.951h-5.45zM306.88 201.51h5.45v1.951h-5.45zM281.11 204.82h5.45v1.951h-5.45zM270.80 209.77h5.45v1.951h-5.45zM296.57 211.42h5.45v1.951h-5.45zM291.42 214.72h5.45v1.951h-5.45zM317.19 214.72h5.45v1.951h-5.45zM358.44 216.38h5.45v1.951h-5.45zM286.26 218.03h5.45v1.951h-5.45zM275.95 219.68h5.45v1.951h-5.45zM301.73 224.63h5.45v1.951h-5.45zM312.04 232.89h5.45v1.951h-5.45zM327.50 236.19h5.45v1.951h-5.45zM358.44 239.49h5.45v1.951h-5.45zM337.81 244.45h5.45v1.951h-5.45zM348.12 246.10h5.45v1.951h-5.45zM337.81 259.31h5.45v1.951h-5.45zM322.35 260.96h5.45v1.951h-5.45zM337.81 262.61h5.45v1.951h-5.45zM358.44 264.26h5.45v1.951h-5.45zM301.73 267.57h5.45v1.951h-5.45zM358.44 267.57h5.45v1.951h-5.45zM327.50 269.22h5.45v1.951h-5.45zM342.97 270.87h5.45v1.951h-5.45zM296.57 274.17h5.45v1.951h-5.45zM291.42 275.82h5.45v1.951h-5.45zM342.97 277.47h5.45v1.951h-5.45zM306.88 282.43h5.45v1.951h-5.45zM291.42 284.08h5.45v1.951h-5.45zM332.66 285.73h5.45v1.951h-5.45zM327.50 292.34h5.45v1.951h-5.45zM342.97 298.94h5.45v1.951h-5.45zM358.44 303.89h5.45v1.951h-5.45zM296.57 307.20h5.45v1.951h-5.45zM348.12 310.50h5.45v1.951h-5.45zM322.35 318.76h5.45v1.951h-5.45zM296.57 320.41h5.45v1.951h-5.45zM286.26 322.06h5.45v1.951h-5.45zM301.73 322.06h5.45v1.951h-5.45zM337.81 322.06h5.45v1.951h-5.45zM353.28 327.01h5.45v1.951h-5.45zM291.42 328.66h5.45v1.951h-5.45zM342.97 331.97h5.45v1.951h-5.45zM270.80 340.22h5.45v1.951h-5.45zM337.81 343.53h5.45v1.951h-5.45zM322.35 350.13h5.45v1.951h-5.45zM358.44 350.13h5.45v1.951h-5.45zM322.35 355.08h5.45v1.951h-5.45zM342.97 356.74h5.45v1.951h-5.45zM322.35 358.39h5.45v1.951h-5.45zM275.95 361.69h5.45v1.951h-5.45zM322.35 364.99h5.45v1.951h-5.45zM332.66 364.99h5.45v1.951h-5.45zM348.12 364.99h5.45v1.951h-5.45zM348.12 366.64h5.45v1.951h-5.45zM275.95 368.29h5.45v1.951h-5.45zM301.73 368.29h5.45v1.951h-5.45zM342.97 371.60h5.45v1.951h-5.45zM348.12 371.60h5.45v1.951h-5.45zM327.50 373.25h5.45v1.651h-5.45z"/>
<path fill="#7c8bc5" d="M327.50 61.15h5.45v1.951h-5.45zM337.81 69.41h5.45v1.951h-5.45zM342.97 76.02h5.45v1.951h-5.45zM286.26 80.97h5.45v1.951h-5.45zM281.11 99.13h5.45v1.951h-5.45zM291.42 110.69h5.45v1.951h-5.45zM306.88 110.69h5.45v1.951h-5.45zM291.42 114.00h5.45v1.951h-5.45zM296.57 122.25h5.45v1.951h-5.45zM291.42 127.21h5.45v1.951h-5.45zM301.73 135.46h5.45v1.951h-5.45zM270.80 137.11h5.45v1.951h-5.45zM281.11 140.42h5.45v1.951h-5.45zM296.57 142.07h5.45v1.951h-5.45zM358.44 143.72h5.45v1.951h-5.45zM291.42 150.32h5.45v1.951h-5.45zM337.81 161.88h5.45v1.951h-5.45zM270.80 165.19h5.45v1.951h-5.45zM281.11 168.49h5.45v1.951h-5.45zM327.50 170.14h5.45v1.951h-5.45zM353.28 170.14h5.45v1.951h-5.45zM327.50 173.44h5.45v1.951h-5.45zM275.95 183.35h5.45v1.951h-5.45zM296.57 183.35h5.45v1.951h-5.45zM301.73 183.35h5.45v1.951h-5.45zM291.42 186.65h5.45v1.951h-5.45zM275.95 196.56h5.45v1.951h-5.45zM296.57 201.51h5.45v1.951h-5.45zM296.57 203.17h5.45v1.951h-5.45zM358.44 213.07h5.45v1.951h-5.45zM281.11 218.03h5.45v1.951h-5.45zM291.42 221.33h5.45v1.951h-5.45zM270.80 226.28h5.45v1.951h-5.45zM296.57 226.28h5.45v1.951h-5.45zM301.73 231.24h5.45v1.951h-5.45zM342.97 234.54h5.45v1.951h-5.45zM270.80 236.19h5.45v1.951h-5.45zM301.73 236.19h5.45v1.951h-5.45zM322.35 254.36h5.45v1.951h-5.45zM342.97 256.01h5.45v1.951h-5.45zM337.81 260.96h5.45v1.951h-5.45zM322.35 289.03h5.45v1.951h-5.45zM327.50 300.59h5.45v1.951h-5.45zM281.11 315.45h5.45v1.951h-5.45zM322.35 315.45h5.45v1.951h-5.45zM342.97 317.10h5.45v1.951h-5.45zM312.04 322.06h5.45v1.951h-5.45zM337.81 323.71h5.45v1.951h-5.45zM275.95 331.97h5.45v1.951h-5.45zM332.66 333.62h5.45v1.951h-5.45zM342.97 338.57h5.45v1.951h-5.45zM342.97 350.13h5.45v1.951h-5.45zM322.35 356.74h5.45v1.951h-5.45zM322.35 361.69h5.45v1.951h-5.45zM348.12 369.95h5.45v1.951h-5.45zM306.88 373.25h5.45v1.651h-5.45z"/>
<path fill="#96a2d0" d="M301.73 67.76h5.45v1.951h-5.45zM275.95 74.36h5.45v1.951h-5.45zM281.11 89.23h5.45v1.951h-5.45zM286.26 95.83h5.45v1.951h-5.45zM332.66 114.00h5.45v1.951h-5.45zM301.73 115.65h5.45v1.951h-5.45zM301.73 117.30h5.45v1.951h-5.45zM322.35 125.55h5.45v1.951h-5.45zM337.81 125.55h5.45v1.951h-5.45zM327.50 127.21h5.45v1.951h-5.45zM327.50 132.16h5.45v1.951h-5.45zM281.11 135.46h5.45v1.951h-5.45zM353.28 161.88h5.45v1.951h-5.45zM270.80 166.84h5.45v1.951h-5.45zM296.57 168.49h5.45v1.951h-5.45zM301.73 171.79h5.45v1.951h-5.45zM281.11 191.61h5.45v1.951h-5.45zM296.57 193.26h5.45v1.951h-5.45zM327.50 194.91h5.45v1.951h-5.45zM296.57 196.56h5.45v1.951h-5.45zM286.26 198.21h5.45v1.951h-5.45zM358.44 198.21h5.45v1.951h-5.45zM291.42 199.86h5.45v1.951h-5.45zM291.42 204.82h5.45v1.951h-5.45zM337.81 204.82h5.45v1.951h-5.45zM275.95 211.42h5.45v1.951h-5.45zM301.73 211.42h5.45v1.951h-5.45zM281.11 216.38h5.45v1.951h-5.45zM358.44 224.63h5.45v1.951h-5.45zM332.66 226.28h5.45v1.951h-5.45zM348.12 231.24h5.45v1.951h-5.45zM322.35 232.89h5.45v1.951h-5.45zM296.57 241.15h5.45v1.951h-5.45zM322.35 241.15h5.45v1.951h-5.45zM286.26 259.31h5.45v1.951h-5.45zM270.80 267.57h5.45v1.951h-5.45zM348.12 269.22h5.45v1.951h-5.45zM301.73 279.12h5.45v1.951h-5.45zM332.66 302.24h5.45v1.951h-5.45zM358.44 307.20h5.45v1.951h-5.45zM353.28 313.80h5.45v1.951h-5.45zM291.42 317.10h5.45v1.951h-5.45zM291.42 322.06h5.45v1.951h-5.45zM348.12 322.06h5.45v1.951h-5.45zM332.66 338.57h5.45v1.951h-5.45zM353.28 338.57h5.45v1.951h-5.45zM306.88 340.22h5.45v1.951h-5.45zM306.88 341.87h5.45v1.951h-5.45zM337.81 351.78h5.45v1.951h-5.45zM322.35 363.34h5.45v1.951h-5.45zM337.81 363.34h5.45v1.951h-5.45zM348.12 368.29h5.45v1.951h-5.45z"/>
<defs><linearGradient id="gB" x1="0" x2="1" y1="0" y2="0"><stop offset="0" stop-color="#3a4fa6"/><stop offset="0.5" stop-color="#ffffff"/><stop offset="1" stop-color="#e52026"/></linearGradient><linearGradient id="gC" x1="0" x2="1" y1="0" y2="0"><stop offset="0" stop-color="#2a3a96"/><stop offset="0.5" stop-color="#ffffff"/><stop offset="1" stop-color="#ec1c24"/></linearGradient></defs>
<rect x="333.2" y="378.7" width="38.3" height="3.5" fill="url(#gB)"/>
<text x="331.25" y="388.0" font-size="6.25" text-anchor="middle" fill="#444" stroke="#444" stroke-width="0.1">−2.00</text>
<text x="352.35" y="388.0" font-size="6.25" text-anchor="middle" fill="#444" stroke="#444" stroke-width="0.1">−0.000</text>
<text x="371.55" y="388.0" font-size="6.25" text-anchor="middle" fill="#444" stroke="#444" stroke-width="0.1">2.00</text>
<rect x="446.70" y="63.50" width="16.30" height="11.86" fill="#ee7b7e"/>
<rect x="463.00" y="63.50" width="16.60" height="11.86" fill="#f2cfd2"/>
<rect x="479.60" y="63.50" width="16.10" height="11.86" fill="#f4dbdc"/>
<text x="444.3" y="71.78" font-size="7.5" text-anchor="end" fill="#231f20" stroke="#231f20" stroke-width="0.12">GLUT-1</text>
<rect x="446.70" y="75.36" width="16.30" height="11.86" fill="#dcdcdc"/>
<rect x="463.00" y="75.36" width="16.60" height="11.86" fill="#f3d6d8"/>
<rect x="479.60" y="75.36" width="16.10" height="11.86" fill="#8a8bcc"/>
<text x="444.3" y="83.65" font-size="7.5" text-anchor="end" fill="#231f20" stroke="#231f20" stroke-width="0.12">HK2</text>
<rect x="446.70" y="87.22" width="16.30" height="11.86" fill="#f1f0f0"/>
<rect x="463.00" y="87.22" width="16.60" height="11.86" fill="#efeeee"/>
<rect x="479.60" y="87.22" width="16.10" height="11.86" fill="#9a9ad2"/>
<text x="444.3" y="95.52" font-size="7.5" text-anchor="end" fill="#231f20" stroke="#231f20" stroke-width="0.12">ALDOA</text>
<rect x="446.70" y="99.08" width="16.30" height="11.86" fill="#d8d8e0"/>
<rect x="463.00" y="99.08" width="16.60" height="11.86" fill="#8687c9"/>
<rect x="479.60" y="99.08" width="16.10" height="11.86" fill="#b0b0dc"/>
<text x="444.3" y="107.39" font-size="7.5" text-anchor="end" fill="#231f20" stroke="#231f20" stroke-width="0.12">GPIHBP1</text>
<rect x="446.70" y="110.94" width="16.30" height="11.86" fill="#f0eeee"/>
<rect x="463.00" y="110.94" width="16.60" height="11.86" fill="#8a8bcb"/>
<rect x="479.60" y="110.94" width="16.10" height="11.86" fill="#a0a0d6"/>
<text x="444.3" y="119.26" font-size="7.5" text-anchor="end" fill="#231f20" stroke="#231f20" stroke-width="0.12">PFKM</text>
<rect x="446.70" y="122.80" width="16.30" height="11.86" fill="#dadcec"/>
<rect x="463.00" y="122.80" width="16.60" height="11.86" fill="#aaa8d8"/>
<rect x="479.60" y="122.80" width="16.10" height="11.86" fill="#9d9cd4"/>
<text x="444.3" y="131.13" font-size="7.5" text-anchor="end" fill="#231f20" stroke="#231f20" stroke-width="0.12">ALDH3B2</text>
<rect x="446.70" y="134.66" width="16.30" height="11.86" fill="#dcdcdc"/>
<rect x="463.00" y="134.66" width="16.60" height="11.86" fill="#8f8fcf"/>
<rect x="479.60" y="134.66" width="16.10" height="11.86" fill="#ffffff"/>
<text x="444.3" y="143.00" font-size="7.5" text-anchor="end" fill="#231f20" stroke="#231f20" stroke-width="0.12">ENO1</text>
<rect x="446.70" y="146.52" width="16.30" height="11.86" fill="#eeeeee"/>
<rect x="463.00" y="146.52" width="16.60" height="11.86" fill="#d6d6e2"/>
<rect x="479.60" y="146.52" width="16.10" height="11.86" fill="#d4d4e0"/>
<text x="444.3" y="154.87" font-size="7.5" text-anchor="end" fill="#231f20" stroke="#231f20" stroke-width="0.12">LDHA</text>
<rect x="446.70" y="158.38" width="16.30" height="11.86" fill="#efefef"/>
<rect x="463.00" y="158.38" width="16.60" height="11.86" fill="#f0dcdc"/>
<rect x="479.60" y="158.38" width="16.10" height="11.86" fill="#8b8ccc"/>
<text x="444.3" y="166.74" font-size="7.5" text-anchor="end" fill="#231f20" stroke="#231f20" stroke-width="0.12">LDHB</text>
<rect x="446.70" y="170.24" width="16.30" height="11.86" fill="#f1e8e8"/>
<rect x="463.00" y="170.24" width="16.60" height="11.86" fill="#f1e4e4"/>
<rect x="479.60" y="170.24" width="16.10" height="11.86" fill="#ee6666"/>
<text x="444.3" y="178.61" font-size="7.5" text-anchor="end" fill="#231f20" stroke="#231f20" stroke-width="0.12">PDHB</text>
<rect x="446.70" y="182.10" width="16.30" height="11.86" fill="#f0e8e8"/>
<rect x="463.00" y="182.10" width="16.60" height="11.86" fill="#f0b5b8"/>
<rect x="479.60" y="182.10" width="16.10" height="11.86" fill="#f3d4d6"/>
<text x="444.3" y="190.48" font-size="7.5" text-anchor="end" fill="#231f20" stroke="#231f20" stroke-width="0.12">NDUFA1</text>
<rect x="446.70" y="193.96" width="16.30" height="11.86" fill="#cfd1e2"/>
<rect x="463.00" y="193.96" width="16.60" height="11.86" fill="#cfd1e2"/>
<rect x="479.60" y="193.96" width="16.10" height="11.86" fill="#ee6f71"/>
<text x="444.3" y="202.35" font-size="7.5" text-anchor="end" fill="#231f20" stroke="#231f20" stroke-width="0.12">SDHB</text>
<rect x="446.70" y="205.82" width="16.30" height="11.86" fill="#f1e5e6"/>
<rect x="463.00" y="205.82" width="16.60" height="11.86" fill="#f0eced"/>
<rect x="479.60" y="205.82" width="16.10" height="11.86" fill="#ec2227"/>
<text x="444.3" y="214.22" font-size="7.5" text-anchor="end" fill="#231f20" stroke="#231f20" stroke-width="0.12">SDHC</text>
<rect x="446.70" y="217.68" width="16.30" height="11.86" fill="#f0ecec"/>
<rect x="463.00" y="217.68" width="16.60" height="11.86" fill="#f1cacc"/>
<rect x="479.60" y="217.68" width="16.10" height="11.86" fill="#ef9192"/>
<text x="444.3" y="226.09" font-size="7.5" text-anchor="end" fill="#231f20" stroke="#231f20" stroke-width="0.12">SDHD</text>
<rect x="446.70" y="229.54" width="16.30" height="11.86" fill="#efefef"/>
<rect x="463.00" y="229.54" width="16.60" height="11.86" fill="#f1c4c6"/>
<rect x="479.60" y="229.54" width="16.10" height="11.86" fill="#ec1e24"/>
<text x="444.3" y="237.96" font-size="7.5" text-anchor="end" fill="#231f20" stroke="#231f20" stroke-width="0.12">IDH2</text>
<rect x="446.70" y="241.40" width="16.30" height="11.86" fill="#e6e7f0"/>
<rect x="463.00" y="241.40" width="16.60" height="11.86" fill="#f0eded"/>
<rect x="479.60" y="241.40" width="16.10" height="11.86" fill="#f0a1a3"/>
<text x="444.3" y="249.83" font-size="7.5" text-anchor="end" fill="#231f20" stroke="#231f20" stroke-width="0.12">FH</text>
<rect x="446.70" y="253.26" width="16.30" height="11.86" fill="#f0eeee"/>
<rect x="463.00" y="253.26" width="16.60" height="11.86" fill="#f09799"/>
<rect x="479.60" y="253.26" width="16.10" height="11.86" fill="#ee7073"/>
<text x="444.3" y="261.70" font-size="7.5" text-anchor="end" fill="#231f20" stroke="#231f20" stroke-width="0.12">ACLY</text>
<rect x="446.70" y="265.12" width="16.30" height="11.86" fill="#f1dcde"/>
<rect x="463.00" y="265.12" width="16.60" height="11.86" fill="#ec2427"/>
<rect x="479.60" y="265.12" width="16.10" height="11.86" fill="#f1cfd1"/>
<text x="444.3" y="273.57" font-size="7.5" text-anchor="end" fill="#231f20" stroke="#231f20" stroke-width="0.12">TFAM</text>
<text transform="translate(455.3,62.0) rotate(-45)" font-size="7.3" fill="#231f20" stroke="#231f20" stroke-width="0.1">NB4</text>
<text transform="translate(471.3,62.0) rotate(-45)" font-size="7.3" fill="#231f20" stroke="#231f20" stroke-width="0.1">NB4 EV-AsR1</text>
<text transform="translate(488.0,62.0) rotate(-45)" font-size="7.3" fill="#231f20" stroke="#231f20" stroke-width="0.1">UF1</text>
<path d="M497.9 64.3H502.4V169.4H498.1" fill="none" stroke="#555" stroke-width="0.8"/>
<path d="M498.1 171.3H502.4V276.3H497.9" fill="none" stroke="#555" stroke-width="0.8"/>
<text transform="translate(510.3,117.2) rotate(-90)" font-size="7.45" text-anchor="middle" fill="#231f20">Glycolytic metabolism</text>
<text transform="translate(510.3,223.7) rotate(-90)" font-size="7.45" text-anchor="middle" fill="#231f20">Mitochondrial metabolism</text>
<rect x="454.5" y="278.7" width="33.4" height="7.4" fill="url(#gC)"/>
<text x="454.5" y="292.8" font-size="6.0" text-anchor="middle" fill="#444">−2</text>
<text x="462" y="292.8" font-size="6.0" text-anchor="middle" fill="#444">−1</text>
<text x="470.5" y="292.8" font-size="6.0" text-anchor="middle" fill="#444">0</text>
<text x="478.8" y="292.8" font-size="6.0" text-anchor="middle" fill="#444">1</text>
<text x="487.4" y="292.8" font-size="6.0" text-anchor="middle" fill="#444">2</text>
<rect x="0.5" y="0.5" width="519" height="394" fill="none" stroke="#231f20" stroke-width="1"/>
</svg></body></html>
